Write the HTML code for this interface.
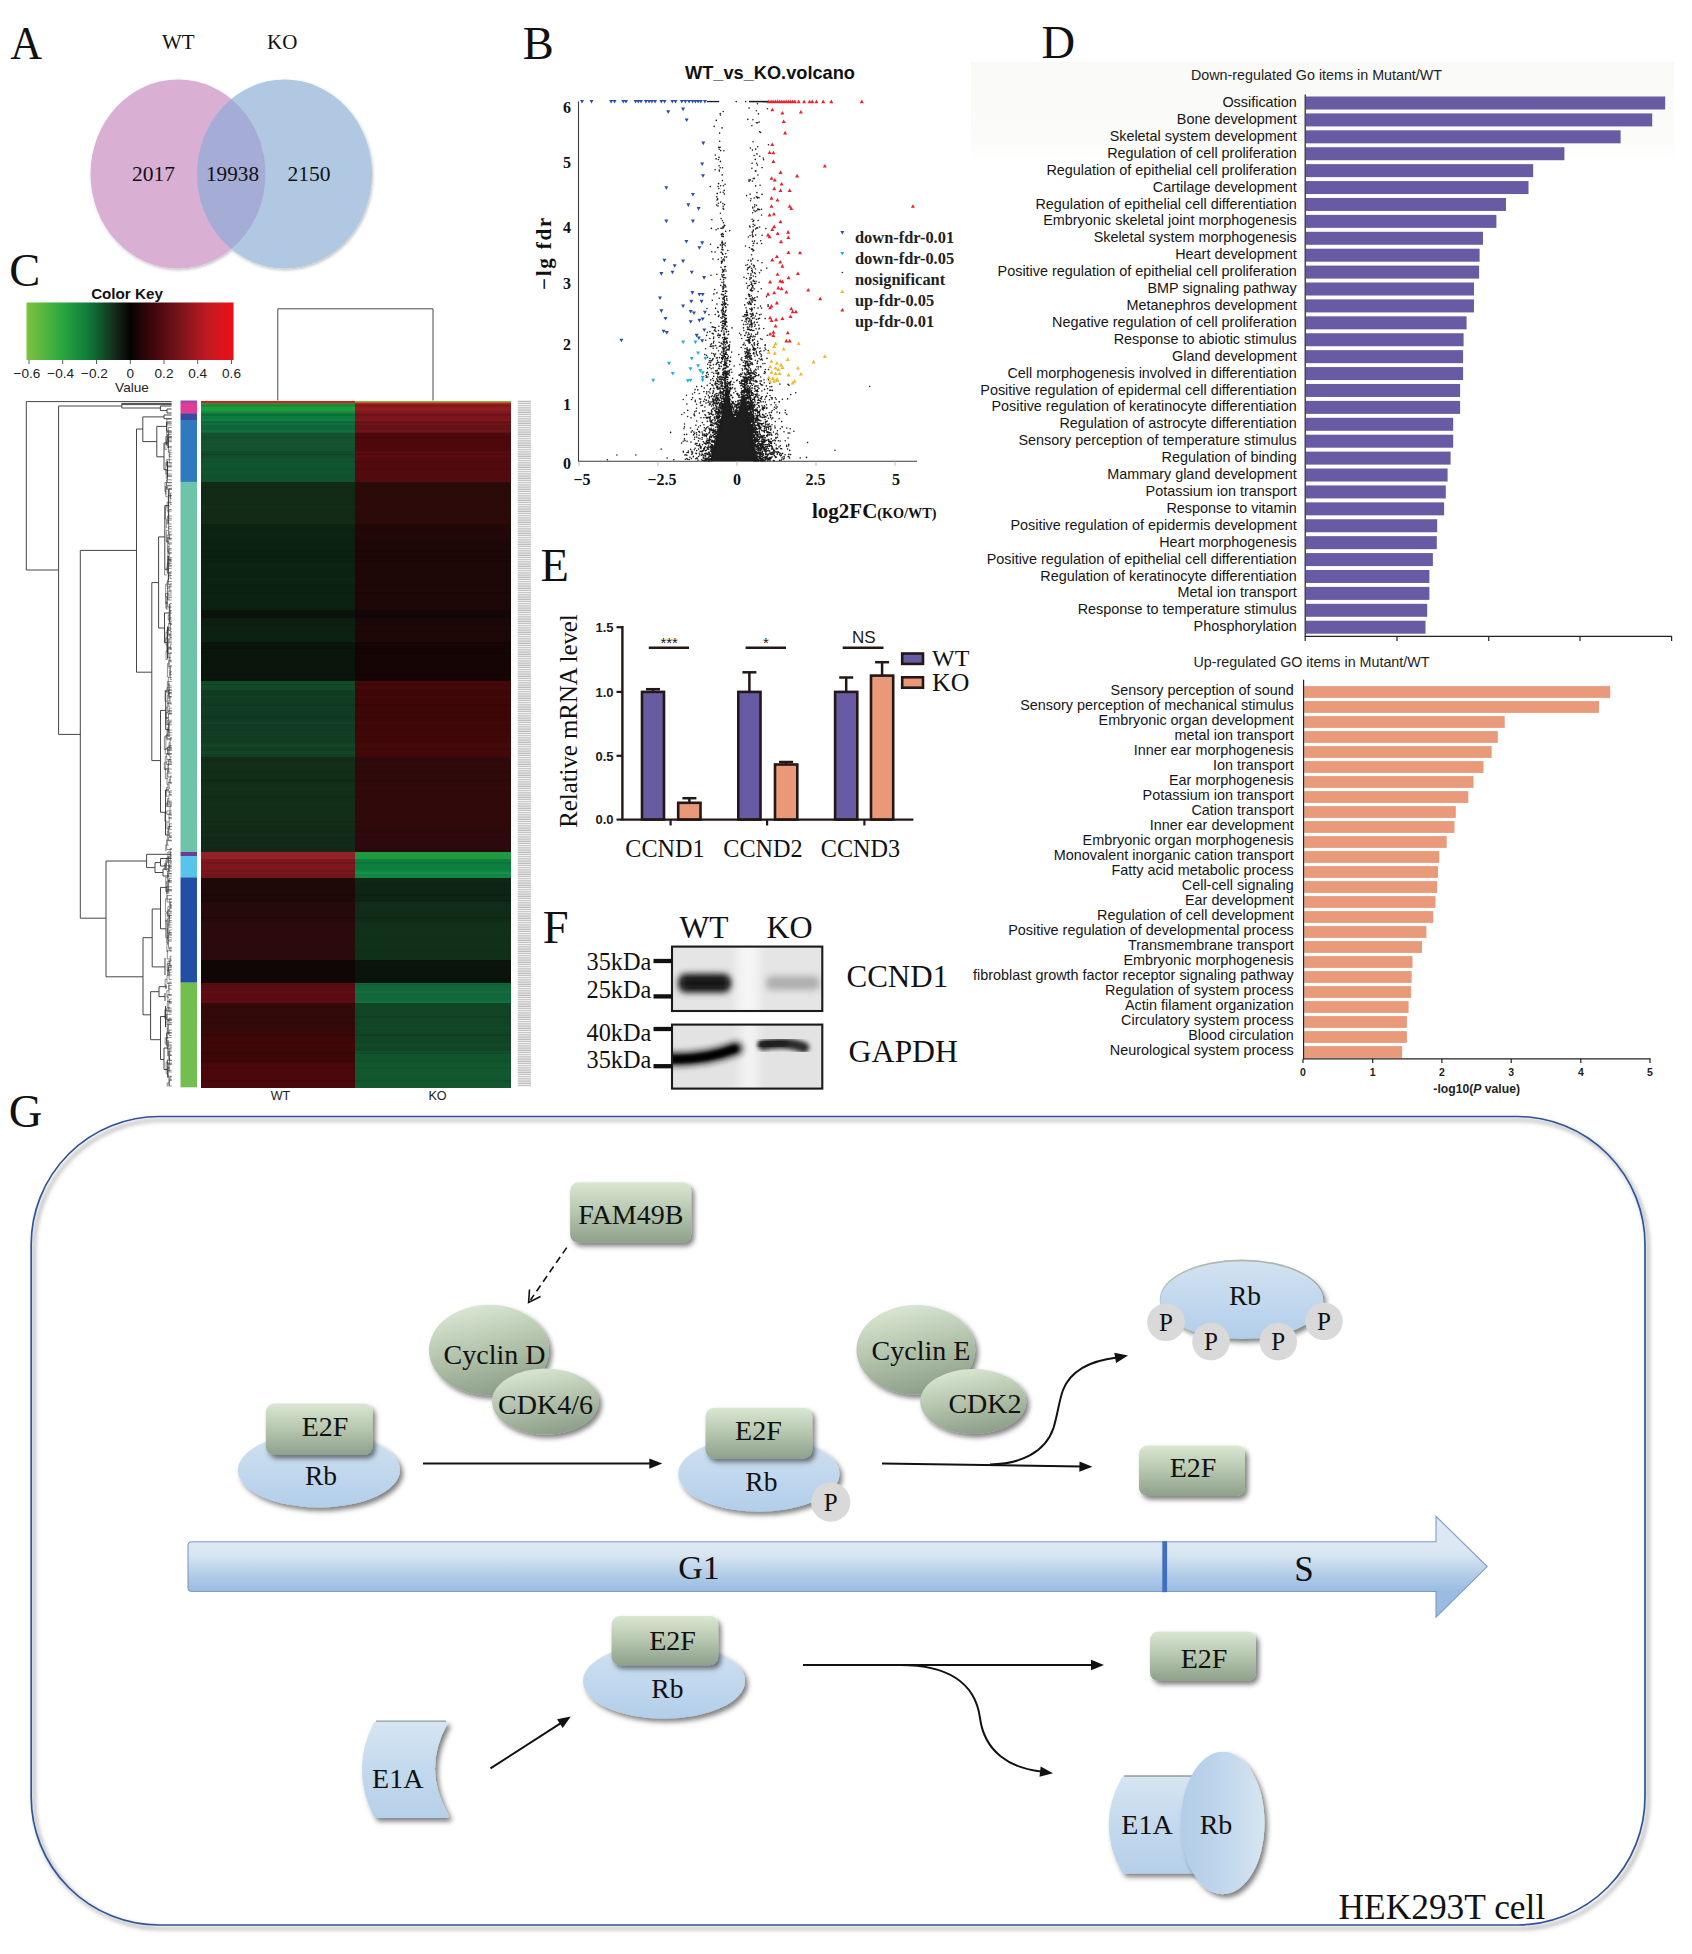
<!DOCTYPE html>
<html lang="en"><head><meta charset="utf-8"><title>Figure</title>
<style>html,body{margin:0;padding:0;background:#fff}svg{display:block}text{white-space:pre}</style></head>
<body><svg width="1692" height="1954" viewBox="0 0 1692 1954">
<defs>
<linearGradient id="ckey" x1="0" x2="1" y1="0" y2="0">
<stop offset="0" stop-color="#7ec13f"/><stop offset="0.17" stop-color="#2aa83f"/><stop offset="0.3" stop-color="#0f7a3a"/><stop offset="0.42" stop-color="#14301c"/><stop offset="0.5" stop-color="#060304"/><stop offset="0.6" stop-color="#3a070b"/><stop offset="0.75" stop-color="#7d141c"/><stop offset="0.88" stop-color="#c41a22"/><stop offset="1" stop-color="#ee0e18"/>
</linearGradient>
<pattern id="hatch" width="14" height="2.2" patternUnits="userSpaceOnUse"><rect width="14" height="2.2" fill="#f6f6f6"/><rect y="0.3" width="14" height="1.1" fill="#b8b8b8"/></pattern>
<linearGradient id="dbg" x1="0" x2="0" y1="0" y2="1"><stop offset="0" stop-color="#f9f9f6"/><stop offset="0.8" stop-color="#fbfbf9"/><stop offset="1" stop-color="#ffffff"/></linearGradient>
<linearGradient id="ggrad" x1="0" x2="0" y1="0" y2="1"><stop offset="0" stop-color="#dae7d2"/><stop offset="0.45" stop-color="#b9c9b2"/><stop offset="1" stop-color="#8fa18b"/></linearGradient>
<linearGradient id="gell" x1="0.3" x2="0.6" y1="0" y2="1"><stop offset="0" stop-color="#dbe8d3"/><stop offset="0.45" stop-color="#b7c7b0"/><stop offset="1" stop-color="#8c9e88"/></linearGradient>
<linearGradient id="bgrad" x1="0" x2="0" y1="0" y2="1"><stop offset="0" stop-color="#d2e2f1"/><stop offset="1" stop-color="#b2ceea"/></linearGradient>
<linearGradient id="bgrad2" x1="0" x2="0" y1="0" y2="1"><stop offset="0" stop-color="#d6e5f2"/><stop offset="0.5" stop-color="#c3d9ed"/><stop offset="1" stop-color="#b6d0e9"/></linearGradient>
<linearGradient id="bgradh" x1="0" x2="1" y1="0" y2="0"><stop offset="0" stop-color="#b2cde8"/><stop offset="0.4" stop-color="#bcd4eb"/><stop offset="1" stop-color="#d6e5f2"/></linearGradient>
<linearGradient id="barg" gradientUnits="userSpaceOnUse" x1="0" x2="0" y1="1541.7" y2="1591.5"><stop offset="0" stop-color="#dde8f3"/><stop offset="0.25" stop-color="#d9e6f2"/><stop offset="0.5" stop-color="#c2d7ec"/><stop offset="0.75" stop-color="#abc8e6"/><stop offset="1" stop-color="#9abce2"/></linearGradient>
<linearGradient id="headg" gradientUnits="userSpaceOnUse" x1="0" x2="0" y1="1516" y2="1617"><stop offset="0" stop-color="#dfe9f4"/><stop offset="0.35" stop-color="#d3e2f0"/><stop offset="0.6" stop-color="#b9d1ea"/><stop offset="1" stop-color="#9abce2"/></linearGradient>
<filter id="sh" x="-20%" y="-20%" width="140%" height="150%"><feDropShadow dx="3" dy="3.5" stdDeviation="2.4" flood-color="#000" flood-opacity="0.5"/></filter>
<filter id="sh2" x="-20%" y="-20%" width="140%" height="140%"><feDropShadow dx="1" dy="1.5" stdDeviation="1.5" flood-color="#000" flood-opacity="0.25"/></filter>
<filter id="shbig" x="-5%" y="-5%" width="110%" height="110%"><feDropShadow dx="3" dy="3.5" stdDeviation="2" flood-color="#000" flood-opacity="0.55"/></filter>
<filter id="bl2" x="-30%" y="-100%" width="160%" height="300%"><feGaussianBlur stdDeviation="1.6"/></filter>
<filter id="bl3" x="-30%" y="-100%" width="160%" height="300%"><feGaussianBlur stdDeviation="2.2"/></filter>
<filter id="bl4" x="-30%" y="-150%" width="160%" height="400%"><feGaussianBlur stdDeviation="3.2"/></filter>
<filter id="bl6" x="-80%" y="-30%" width="260%" height="160%"><feGaussianBlur stdDeviation="5"/></filter>
</defs>
<rect width="1692" height="1954" fill="#ffffff"/>
<g id="panelA">
<text x="10.3" y="58.8" font-family="Liberation Serif, serif" font-size="46.5" fill="#111" transform="translate(10.3,0) scale(0.95,1) translate(-10.3,0)">A</text>
<text x="162.0" y="49.3" font-family="Liberation Serif, serif" font-size="21" fill="#111">WT</text>
<text x="267.0" y="49.3" font-family="Liberation Serif, serif" font-size="21" fill="#111">KO</text>
<g filter="url(#sh2)">
<ellipse cx="178" cy="174" rx="87.5" ry="94.5" fill="#d9afd3"/>
<ellipse cx="284.5" cy="174" rx="87.5" ry="94.5" fill="#b0c8e2"/>
</g>
<clipPath id="cpA"><ellipse cx="178" cy="174" rx="87.5" ry="94.5"/></clipPath>
<ellipse cx="284.5" cy="174" rx="87.5" ry="94.5" fill="#a5acd6" clip-path="url(#cpA)"/>
<text x="153.5" y="181.2" font-family="Liberation Serif, serif" font-size="21.5" text-anchor="middle" fill="#111">2017</text>
<text x="232.5" y="181.2" font-family="Liberation Serif, serif" font-size="21.2" text-anchor="middle" fill="#111">19938</text>
<text x="309.0" y="181.2" font-family="Liberation Serif, serif" font-size="21.5" text-anchor="middle" fill="#111">2150</text>
</g>
<g id="panelC">
<text x="9.3" y="286.4" font-family="Liberation Serif, serif" font-size="46.5" fill="#111">C</text>
<text x="127.0" y="298.8" font-family="Liberation Sans, sans-serif" font-size="15.2" font-weight="bold" text-anchor="middle" fill="#111">Color Key</text>
<rect x="26.50" y="302.50" width="207.00" height="57.50" fill="url(#ckey)"/>
<line x1="29.0" y1="360.0" x2="29.0" y2="364.0" stroke="#333" stroke-width="0.8"/>
<text x="27.0" y="378.3" font-family="Liberation Sans, sans-serif" font-size="13.6" text-anchor="middle" fill="#222">−0.6</text>
<line x1="62.7" y1="360.0" x2="62.7" y2="364.0" stroke="#333" stroke-width="0.8"/>
<text x="60.7" y="378.3" font-family="Liberation Sans, sans-serif" font-size="13.6" text-anchor="middle" fill="#222">−0.4</text>
<line x1="96.5" y1="360.0" x2="96.5" y2="364.0" stroke="#333" stroke-width="0.8"/>
<text x="94.5" y="378.3" font-family="Liberation Sans, sans-serif" font-size="13.6" text-anchor="middle" fill="#222">−0.2</text>
<line x1="130.3" y1="360.0" x2="130.3" y2="364.0" stroke="#333" stroke-width="0.8"/>
<text x="130.3" y="378.3" font-family="Liberation Sans, sans-serif" font-size="13.6" text-anchor="middle" fill="#222">0</text>
<line x1="164.0" y1="360.0" x2="164.0" y2="364.0" stroke="#333" stroke-width="0.8"/>
<text x="164.0" y="378.3" font-family="Liberation Sans, sans-serif" font-size="13.6" text-anchor="middle" fill="#222">0.2</text>
<line x1="197.7" y1="360.0" x2="197.7" y2="364.0" stroke="#333" stroke-width="0.8"/>
<text x="197.7" y="378.3" font-family="Liberation Sans, sans-serif" font-size="13.6" text-anchor="middle" fill="#222">0.4</text>
<line x1="231.5" y1="360.0" x2="231.5" y2="364.0" stroke="#333" stroke-width="0.8"/>
<text x="231.5" y="378.3" font-family="Liberation Sans, sans-serif" font-size="13.6" text-anchor="middle" fill="#222">0.6</text>
<text x="132.0" y="392.0" font-family="Liberation Sans, sans-serif" font-size="13.6" text-anchor="middle" fill="#222">Value</text>
<path d="M277.8 400.5V308.8H433V400.5" fill="none" stroke="#4a4a4a" stroke-width="1"/>
<rect x="180.50" y="400.50" width="16.50" height="2.80" fill="#a04aa8"/>
<rect x="180.50" y="403.00" width="16.50" height="10.60" fill="#e43b97"/>
<rect x="180.50" y="413.30" width="16.50" height="7.00" fill="#3b4ba0"/>
<rect x="180.50" y="420.00" width="16.50" height="62.10" fill="#2f79bf"/>
<rect x="180.50" y="481.80" width="16.50" height="370.50" fill="#6ec3a9"/>
<rect x="180.50" y="852.00" width="16.50" height="4.30" fill="#6a3d9a"/>
<rect x="180.50" y="856.00" width="16.50" height="21.80" fill="#58c4ea"/>
<rect x="180.50" y="877.50" width="16.50" height="105.30" fill="#224fa3"/>
<rect x="180.50" y="982.50" width="16.50" height="104.80" fill="#72bf50"/>
<g shape-rendering="crispEdges">
<rect x="201.00" y="400.50" width="154.50" height="3.10" fill="#e3161c"/>
<rect x="355.30" y="400.50" width="155.30" height="3.10" fill="#6fbe3f"/>
<rect x="201.00" y="403.00" width="154.50" height="10.90" fill="#1f9a3f"/>
<rect x="355.30" y="403.00" width="155.30" height="10.90" fill="#8e1d22"/>
<rect x="201.00" y="404.45" width="154.50" height="2.30" fill="#1c8b39"/>
<rect x="355.30" y="404.45" width="155.30" height="2.30" fill="#801a1e"/>
<rect x="201.00" y="411.43" width="154.50" height="1.73" fill="#1b8b38"/>
<rect x="355.30" y="411.43" width="155.30" height="1.73" fill="#801a1e"/>
<rect x="201.00" y="413.30" width="154.50" height="8.30" fill="#0e7a3e"/>
<rect x="355.30" y="413.30" width="155.30" height="8.30" fill="#7a161b"/>
<rect x="201.00" y="414.41" width="154.50" height="1.87" fill="#0c6e38"/>
<rect x="355.30" y="414.41" width="155.30" height="1.87" fill="#6e1318"/>
<rect x="201.00" y="418.73" width="154.50" height="1.85" fill="#0f8242"/>
<rect x="355.30" y="418.73" width="155.30" height="1.85" fill="#82171c"/>
<rect x="201.00" y="421.00" width="154.50" height="12.60" fill="#10663a"/>
<rect x="355.30" y="421.00" width="155.30" height="12.60" fill="#651217"/>
<rect x="201.00" y="422.67" width="154.50" height="2.25" fill="#11703f"/>
<rect x="355.30" y="422.67" width="155.30" height="2.25" fill="#6e1319"/>
<rect x="201.00" y="429.81" width="154.50" height="1.79" fill="#117040"/>
<rect x="355.30" y="429.81" width="155.30" height="1.79" fill="#6f1319"/>
<rect x="201.00" y="433.00" width="154.50" height="18.60" fill="#14522f"/>
<rect x="355.30" y="433.00" width="155.30" height="18.60" fill="#4c080c"/>
<rect x="201.00" y="436.58" width="154.50" height="1.58" fill="#124b2b"/>
<rect x="355.30" y="436.58" width="155.30" height="1.58" fill="#46070b"/>
<rect x="201.00" y="440.74" width="154.50" height="1.62" fill="#155732"/>
<rect x="355.30" y="440.74" width="155.30" height="1.62" fill="#51080c"/>
<rect x="201.00" y="445.26" width="154.50" height="2.16" fill="#145430"/>
<rect x="355.30" y="445.26" width="155.30" height="2.16" fill="#4e080c"/>
<rect x="201.00" y="451.00" width="154.50" height="7.60" fill="#124a2b"/>
<rect x="355.30" y="451.00" width="155.30" height="7.60" fill="#560c10"/>
<rect x="201.00" y="453.64" width="154.50" height="1.13" fill="#104226"/>
<rect x="355.30" y="453.64" width="155.30" height="1.13" fill="#4d0a0e"/>
<rect x="201.00" y="458.00" width="154.50" height="16.60" fill="#10552f"/>
<rect x="355.30" y="458.00" width="155.30" height="16.60" fill="#520a0e"/>
<rect x="201.00" y="461.04" width="154.50" height="1.86" fill="#0f512d"/>
<rect x="355.30" y="461.04" width="155.30" height="1.86" fill="#4e090d"/>
<rect x="201.00" y="467.82" width="154.50" height="1.91" fill="#0f512c"/>
<rect x="355.30" y="467.82" width="155.30" height="1.91" fill="#4e090d"/>
<rect x="201.00" y="474.00" width="154.50" height="8.60" fill="#115030"/>
<rect x="355.30" y="474.00" width="155.30" height="8.60" fill="#510a0e"/>
<rect x="201.00" y="477.10" width="154.50" height="1.49" fill="#115130"/>
<rect x="355.30" y="477.10" width="155.30" height="1.49" fill="#520a0e"/>
<rect x="201.00" y="482.00" width="154.50" height="42.60" fill="#122b17"/>
<rect x="355.30" y="482.00" width="155.30" height="42.60" fill="#2b0b0a"/>
<rect x="201.00" y="485.63" width="154.50" height="2.46" fill="#112815"/>
<rect x="355.30" y="485.63" width="155.30" height="2.46" fill="#280a09"/>
<rect x="201.00" y="494.99" width="154.50" height="1.24" fill="#112a16"/>
<rect x="355.30" y="494.99" width="155.30" height="1.24" fill="#2a0a09"/>
<rect x="201.00" y="502.01" width="154.50" height="1.30" fill="#112a16"/>
<rect x="355.30" y="502.01" width="155.30" height="1.30" fill="#2a0a09"/>
<rect x="201.00" y="505.51" width="154.50" height="2.34" fill="#132d18"/>
<rect x="355.30" y="505.51" width="155.30" height="2.34" fill="#2d0b0a"/>
<rect x="201.00" y="512.71" width="154.50" height="2.75" fill="#112916"/>
<rect x="355.30" y="512.71" width="155.30" height="2.75" fill="#290a09"/>
<rect x="201.00" y="520.94" width="154.50" height="2.19" fill="#122b17"/>
<rect x="355.30" y="520.94" width="155.30" height="2.19" fill="#2b0b0a"/>
<rect x="201.00" y="524.00" width="154.50" height="15.60" fill="#0d2311"/>
<rect x="355.30" y="524.00" width="155.30" height="15.60" fill="#230808"/>
<rect x="201.00" y="527.52" width="154.50" height="2.89" fill="#0c2210"/>
<rect x="355.30" y="527.52" width="155.30" height="2.89" fill="#220707"/>
<rect x="201.00" y="535.73" width="154.50" height="1.12" fill="#0d2411"/>
<rect x="355.30" y="535.73" width="155.30" height="1.12" fill="#240808"/>
<rect x="201.00" y="539.00" width="154.50" height="71.60" fill="#0c2210"/>
<rect x="355.30" y="539.00" width="155.30" height="71.60" fill="#1e0707"/>
<rect x="201.00" y="542.98" width="154.50" height="2.64" fill="#0b200f"/>
<rect x="355.30" y="542.98" width="155.30" height="2.64" fill="#1c0606"/>
<rect x="201.00" y="549.55" width="154.50" height="2.34" fill="#0a1e0e"/>
<rect x="355.30" y="549.55" width="155.30" height="2.34" fill="#1a0606"/>
<rect x="201.00" y="556.20" width="154.50" height="1.34" fill="#0a1f0e"/>
<rect x="355.30" y="556.20" width="155.30" height="1.34" fill="#1b0606"/>
<rect x="201.00" y="559.83" width="154.50" height="2.54" fill="#0b1f0e"/>
<rect x="355.30" y="559.83" width="155.30" height="2.54" fill="#1b0606"/>
<rect x="201.00" y="565.60" width="154.50" height="1.78" fill="#0c2411"/>
<rect x="355.30" y="565.60" width="155.30" height="1.78" fill="#200707"/>
<rect x="201.00" y="569.79" width="154.50" height="1.90" fill="#0c2210"/>
<rect x="355.30" y="569.79" width="155.30" height="1.90" fill="#1e0707"/>
<rect x="201.00" y="578.10" width="154.50" height="2.64" fill="#0c2411"/>
<rect x="355.30" y="578.10" width="155.30" height="2.64" fill="#200707"/>
<rect x="201.00" y="584.13" width="154.50" height="1.83" fill="#0b200f"/>
<rect x="355.30" y="584.13" width="155.30" height="1.83" fill="#1d0606"/>
<rect x="201.00" y="592.39" width="154.50" height="2.92" fill="#0b1f0e"/>
<rect x="355.30" y="592.39" width="155.30" height="2.92" fill="#1b0606"/>
<rect x="201.00" y="598.18" width="154.50" height="1.46" fill="#0b200f"/>
<rect x="355.30" y="598.18" width="155.30" height="1.46" fill="#1c0606"/>
<rect x="201.00" y="604.07" width="154.50" height="2.18" fill="#0b200f"/>
<rect x="355.30" y="604.07" width="155.30" height="2.18" fill="#1c0606"/>
<rect x="201.00" y="608.27" width="154.50" height="1.73" fill="#0b210f"/>
<rect x="355.30" y="608.27" width="155.30" height="1.73" fill="#1d0606"/>
<rect x="201.00" y="610.00" width="154.50" height="8.60" fill="#0a120b"/>
<rect x="355.30" y="610.00" width="155.30" height="8.60" fill="#120606"/>
<rect x="201.00" y="613.86" width="154.50" height="2.38" fill="#0a120b"/>
<rect x="355.30" y="613.86" width="155.30" height="2.38" fill="#120606"/>
<rect x="201.00" y="618.00" width="154.50" height="9.10" fill="#0c1e0f"/>
<rect x="355.30" y="618.00" width="155.30" height="9.10" fill="#1a0707"/>
<rect x="201.00" y="621.03" width="154.50" height="1.11" fill="#0d2010"/>
<rect x="355.30" y="621.03" width="155.30" height="1.11" fill="#1c0707"/>
<rect x="201.00" y="626.50" width="154.50" height="15.60" fill="#0c2210"/>
<rect x="355.30" y="626.50" width="155.30" height="15.60" fill="#1e0707"/>
<rect x="201.00" y="630.12" width="154.50" height="2.60" fill="#0b210f"/>
<rect x="355.30" y="630.12" width="155.30" height="2.60" fill="#1d0606"/>
<rect x="201.00" y="636.71" width="154.50" height="1.21" fill="#0c2310"/>
<rect x="355.30" y="636.71" width="155.30" height="1.21" fill="#1e0707"/>
<rect x="201.00" y="641.50" width="154.50" height="39.60" fill="#0a150c"/>
<rect x="355.30" y="641.50" width="155.30" height="39.60" fill="#150505"/>
<rect x="201.00" y="642.70" width="154.50" height="1.42" fill="#09130b"/>
<rect x="355.30" y="642.70" width="155.30" height="1.42" fill="#130404"/>
<rect x="201.00" y="647.82" width="154.50" height="1.11" fill="#08120a"/>
<rect x="355.30" y="647.82" width="155.30" height="1.11" fill="#120404"/>
<rect x="201.00" y="651.68" width="154.50" height="1.20" fill="#09140b"/>
<rect x="355.30" y="651.68" width="155.30" height="1.20" fill="#140404"/>
<rect x="201.00" y="655.01" width="154.50" height="2.75" fill="#0a150c"/>
<rect x="355.30" y="655.01" width="155.30" height="2.75" fill="#150505"/>
<rect x="201.00" y="660.50" width="154.50" height="1.50" fill="#09140b"/>
<rect x="355.30" y="660.50" width="155.30" height="1.50" fill="#140404"/>
<rect x="201.00" y="665.83" width="154.50" height="1.25" fill="#0a160c"/>
<rect x="355.30" y="665.83" width="155.30" height="1.25" fill="#160505"/>
<rect x="201.00" y="674.04" width="154.50" height="1.93" fill="#09140b"/>
<rect x="355.30" y="674.04" width="155.30" height="1.93" fill="#140404"/>
<rect x="201.00" y="678.40" width="154.50" height="1.20" fill="#09140b"/>
<rect x="355.30" y="678.40" width="155.30" height="1.20" fill="#140404"/>
<rect x="201.00" y="680.50" width="154.50" height="9.60" fill="#134a2a"/>
<rect x="355.30" y="680.50" width="155.30" height="9.60" fill="#440809"/>
<rect x="201.00" y="683.99" width="154.50" height="1.32" fill="#114225"/>
<rect x="355.30" y="683.99" width="155.30" height="1.32" fill="#3c0708"/>
<rect x="201.00" y="689.50" width="154.50" height="45.10" fill="#113b22"/>
<rect x="355.30" y="689.50" width="155.30" height="45.10" fill="#3d0708"/>
<rect x="201.00" y="692.08" width="154.50" height="1.29" fill="#113b22"/>
<rect x="355.30" y="692.08" width="155.30" height="1.29" fill="#3d0708"/>
<rect x="201.00" y="695.51" width="154.50" height="2.06" fill="#124125"/>
<rect x="355.30" y="695.51" width="155.30" height="2.06" fill="#430708"/>
<rect x="201.00" y="703.89" width="154.50" height="2.39" fill="#103720"/>
<rect x="355.30" y="703.89" width="155.30" height="2.39" fill="#390607"/>
<rect x="201.00" y="710.11" width="154.50" height="1.33" fill="#123e24"/>
<rect x="355.30" y="710.11" width="155.30" height="1.33" fill="#400708"/>
<rect x="201.00" y="716.11" width="154.50" height="2.56" fill="#103820"/>
<rect x="355.30" y="716.11" width="155.30" height="2.56" fill="#3a0607"/>
<rect x="201.00" y="721.78" width="154.50" height="2.62" fill="#124125"/>
<rect x="355.30" y="721.78" width="155.30" height="2.62" fill="#430708"/>
<rect x="201.00" y="730.67" width="154.50" height="2.61" fill="#123f24"/>
<rect x="355.30" y="730.67" width="155.30" height="2.61" fill="#410708"/>
<rect x="201.00" y="734.00" width="154.50" height="23.60" fill="#123f24"/>
<rect x="355.30" y="734.00" width="155.30" height="23.60" fill="#400808"/>
<rect x="201.00" y="735.68" width="154.50" height="2.04" fill="#113c22"/>
<rect x="355.30" y="735.68" width="155.30" height="2.04" fill="#3d0707"/>
<rect x="201.00" y="739.86" width="154.50" height="1.06" fill="#113b22"/>
<rect x="355.30" y="739.86" width="155.30" height="1.06" fill="#3c0707"/>
<rect x="201.00" y="744.21" width="154.50" height="2.39" fill="#134527"/>
<rect x="355.30" y="744.21" width="155.30" height="2.39" fill="#460808"/>
<rect x="201.00" y="750.83" width="154.50" height="2.87" fill="#134527"/>
<rect x="355.30" y="750.83" width="155.30" height="2.87" fill="#460808"/>
<rect x="201.00" y="757.00" width="154.50" height="69.60" fill="#122e19"/>
<rect x="355.30" y="757.00" width="155.30" height="69.60" fill="#300a0b"/>
<rect x="201.00" y="759.09" width="154.50" height="1.44" fill="#102b17"/>
<rect x="355.30" y="759.09" width="155.30" height="1.44" fill="#2d090a"/>
<rect x="201.00" y="763.52" width="154.50" height="1.41" fill="#122f19"/>
<rect x="355.30" y="763.52" width="155.30" height="1.41" fill="#310a0b"/>
<rect x="201.00" y="771.43" width="154.50" height="2.68" fill="#112d18"/>
<rect x="355.30" y="771.43" width="155.30" height="2.68" fill="#2f090a"/>
<rect x="201.00" y="779.37" width="154.50" height="2.60" fill="#102916"/>
<rect x="355.30" y="779.37" width="155.30" height="2.60" fill="#2b0909"/>
<rect x="201.00" y="787.28" width="154.50" height="2.82" fill="#13301a"/>
<rect x="355.30" y="787.28" width="155.30" height="2.82" fill="#320a0b"/>
<rect x="201.00" y="795.85" width="154.50" height="1.96" fill="#102a17"/>
<rect x="355.30" y="795.85" width="155.30" height="1.96" fill="#2c090a"/>
<rect x="201.00" y="803.75" width="154.50" height="1.67" fill="#13311a"/>
<rect x="355.30" y="803.75" width="155.30" height="1.67" fill="#330a0b"/>
<rect x="201.00" y="812.27" width="154.50" height="1.79" fill="#112d18"/>
<rect x="355.30" y="812.27" width="155.30" height="1.79" fill="#2e090a"/>
<rect x="201.00" y="820.80" width="154.50" height="2.45" fill="#102a17"/>
<rect x="355.30" y="820.80" width="155.30" height="2.45" fill="#2c090a"/>
<rect x="201.00" y="826.00" width="154.50" height="26.60" fill="#112a17"/>
<rect x="355.30" y="826.00" width="155.30" height="26.60" fill="#2c090a"/>
<rect x="201.00" y="827.45" width="154.50" height="2.81" fill="#122c18"/>
<rect x="355.30" y="827.45" width="155.30" height="2.81" fill="#2e090a"/>
<rect x="201.00" y="832.99" width="154.50" height="2.65" fill="#122e19"/>
<rect x="355.30" y="832.99" width="155.30" height="2.65" fill="#30090b"/>
<rect x="201.00" y="840.93" width="154.50" height="1.70" fill="#112a17"/>
<rect x="355.30" y="840.93" width="155.30" height="1.70" fill="#2c090a"/>
<rect x="201.00" y="845.29" width="154.50" height="1.03" fill="#122e19"/>
<rect x="355.30" y="845.29" width="155.30" height="1.03" fill="#30090b"/>
<rect x="201.00" y="852.00" width="154.50" height="7.60" fill="#95212a"/>
<rect x="355.30" y="852.00" width="155.30" height="7.60" fill="#1f9a40"/>
<rect x="201.00" y="854.58" width="154.50" height="2.87" fill="#922029"/>
<rect x="355.30" y="854.58" width="155.30" height="2.87" fill="#1e973f"/>
<rect x="201.00" y="859.00" width="154.50" height="11.60" fill="#7c171d"/>
<rect x="355.30" y="859.00" width="155.30" height="11.60" fill="#0c7e3e"/>
<rect x="201.00" y="862.48" width="154.50" height="1.42" fill="#75151b"/>
<rect x="355.30" y="862.48" width="155.30" height="1.42" fill="#0b773a"/>
<rect x="201.00" y="867.37" width="154.50" height="1.48" fill="#7e171d"/>
<rect x="355.30" y="867.37" width="155.30" height="1.48" fill="#0c803f"/>
<rect x="201.00" y="870.00" width="154.50" height="8.10" fill="#70161b"/>
<rect x="355.30" y="870.00" width="155.30" height="8.10" fill="#138544"/>
<rect x="201.00" y="872.26" width="154.50" height="1.26" fill="#7a171d"/>
<rect x="355.30" y="872.26" width="155.30" height="1.26" fill="#14904a"/>
<rect x="201.00" y="877.50" width="154.50" height="25.10" fill="#1e0808"/>
<rect x="355.30" y="877.50" width="155.30" height="25.10" fill="#0e2513"/>
<rect x="201.00" y="879.87" width="154.50" height="2.17" fill="#200808"/>
<rect x="355.30" y="879.87" width="155.30" height="2.17" fill="#0f2814"/>
<rect x="201.00" y="886.14" width="154.50" height="2.84" fill="#1e0808"/>
<rect x="355.30" y="886.14" width="155.30" height="2.84" fill="#0e2513"/>
<rect x="201.00" y="893.64" width="154.50" height="2.05" fill="#1a0707"/>
<rect x="355.30" y="893.64" width="155.30" height="2.05" fill="#0c2110"/>
<rect x="201.00" y="899.89" width="154.50" height="1.37" fill="#1a0707"/>
<rect x="355.30" y="899.89" width="155.30" height="1.37" fill="#0c2010"/>
<rect x="201.00" y="902.00" width="154.50" height="20.60" fill="#260909"/>
<rect x="355.30" y="902.00" width="155.30" height="20.60" fill="#102c18"/>
<rect x="201.00" y="903.52" width="154.50" height="1.95" fill="#270909"/>
<rect x="355.30" y="903.52" width="155.30" height="1.95" fill="#102e19"/>
<rect x="201.00" y="910.25" width="154.50" height="1.65" fill="#260909"/>
<rect x="355.30" y="910.25" width="155.30" height="1.65" fill="#102c18"/>
<rect x="201.00" y="916.68" width="154.50" height="2.57" fill="#220808"/>
<rect x="355.30" y="916.68" width="155.30" height="2.57" fill="#0e2815"/>
<rect x="201.00" y="922.00" width="154.50" height="38.60" fill="#2a0a0a"/>
<rect x="355.30" y="922.00" width="155.30" height="38.60" fill="#10301a"/>
<rect x="201.00" y="923.75" width="154.50" height="1.55" fill="#2c0a0a"/>
<rect x="355.30" y="923.75" width="155.30" height="1.55" fill="#10321b"/>
<rect x="201.00" y="929.84" width="154.50" height="2.12" fill="#2c0a0a"/>
<rect x="355.30" y="929.84" width="155.30" height="2.12" fill="#10321b"/>
<rect x="201.00" y="938.52" width="154.50" height="1.89" fill="#2b0a0a"/>
<rect x="355.30" y="938.52" width="155.30" height="1.89" fill="#10311a"/>
<rect x="201.00" y="944.94" width="154.50" height="2.02" fill="#2b0a0a"/>
<rect x="355.30" y="944.94" width="155.30" height="2.02" fill="#10321b"/>
<rect x="201.00" y="951.22" width="154.50" height="2.07" fill="#290909"/>
<rect x="355.30" y="951.22" width="155.30" height="2.07" fill="#0f2f19"/>
<rect x="201.00" y="960.00" width="154.50" height="23.10" fill="#100606"/>
<rect x="355.30" y="960.00" width="155.30" height="23.10" fill="#0a140c"/>
<rect x="201.00" y="963.10" width="154.50" height="2.75" fill="#110606"/>
<rect x="355.30" y="963.10" width="155.30" height="2.75" fill="#0a150d"/>
<rect x="201.00" y="969.15" width="154.50" height="2.12" fill="#110606"/>
<rect x="355.30" y="969.15" width="155.30" height="2.12" fill="#0a150d"/>
<rect x="201.00" y="977.47" width="154.50" height="1.27" fill="#0e0505"/>
<rect x="355.30" y="977.47" width="155.30" height="1.27" fill="#09120b"/>
<rect x="201.00" y="982.50" width="154.50" height="21.10" fill="#5a0c12"/>
<rect x="355.30" y="982.50" width="155.30" height="21.10" fill="#12663a"/>
<rect x="201.00" y="983.72" width="154.50" height="1.48" fill="#510a10"/>
<rect x="355.30" y="983.72" width="155.30" height="1.48" fill="#105c34"/>
<rect x="201.00" y="990.55" width="154.50" height="2.57" fill="#610d13"/>
<rect x="355.30" y="990.55" width="155.30" height="2.57" fill="#136e3f"/>
<rect x="201.00" y="995.89" width="154.50" height="2.43" fill="#5d0c12"/>
<rect x="355.30" y="995.89" width="155.30" height="2.43" fill="#12693c"/>
<rect x="201.00" y="1001.03" width="154.50" height="1.97" fill="#630d13"/>
<rect x="355.30" y="1001.03" width="155.30" height="1.97" fill="#13703f"/>
<rect x="201.00" y="1003.00" width="154.50" height="28.60" fill="#330909"/>
<rect x="355.30" y="1003.00" width="155.30" height="28.60" fill="#114526"/>
<rect x="201.00" y="1006.86" width="154.50" height="1.80" fill="#320808"/>
<rect x="355.30" y="1006.86" width="155.30" height="1.80" fill="#104425"/>
<rect x="201.00" y="1015.60" width="154.50" height="2.66" fill="#2f0808"/>
<rect x="355.30" y="1015.60" width="155.30" height="2.66" fill="#0f3f23"/>
<rect x="201.00" y="1022.43" width="154.50" height="2.03" fill="#310808"/>
<rect x="355.30" y="1022.43" width="155.30" height="2.03" fill="#104224"/>
<rect x="201.00" y="1027.44" width="154.50" height="1.64" fill="#350909"/>
<rect x="355.30" y="1027.44" width="155.30" height="1.64" fill="#114827"/>
<rect x="201.00" y="1031.00" width="154.50" height="20.60" fill="#3d0708"/>
<rect x="355.30" y="1031.00" width="155.30" height="20.60" fill="#114526"/>
<rect x="201.00" y="1033.66" width="154.50" height="1.88" fill="#360607"/>
<rect x="355.30" y="1033.66" width="155.30" height="1.88" fill="#0f3d21"/>
<rect x="201.00" y="1039.20" width="154.50" height="2.25" fill="#3d0708"/>
<rect x="355.30" y="1039.20" width="155.30" height="2.25" fill="#114526"/>
<rect x="201.00" y="1043.77" width="154.50" height="2.97" fill="#400708"/>
<rect x="355.30" y="1043.77" width="155.30" height="2.97" fill="#124928"/>
<rect x="201.00" y="1051.00" width="154.50" height="12.60" fill="#3d0708"/>
<rect x="355.30" y="1051.00" width="155.30" height="12.60" fill="#11552f"/>
<rect x="201.00" y="1052.31" width="154.50" height="1.53" fill="#360607"/>
<rect x="355.30" y="1052.31" width="155.30" height="1.53" fill="#0f4c2a"/>
<rect x="201.00" y="1059.74" width="154.50" height="1.54" fill="#380607"/>
<rect x="355.30" y="1059.74" width="155.30" height="1.54" fill="#0f4e2b"/>
<rect x="201.00" y="1063.00" width="154.50" height="24.60" fill="#4a080c"/>
<rect x="355.30" y="1063.00" width="155.30" height="24.60" fill="#11582f"/>
<rect x="201.00" y="1066.73" width="154.50" height="2.64" fill="#46070b"/>
<rect x="355.30" y="1066.73" width="155.30" height="2.64" fill="#10532c"/>
<rect x="201.00" y="1072.12" width="154.50" height="2.84" fill="#4b080c"/>
<rect x="355.30" y="1072.12" width="155.30" height="2.84" fill="#11592f"/>
<rect x="201.00" y="1080.46" width="154.50" height="1.18" fill="#42070a"/>
<rect x="355.30" y="1080.46" width="155.30" height="1.18" fill="#0f4f2a"/>
</g>
<rect x="355.30" y="402.60" width="155.30" height="1.60" fill="#d5161d"/>
<rect x="517.70" y="400.50" width="13.30" height="686.50" fill="url(#hatch)"/>
<text x="280.5" y="1100.0" font-family="Liberation Sans, sans-serif" font-size="12.6" text-anchor="middle" fill="#222">WT</text>
<text x="437.5" y="1100.0" font-family="Liberation Sans, sans-serif" font-size="12.6" text-anchor="middle" fill="#222">KO</text>
<path d="M26.3 401.6H171.6M26.3 401.6V570.0M26.3 570.0H58.6M58.6 406.0V734.4M58.6 406.0H121.8M121.8 403.4V408.0M121.8 403.4H171.6M121.8 404.6H171.6M121.8 408.0H160.4M160.4 406.0V410.6M160.4 406.0H171.6M160.4 410.6H167.0M167.0 409.0V413.0M167.0 409.0H171.6M167.0 413.0H171.6M58.6 734.4H80.3M80.3 550.4V918.2M80.3 550.4H136.5M136.5 429.0V672.2M136.5 429.0H142.8M142.8 416.9V441.6M142.8 416.9H164.0M164.0 415.0V418.7M164.0 415.0H171.6M164.0 418.7H171.6M142.8 441.6H156.8M156.8 426.4V456.8M156.8 426.4H166.6M166.6 422.0V431.0M166.6 422.0H171.6M166.6 431.0H171.6M156.8 456.8H164.0M164.0 442.9V469.7M164.0 442.9H168.4M164.0 469.7H167.5M167.5 460.8V477.8M168.4 437.0V448.0M136.5 672.2H151.8M151.8 582.6V760.6M151.8 582.6H158.6M158.6 536.9V628.0M158.6 536.9H164.8M164.8 505.6V569.2M164.8 505.6H168.4M164.8 569.2H168.4M168.4 489.5V523.5M168.4 556.0V580.0M158.6 628.0H164.5M164.5 613.0V642.6M164.5 613.0H169.3M164.5 642.6H167.5M167.5 626.5V658.8M169.3 604.0V622.0M151.8 760.6H160.5M160.5 710.4V812.3M160.5 710.4H165.7M165.7 691.0V729.5M165.7 691.0H169.0M165.7 729.5H169.0M169.0 683.0V699.0M169.0 722.0V737.0M160.5 812.3H165.5M165.5 790.0V835.0M165.5 790.0H169.0M165.5 835.0H169.0M80.3 918.2H106.0M106.0 861.0V976.8M106.0 861.0H146.6M146.6 854.3V867.6M146.6 854.3H171.6M146.6 867.6H155.0M155.0 862.6V872.5M155.0 862.6H160.5M155.0 872.5H163.0M160.5 858.5V866.0M160.5 858.5H171.6M160.5 866.0H166.0M163.0 869.0V876.0M163.0 869.0H169.0M163.0 876.0H169.0M166.0 864.0V868.0M106.0 976.8H143.0M143.0 937.7V1014.8M143.0 937.7H152.2M152.2 909.0V966.9M152.2 909.0H160.5M160.5 887.4V928.8M160.5 887.4H167.0M160.5 928.8H166.0M167.0 881.0V894.0M166.0 920.0V938.0M152.2 966.9H165.0M165.0 958.0V975.0M143.0 1014.8H150.6M150.6 991.7V1039.7M150.6 991.7H159.0M159.0 986.7V996.6M159.0 986.7H166.0M159.0 996.6H165.0M166.0 984.5V989.0M165.0 993.0V1001.0M150.6 1039.7H160.5M160.5 1016.5V1059.5M160.5 1016.5H165.5M165.5 1006.0V1027.0M160.5 1059.5H164.0M164.0 1048.0V1069.5M164.0 1048.0H168.0M164.0 1069.5H168.0M168.0 1040.0V1056.0M168.0 1062.0V1078.0" fill="none" stroke="#3c3c3c" stroke-width="0.95"/>
<path d="M171.8 419.0H166.8V425.0H171.8M171.8 423.4H166.8V432.0H171.8M171.8 427.5H168.3V436.6H171.8M168.3 432.0H166.6V445.3H168.3M171.8 432.7H168.6V436.6H171.8M168.6 434.6H167.6V440.3H168.6M171.8 434.5H167.7V438.9H171.8M167.7 436.7H165.7V443.6H167.7M171.8 437.5H167.9V441.8H171.8M167.9 439.6H166.7V443.8H167.9M171.8 440.8H167.3V447.7H171.8M167.3 444.3H164.9V449.3H167.3M171.8 446.4H168.5V452.5H171.8M171.8 450.2H169.3V456.8H171.8M171.8 454.2H169.3V463.0H171.8M171.8 459.7H166.7V465.2H171.8M166.7 462.5H165.8V473.9H166.7M171.8 462.8H166.8V467.0H171.8M171.8 466.3H167.6V474.0H171.8M167.6 470.2H166.3V478.7H167.6M171.8 470.3H167.6V476.4H171.8M171.8 475.7H167.5V482.6H171.8M171.8 479.8H166.5V485.3H171.8M166.5 482.5H164.9V491.5H166.5M171.8 482.7H166.5V489.3H171.8M166.5 486.0H165.6V494.0H166.5M171.8 485.8H167.7V489.0H171.8M167.7 487.4H165.9V496.7H167.7M171.8 488.3H169.4V495.9H171.8M171.8 493.0H170.4V498.3H171.8M170.4 495.7H168.4V506.1H170.4M171.8 495.5H170.1V504.4H171.8M171.8 502.4H167.1V511.1H171.8M167.1 506.8H165.4V519.1H167.1M171.8 509.5H168.8V518.3H171.8M171.8 516.1H167.4V524.0H171.8M167.4 520.1H166.4V527.7H167.4M171.8 520.0H168.7V528.9H171.8M171.8 526.5H168.5V534.3H171.8M168.5 530.4H166.3V541.9H168.5M171.8 531.8H169.1V538.5H171.8M169.1 535.1H167.1V541.7H169.1M171.8 535.0H169.4V539.9H171.8M169.4 537.5H167.4V551.2H169.4M171.8 538.3H168.4V544.0H171.8M171.8 542.8H169.1V550.1H171.8M169.1 546.5H168.0V553.0H169.1M171.8 548.6H168.8V553.7H171.8M168.8 551.1H167.9V557.8H168.8M171.8 552.4H169.2V560.3H171.8M169.2 556.3H167.5V565.0H169.2M171.8 557.6H170.1V561.4H171.8M170.1 559.5H167.6V572.9H170.1M171.8 559.3H169.8V565.6H171.8M171.8 563.4H167.3V568.3H171.8M171.8 566.1H167.1V573.1H171.8M167.1 569.6H164.6V574.9H167.1M171.8 571.8H170.0V578.4H171.8M171.8 575.5H168.4V584.8H171.8M168.4 580.1H167.6V589.0H168.4M171.8 581.5H167.1V586.7H171.8M167.1 584.1H165.7V596.5H167.1M171.8 583.8H169.9V592.1H171.8M169.9 588.0H167.5V599.1H169.9M171.8 590.9H168.0V595.9H171.8M168.0 593.4H165.5V603.3H168.0M171.8 594.0H167.6V600.0H171.8M167.6 597.0H166.6V609.3H167.6M171.8 597.5H167.5V607.0H171.8M167.5 602.2H165.8V608.1H167.5M171.8 603.4H170.0V613.1H171.8M171.8 610.5H170.3V619.9H171.8M170.3 615.2H168.2V619.7H170.3M171.8 617.8H169.5V624.0H171.8M171.8 621.4H170.2V624.7H171.8M170.2 623.0H168.6V630.5H170.2M171.8 623.3H170.4V631.5H171.8M170.4 627.4H168.5V634.4H170.4M171.8 629.0H167.2V634.8H171.8M167.2 631.9H166.0V645.0H167.2M171.8 632.9H170.1V637.5H171.8M171.8 635.9H167.3V639.9H171.8M167.3 637.9H165.9V642.8H167.3M171.8 638.1H168.8V642.9H171.8M171.8 641.9H168.2V647.8H171.8M168.2 644.8H166.7V652.2H168.2M171.8 644.7H170.4V649.6H171.8M170.4 647.2H168.7V657.5H170.4M171.8 648.8H167.6V653.4H171.8M167.6 651.1H166.1V659.6H167.6M171.8 652.8H170.0V661.8H171.8M170.0 657.3H169.1V668.4H170.0M171.8 660.4H168.8V666.8H171.8M168.8 663.6H167.4V676.9H168.8M171.8 665.6H170.4V674.6H171.8M170.4 670.1H169.4V675.7H170.4M171.8 671.8H170.3V679.6H171.8M171.8 677.5H168.3V685.9H171.8M171.8 681.5H167.4V689.9H171.8M171.8 687.7H167.0V692.9H171.8M167.0 690.3H165.1V701.3H167.0M171.8 690.3H168.6V693.8H171.8M171.8 692.5H168.9V697.0H171.8M168.9 694.8H167.6V703.4H168.9M171.8 696.5H170.0V704.0H171.8M170.0 700.3H168.8V706.7H170.0M171.8 703.1H167.7V711.1H171.8M167.7 707.1H166.1V717.8H167.7M171.8 708.2H169.2V713.0H171.8M171.8 710.8H167.9V714.1H171.8M167.9 712.5H165.9V718.4H167.9M171.8 713.5H168.5V721.6H171.8M168.5 717.6H166.1V724.7H168.5M171.8 720.2H167.4V724.8H171.8M171.8 722.9H168.5V732.5H171.8M168.5 727.7H167.3V735.9H168.5M171.8 730.1H167.1V739.7H171.8M167.1 734.9H165.9V748.7H167.1M171.8 735.0H166.7V738.4H171.8M166.7 736.7H164.4V749.6H166.7M171.8 737.7H170.2V747.7H171.8M170.2 742.7H169.1V756.0H170.2M171.8 745.5H169.2V748.7H171.8M169.2 747.1H167.7V754.4H169.2M171.8 747.2H167.6V750.2H171.8M167.6 748.7H165.2V754.0H167.6M171.8 749.9H167.9V754.3H171.8M171.8 753.5H166.7V759.6H171.8M166.7 756.5H165.3V769.7H166.7M171.8 756.8H170.1V762.3H171.8M170.1 759.5H168.6V771.7H170.1M171.8 761.2H166.6V764.5H171.8M166.6 762.8H164.3V769.4H166.6M171.8 763.8H167.9V773.1H171.8M167.9 768.4H165.4V778.6H167.9M171.8 769.0H167.8V777.1H171.8M167.8 773.0H167.0V784.6H167.8M171.8 776.0H170.3V783.4H171.8M170.3 779.7H169.1V788.4H170.3M171.8 782.5H168.0V792.2H171.8M168.0 787.3H166.5V796.3H168.0M171.8 790.9H169.7V795.2H171.8M171.8 794.4H168.9V802.8H171.8M168.9 798.6H167.6V806.2H168.9M171.8 801.2H167.3V804.7H171.8M171.8 803.1H166.6V806.6H171.8M171.8 805.2H170.0V815.1H171.8M171.8 810.8H166.9V814.4H171.8M166.9 812.6H164.9V821.1H166.9M171.8 812.8H169.0V818.7H171.8M171.8 817.5H169.2V826.4H171.8M169.2 821.9H166.9V828.9H169.2M171.8 823.8H169.5V829.4H171.8M169.5 826.6H168.2V833.0H169.5M171.8 826.7H168.8V835.9H171.8M168.8 831.3H167.3V845.2H168.8M171.8 832.9H169.7V837.5H171.8M171.8 837.0H168.4V840.8H171.8M171.8 840.1H166.7V849.5H171.8M166.7 844.8H165.7V850.7H166.7M171.8 848.5H170.2V855.6H171.8M170.2 852.0H167.9V860.5H170.2M171.8 852.5H170.3V860.9H171.8M170.3 856.7H168.5V866.9H170.3M171.8 857.1H167.1V862.7H171.8M167.1 859.9H165.8V869.9H167.1M171.8 861.3H166.5V865.7H171.8M166.5 863.5H164.6V869.3H166.5M171.8 863.9H169.7V868.3H171.8M169.7 866.1H168.8V871.1H169.7M171.8 866.7H169.1V873.5H171.8M169.1 870.1H168.0V881.0H169.1M171.8 871.0H167.7V876.0H171.8M171.8 873.9H167.9V880.9H171.8M167.9 877.4H165.7V891.4H167.9M171.8 878.2H169.4V882.6H171.8M169.4 880.4H168.6V893.4H169.4M171.8 881.0H168.1V889.8H171.8M171.8 886.8H166.6V890.9H171.8M171.8 889.8H166.9V899.2H171.8M171.8 895.6H167.1V902.1H171.8M167.1 898.9H165.4V912.1H167.1M171.8 898.9H169.7V905.3H171.8M171.8 902.3H170.3V906.2H171.8M171.8 904.9H170.2V908.3H171.8M170.2 906.6H167.9V916.8H170.2M171.8 907.7H169.6V911.8H171.8M169.6 909.8H168.2V922.2H169.6M171.8 911.1H167.4V915.4H171.8M167.4 913.2H165.7V921.1H167.4M171.8 913.2H169.4V918.0H171.8M171.8 915.5H169.5V922.4H171.8M169.5 918.9H167.3V924.1H169.5M171.8 920.5H169.0V927.3H171.8M169.0 923.9H167.5V933.7H169.0M171.8 924.9H168.3V932.5H171.8M168.3 928.7H167.4V938.8H168.3M171.8 930.0H169.6V934.6H171.8M171.8 933.0H168.4V937.3H171.8M168.4 935.1H167.4V943.4H168.4M171.8 935.1H168.5V941.2H171.8M168.5 938.1H166.7V943.0H168.5M171.8 939.8H168.5V948.3H171.8M168.5 944.1H166.9V951.8H168.5M171.8 947.3H169.9V951.2H171.8M171.8 950.3H167.3V959.0H171.8M171.8 956.2H170.2V965.9H171.8M170.2 961.0H168.0V974.3H170.2M171.8 960.8H169.5V966.3H171.8M169.5 963.6H167.2V970.3H169.5M171.8 965.3H168.5V969.3H171.8M171.8 967.5H168.5V972.3H171.8M168.5 969.9H167.7V975.7H168.5M171.8 970.0H169.2V979.6H171.8M171.8 975.0H167.0V983.5H171.8M167.0 979.3H165.1V986.9H167.0M171.8 982.2H168.8V989.1H171.8M171.8 985.6H169.0V995.6H171.8M169.0 990.6H166.9V997.2H169.0M171.8 994.5H167.9V1001.6H171.8M171.8 999.1H169.5V1003.3H171.8M169.5 1001.2H167.3V1007.7H169.5M171.8 1002.2H168.8V1012.1H171.8M171.8 1008.1H166.6V1011.1H171.8M166.6 1009.6H164.8V1017.9H166.6M171.8 1010.1H167.0V1019.4H171.8M167.0 1014.7H165.1V1019.0H167.0M171.8 1014.3H166.9V1019.8H171.8M166.9 1017.0H165.7V1026.9H166.9M171.8 1018.2H169.0V1022.6H171.8M169.0 1020.4H168.0V1033.8H169.0M171.8 1020.7H166.9V1024.7H171.8M171.8 1024.1H168.1V1032.6H171.8M168.1 1028.3H167.3V1038.8H168.1M171.8 1030.1H169.1V1035.5H171.8M169.1 1032.8H166.7V1044.1H169.1M171.8 1033.1H166.7V1042.4H171.8M166.7 1037.8H165.2V1044.2H166.7M171.8 1037.6H166.5V1046.0H171.8M171.8 1044.9H167.3V1048.9H171.8M171.8 1047.7H169.8V1055.1H171.8M169.8 1051.4H168.4V1058.4H169.8M171.8 1051.2H169.6V1060.4H171.8M171.8 1055.4H169.5V1064.3H171.8M169.5 1059.8H167.4V1068.3H169.5M171.8 1060.3H167.4V1064.0H171.8M167.4 1062.1H166.1V1073.6H167.4M171.8 1063.1H169.3V1072.0H171.8M169.3 1067.6H167.6V1075.9H169.3M171.8 1070.3H167.6V1077.0H171.8M171.8 1076.2H170.0V1080.7H171.8M170.0 1078.5H168.8V1084.8H170.0M171.8 1079.7H169.5V1086.0H171.8M169.5 1082.9H167.2V1086.0H169.5" fill="none" stroke="#333" stroke-width="0.55"/>
</g>
<g id="panelB">
<text x="522.8" y="58.6" font-family="Liberation Serif, serif" font-size="46.5" fill="#111">B</text>
<text x="770.0" y="79.0" font-family="Liberation Sans, sans-serif" font-size="18.2" font-weight="bold" text-anchor="middle" fill="#111">WT_vs_KO.volcano</text>
<path d="M578.5 101.5V461.2H917" fill="none" stroke="#3c3c3c" stroke-width="1.1"/>
<line x1="579.0" y1="461.8" x2="579.0" y2="466.0" stroke="#b8cbdc" stroke-width="1.2"/>
<line x1="658.0" y1="461.8" x2="658.0" y2="466.0" stroke="#b8cbdc" stroke-width="1.2"/>
<line x1="737.0" y1="461.8" x2="737.0" y2="466.0" stroke="#b8cbdc" stroke-width="1.2"/>
<line x1="816.0" y1="461.8" x2="816.0" y2="466.0" stroke="#b8cbdc" stroke-width="1.2"/>
<line x1="895.0" y1="461.8" x2="895.0" y2="466.0" stroke="#b8cbdc" stroke-width="1.2"/>
<text x="582.0" y="485.0" font-family="Liberation Serif, serif" font-size="16" font-weight="bold" text-anchor="middle" fill="#111">−5</text>
<text x="662.0" y="485.0" font-family="Liberation Serif, serif" font-size="16" font-weight="bold" text-anchor="middle" fill="#111">−2.5</text>
<text x="737.0" y="485.0" font-family="Liberation Serif, serif" font-size="16" font-weight="bold" text-anchor="middle" fill="#111">0</text>
<text x="815.5" y="485.0" font-family="Liberation Serif, serif" font-size="16" font-weight="bold" text-anchor="middle" fill="#111">2.5</text>
<text x="896.0" y="485.0" font-family="Liberation Serif, serif" font-size="16" font-weight="bold" text-anchor="middle" fill="#111">5</text>
<text x="571.0" y="112.5" font-family="Liberation Serif, serif" font-size="16" font-weight="bold" text-anchor="end" fill="#111">6</text>
<text x="571.0" y="168.2" font-family="Liberation Serif, serif" font-size="16" font-weight="bold" text-anchor="end" fill="#111">5</text>
<text x="571.0" y="232.5" font-family="Liberation Serif, serif" font-size="16" font-weight="bold" text-anchor="end" fill="#111">4</text>
<text x="571.0" y="289.2" font-family="Liberation Serif, serif" font-size="16" font-weight="bold" text-anchor="end" fill="#111">3</text>
<text x="571.0" y="349.5" font-family="Liberation Serif, serif" font-size="16" font-weight="bold" text-anchor="end" fill="#111">2</text>
<text x="571.0" y="409.5" font-family="Liberation Serif, serif" font-size="16" font-weight="bold" text-anchor="end" fill="#111">1</text>
<text x="571.0" y="469.2" font-family="Liberation Serif, serif" font-size="16" font-weight="bold" text-anchor="end" fill="#111">0</text>
<text transform="translate(551,253) rotate(-90)" font-family="Liberation Serif, serif" font-size="21" font-weight="bold" text-anchor="middle" letter-spacing="1.8" fill="#111">−lg fdr</text>
<text x="812" y="517.5" font-family="Liberation Serif, serif" font-weight="bold" fill="#111"><tspan font-size="21">log2FC</tspan><tspan font-size="14.2">(KO/WT)</tspan></text>
<polygon points="710.5,461.0 711.7,452.1 716.8,436.0 720.6,420.5 723.4,404.4 725.3,392.5 727.2,385.3 729.1,395.4 731.9,410.3 735.1,418.1 737.6,414.5 740.2,404.4 742.4,396.6 744.3,394.2 746.5,404.4 749.0,419.3 751.5,437.2 753.7,452.1 754.7,461.0" fill="#1e1e1e"/>
<path d="M750.1 428.0h0M723.2 192.2h0M710.7 388.5h0M710.8 379.9h0M725.3 365.0h0M726.0 379.8h0M750.4 407.4h0M691.7 454.3h0M750.3 405.0h0M774.2 460.7h0M764.9 449.8h0M749.6 403.0h0M764.0 350.8h0M755.1 442.8h0M768.2 439.6h0M719.0 157.4h0M753.9 448.7h0M733.2 414.6h0M774.6 443.2h0M729.2 348.1h0M707.6 454.4h0M771.3 446.0h0M713.6 442.2h0M737.9 400.7h0M727.8 386.4h0M753.2 448.0h0M747.8 364.0h0M761.3 437.7h0M707.4 443.2h0M751.8 427.0h0M730.6 357.2h0M749.9 350.9h0M725.0 337.3h0M742.6 370.1h0M705.6 415.2h0M708.1 460.1h0M723.4 406.9h0M712.0 372.3h0M743.5 383.9h0M754.4 265.9h0M762.4 360.0h0M740.1 409.2h0M754.6 437.5h0M716.9 274.3h0M740.9 399.9h0M718.2 409.1h0M743.8 380.7h0M744.7 391.3h0M750.7 395.6h0M771.2 438.9h0M750.6 378.6h0M734.6 412.2h0M744.6 385.0h0M776.4 448.0h0M710.1 383.2h0M753.8 399.3h0M749.5 402.3h0M741.0 382.8h0M759.4 314.8h0M683.3 451.2h0M708.3 459.8h0M713.0 435.7h0M751.6 311.0h0M737.1 408.3h0M746.7 378.2h0M761.2 449.7h0M751.9 449.9h0M713.5 431.8h0M729.2 402.3h0M748.9 377.8h0M755.0 349.8h0M755.0 438.7h0M753.3 230.0h0M725.3 376.3h0M714.8 329.9h0M706.1 435.9h0M751.4 437.9h0M724.3 317.2h0M748.8 420.7h0M756.8 440.2h0M709.7 437.9h0M751.1 358.1h0M723.9 303.7h0M747.1 378.0h0M716.5 435.8h0M762.8 444.8h0M756.3 457.9h0M785.1 454.8h0M753.7 460.4h0M743.1 365.7h0M748.5 415.0h0M721.6 422.7h0M757.2 460.6h0M747.0 410.4h0M747.4 408.6h0M745.3 403.4h0M700.1 451.2h0M751.5 445.7h0M717.3 418.0h0M716.8 422.1h0M749.6 302.6h0M712.1 442.1h0M718.9 421.0h0M714.8 384.0h0M703.5 457.4h0M757.9 175.0h0M709.8 403.8h0M748.7 391.4h0M752.0 380.6h0M701.7 451.7h0M721.6 405.2h0M716.9 437.4h0M756.1 328.7h0M715.3 442.5h0M755.7 456.1h0M753.4 348.4h0M745.8 361.3h0M721.4 404.4h0M754.1 457.1h0M754.8 400.2h0M717.6 424.2h0M718.5 412.5h0M715.7 405.7h0M696.5 408.3h0M777.2 454.2h0M745.7 398.4h0M763.5 460.7h0M704.8 354.5h0M760.1 454.6h0M771.5 449.0h0M752.0 427.9h0M723.2 206.2h0M751.0 261.1h0M747.5 264.7h0M767.1 454.4h0M762.9 363.7h0M749.7 421.9h0M745.8 407.1h0M769.1 435.1h0M772.1 397.9h0M751.5 323.9h0M716.4 407.5h0M761.4 445.9h0M721.1 343.1h0M748.2 327.7h0M749.1 181.2h0M725.7 310.8h0M720.8 422.8h0M751.1 417.7h0M772.8 440.7h0M706.4 459.6h0M714.6 289.5h0M765.6 423.0h0M727.9 357.7h0M777.6 448.7h0M730.7 384.7h0M751.0 321.9h0M768.7 428.9h0M745.5 384.9h0M765.8 453.5h0M724.0 313.2h0M720.2 167.7h0M747.4 393.3h0M756.2 458.1h0M750.5 420.9h0M750.1 389.8h0M769.9 457.3h0M751.4 322.8h0M749.9 319.2h0M752.4 440.3h0M722.1 127.9h0M746.1 405.7h0M714.7 396.0h0M749.3 406.1h0M691.2 432.1h0M752.6 318.4h0M781.7 448.8h0M759.6 452.2h0M755.6 445.0h0M720.9 317.8h0M750.1 235.5h0M710.6 439.7h0M722.4 253.9h0M749.2 343.3h0M709.6 439.1h0M739.1 404.8h0M764.3 447.5h0M736.5 414.8h0M736.1 404.9h0M767.1 446.6h0M788.9 454.4h0M724.3 371.5h0M731.3 413.4h0M722.2 344.0h0M750.3 399.6h0M729.1 404.3h0M700.7 399.3h0M754.4 427.7h0M723.6 394.6h0M743.0 392.8h0M712.1 327.0h0M753.0 454.8h0M715.1 431.6h0M742.5 391.3h0M726.1 307.1h0M722.9 254.5h0M759.4 457.8h0M754.0 407.5h0M725.7 368.5h0M745.5 366.2h0M757.8 444.3h0M721.3 366.4h0M752.1 422.2h0M724.9 386.4h0M761.0 458.3h0M715.5 327.9h0M742.0 390.9h0M714.4 440.3h0M723.0 372.5h0M710.0 458.8h0M714.0 437.6h0M755.5 171.3h0M740.1 374.8h0M754.3 435.6h0M745.0 386.9h0M725.3 383.4h0M710.1 419.4h0M747.9 379.8h0M726.3 373.9h0M747.7 340.6h0M745.8 365.4h0M760.9 436.1h0M753.7 399.3h0M711.4 460.7h0M738.6 412.2h0M768.7 450.8h0M719.7 376.8h0M709.2 456.2h0M753.2 459.1h0M698.5 427.0h0M759.1 197.8h0M750.2 408.8h0M757.1 457.7h0M748.4 416.2h0M765.1 345.6h0M752.9 221.5h0M748.9 412.5h0M752.1 429.2h0M769.8 390.4h0M752.0 430.8h0M718.1 247.5h0M723.4 391.5h0M745.0 348.6h0M719.8 407.9h0M712.6 432.8h0M747.4 337.3h0M724.5 333.8h0M719.6 407.0h0M754.6 448.4h0M766.9 458.0h0M772.0 446.6h0M762.3 458.7h0M696.7 386.6h0M759.6 444.9h0M745.0 382.2h0M751.1 376.8h0M765.4 425.0h0M737.0 415.7h0M721.6 422.6h0M712.1 460.7h0M757.7 345.2h0M785.2 412.8h0M752.6 330.5h0M711.0 445.9h0M752.6 427.5h0M747.5 406.9h0M752.0 437.4h0M720.6 391.3h0M752.3 363.1h0M752.8 433.7h0M740.1 408.6h0M742.2 398.4h0M718.3 431.6h0M757.5 447.1h0M718.9 364.7h0M729.8 383.2h0M724.6 266.7h0M761.1 448.9h0M752.7 346.0h0M747.9 418.9h0M746.1 374.1h0M748.0 403.2h0M753.9 418.5h0M764.3 435.8h0M758.4 209.4h0M719.5 357.6h0M758.7 443.1h0M725.4 290.9h0M758.1 439.9h0M752.8 378.2h0M753.0 418.9h0M717.4 362.4h0M747.3 312.7h0M715.7 370.9h0M755.0 434.4h0M757.3 344.3h0M715.1 399.7h0M733.0 407.5h0M726.8 393.4h0M747.1 417.2h0M774.6 402.6h0M722.5 406.4h0M754.7 449.4h0M726.7 296.4h0M755.8 334.4h0M731.8 406.8h0M717.8 311.2h0M751.7 426.6h0M756.9 436.9h0M716.0 393.8h0M754.0 418.8h0M773.4 460.5h0M742.5 399.6h0M719.9 387.4h0M771.2 397.5h0M721.6 236.1h0M749.7 226.1h0M720.2 390.9h0M747.5 401.9h0M749.7 325.1h0M751.6 427.3h0M719.2 415.2h0M721.7 379.6h0M726.7 322.2h0M718.4 402.7h0M761.9 439.8h0M723.9 321.1h0M766.0 448.7h0M771.1 404.8h0M774.1 409.5h0M723.5 412.8h0M692.3 430.8h0M764.0 379.8h0M744.6 383.0h0M766.7 421.6h0M779.6 454.5h0M754.9 443.4h0M727.3 381.6h0M749.9 421.4h0M746.1 314.6h0M768.5 427.4h0M754.2 448.9h0M725.3 400.9h0M724.5 402.6h0M739.9 397.4h0M723.0 316.6h0M754.1 155.5h0M724.1 409.3h0M769.3 424.0h0M725.9 358.6h0M754.5 398.1h0M770.8 454.3h0M754.5 445.9h0M728.7 401.5h0M746.8 318.2h0M762.1 435.9h0M752.4 271.8h0M711.0 459.1h0M756.3 395.8h0M752.8 455.2h0M753.4 243.5h0M746.2 407.4h0M752.1 302.1h0M748.0 329.4h0M751.1 434.8h0M713.0 259.1h0M720.1 346.2h0M738.7 397.1h0M757.7 396.9h0M725.3 376.0h0M720.8 322.2h0M706.6 377.1h0M722.0 318.3h0M712.1 452.5h0M749.5 301.5h0M757.6 361.4h0M740.9 401.2h0M747.7 392.5h0M696.9 445.4h0M750.4 411.2h0M758.8 447.2h0M759.5 429.0h0M710.1 418.4h0M765.9 427.5h0M712.1 455.8h0M736.1 411.4h0M764.5 389.4h0M722.2 409.8h0M719.8 425.7h0M713.5 327.3h0M719.0 393.0h0M728.0 377.5h0M753.6 443.4h0M750.3 439.2h0M754.5 344.9h0M749.8 391.1h0M722.8 315.0h0M754.4 342.7h0M736.9 411.1h0M761.5 398.9h0M753.8 460.8h0M724.0 259.5h0M712.6 385.0h0M720.0 377.8h0M722.9 396.9h0M718.4 424.6h0M726.7 350.3h0M709.8 436.3h0M757.4 436.9h0M753.9 451.2h0M752.3 405.6h0M772.3 452.8h0M724.4 379.0h0M766.8 268.1h0M723.5 407.0h0M760.8 446.3h0M752.2 439.1h0M755.6 276.7h0M746.4 332.2h0M720.1 405.0h0M745.8 401.8h0M779.1 401.8h0M748.7 406.3h0M755.1 438.1h0M726.2 392.1h0M731.1 410.6h0M749.4 383.3h0M722.4 220.8h0M749.5 432.3h0M706.2 400.5h0M760.4 457.4h0M775.1 451.8h0M724.6 319.7h0M749.7 373.6h0M749.8 279.6h0M718.8 399.6h0M695.3 444.1h0M684.5 426.9h0M757.4 411.6h0M756.4 110.8h0M744.6 391.7h0M714.7 356.3h0M726.8 363.2h0M717.7 247.6h0M725.3 378.5h0M712.7 446.4h0M729.8 403.3h0M764.4 447.5h0M767.2 459.9h0M748.9 428.6h0M724.1 407.9h0M726.2 354.3h0M768.3 350.6h0M779.6 460.4h0M710.3 439.8h0M753.6 431.7h0M748.1 339.9h0M750.9 431.1h0M718.8 429.6h0M750.2 422.2h0M754.9 388.2h0M724.9 384.7h0M754.8 432.0h0M759.9 423.7h0M777.4 437.3h0M754.7 438.9h0M746.1 389.4h0M723.7 311.5h0M752.2 405.6h0M724.5 390.5h0M752.3 418.5h0M721.3 422.2h0M749.6 420.6h0M707.3 417.5h0M758.4 452.4h0M753.5 220.8h0M713.7 376.4h0M725.6 319.5h0M754.4 289.0h0M763.8 442.3h0M784.1 456.5h0M718.3 388.3h0M728.4 346.3h0M738.0 404.9h0M747.3 356.9h0M722.0 404.9h0M754.9 374.6h0M764.5 450.4h0M722.4 269.2h0M731.7 411.8h0M751.3 371.1h0M729.1 394.1h0M744.8 314.9h0M722.5 392.8h0M753.2 447.0h0M681.8 414.5h0M769.5 444.2h0M749.2 367.8h0M727.8 360.4h0M750.2 353.6h0M753.1 453.8h0M750.9 298.9h0M719.9 419.8h0M747.3 352.7h0M736.9 393.6h0M753.8 352.5h0M746.8 398.8h0M724.8 363.5h0M711.7 444.6h0M718.9 389.1h0M748.8 356.2h0M707.6 372.2h0M758.5 441.4h0M755.7 442.1h0M709.2 405.0h0M712.6 445.4h0M738.7 403.4h0M751.9 395.3h0M729.3 375.3h0M725.3 312.1h0M750.1 388.7h0M750.1 398.1h0M757.2 432.7h0M724.7 321.8h0M706.9 418.4h0M719.6 133.1h0M732.0 403.4h0M722.7 416.0h0M701.0 417.8h0M744.9 392.1h0M755.4 442.3h0M710.0 393.0h0M715.5 444.5h0M755.5 269.0h0M758.4 460.4h0M712.2 333.2h0M694.3 449.7h0M759.0 456.8h0M753.1 405.8h0M752.9 119.8h0M757.4 389.8h0M770.7 432.8h0M744.2 399.4h0M745.6 408.5h0M749.6 406.5h0M761.7 443.6h0M745.2 387.2h0M759.0 402.8h0M725.1 381.0h0M735.8 401.6h0M760.7 377.0h0M775.6 344.2h0M725.2 391.0h0M716.6 424.7h0M770.6 417.3h0M717.0 363.2h0M724.8 371.4h0M753.4 417.5h0M731.4 395.4h0M751.2 375.4h0M754.6 405.9h0M721.8 330.7h0M715.5 383.9h0M755.2 324.7h0M768.7 441.4h0M752.1 387.7h0M709.3 440.0h0M733.6 419.4h0M762.5 456.5h0M751.5 431.5h0M758.2 426.1h0M770.8 426.9h0M750.0 408.9h0M733.6 408.9h0M752.5 340.8h0M782.0 459.1h0M765.3 416.7h0M723.6 374.1h0M760.1 383.4h0M717.0 431.7h0M729.4 393.4h0M781.7 454.0h0M767.6 388.7h0M788.7 444.4h0M749.1 415.1h0M748.9 392.3h0M732.9 416.6h0M729.7 390.0h0M756.8 391.4h0M754.2 318.0h0M751.3 420.3h0M746.0 382.4h0M714.5 448.2h0M748.1 415.5h0M754.6 241.1h0M751.2 411.6h0M711.2 428.2h0M734.0 403.7h0M743.6 324.4h0M751.3 438.8h0M737.8 393.5h0M751.1 284.4h0M707.4 332.4h0M707.6 368.4h0M724.8 277.8h0M768.9 443.8h0M723.4 311.6h0M695.4 400.3h0M758.9 456.2h0M741.0 359.2h0M766.2 458.6h0M747.8 364.6h0M711.4 228.4h0M753.5 454.2h0M754.0 452.5h0M725.8 372.3h0M715.5 354.0h0M715.1 252.0h0M724.1 406.9h0M751.5 324.6h0M703.9 460.3h0M770.0 386.7h0M768.4 379.8h0M747.8 361.5h0M750.0 372.5h0M694.8 437.3h0M721.4 403.8h0M746.5 283.3h0M754.6 449.8h0M729.5 399.1h0M711.8 425.5h0M747.3 382.1h0M726.4 321.6h0M757.7 347.8h0M713.9 396.9h0M763.7 328.5h0M753.2 436.9h0M721.6 304.5h0M727.5 338.2h0M759.8 426.8h0M719.6 404.1h0M721.7 385.2h0M754.6 430.7h0M751.7 440.4h0M739.2 412.1h0M752.3 403.9h0M716.4 401.3h0M702.5 405.3h0M770.6 430.3h0M751.1 442.9h0M722.3 409.5h0M706.0 417.3h0M722.1 405.3h0M734.5 414.8h0M725.1 348.0h0M744.1 377.9h0M750.7 404.3h0M718.0 408.9h0M755.6 228.9h0M743.3 377.4h0M783.7 459.1h0M775.7 434.1h0M758.0 436.9h0M709.3 454.2h0M723.5 334.8h0M747.1 414.8h0M749.5 407.9h0M736.6 408.3h0M745.8 401.4h0M748.7 422.3h0M684.5 424.0h0M752.6 339.9h0M752.5 428.6h0M721.3 261.2h0M757.7 432.2h0M760.3 453.8h0M744.4 360.8h0M714.3 447.2h0M725.0 384.7h0M728.0 383.5h0M698.5 440.9h0M707.2 385.4h0M757.3 459.3h0M755.7 396.9h0M704.4 427.7h0M725.0 373.4h0M721.1 421.2h0M708.3 460.4h0M747.2 385.8h0M715.1 169.8h0M754.3 452.8h0M703.9 417.7h0M730.5 409.4h0M725.9 382.5h0M722.7 309.7h0M759.0 405.9h0M713.1 368.0h0M747.5 288.1h0M753.1 434.5h0M741.2 347.5h0M749.7 387.4h0M690.7 449.4h0M752.1 219.3h0M756.9 436.7h0M750.6 441.5h0M683.2 399.5h0M752.6 442.4h0M725.4 315.2h0M724.5 305.2h0M757.5 122.7h0M730.3 399.7h0M725.1 351.1h0M723.1 227.9h0M752.5 233.0h0M747.6 407.1h0M769.0 432.9h0M752.3 270.1h0M755.6 452.8h0M749.6 341.0h0M759.8 414.1h0M740.7 400.5h0M727.1 371.5h0M759.3 448.2h0M779.6 412.9h0M749.5 373.4h0M749.2 334.3h0M750.0 412.4h0M724.2 406.2h0M754.7 404.4h0M725.8 383.5h0M720.3 422.9h0M760.8 459.0h0M719.2 149.2h0M710.7 451.0h0M748.9 180.1h0M713.1 451.9h0M750.2 359.2h0M723.1 328.3h0M751.1 421.6h0M751.1 435.2h0M704.6 448.3h0M720.2 426.2h0M755.8 348.7h0M757.7 209.1h0M706.4 441.4h0M757.8 450.3h0M718.7 183.7h0M771.5 443.5h0M728.1 389.6h0M752.7 409.9h0M759.5 426.0h0M753.9 450.7h0M760.8 423.5h0M737.0 412.4h0M756.4 431.9h0M753.7 405.2h0M749.2 404.9h0M756.1 369.9h0M775.1 427.9h0M759.2 439.3h0M718.4 410.6h0M700.9 448.5h0M765.0 457.5h0M748.9 427.7h0M762.1 167.6h0M750.0 415.4h0M716.8 418.4h0M721.1 218.6h0M759.2 431.6h0M722.7 302.1h0M763.9 415.8h0M751.6 314.3h0M747.9 371.9h0M755.4 413.8h0M769.1 446.3h0M753.7 435.4h0M749.2 409.0h0M720.0 423.3h0M767.9 424.4h0M765.9 450.5h0M746.4 411.1h0M754.8 418.4h0M726.4 331.7h0M704.9 410.8h0M750.2 298.7h0M768.4 448.8h0M742.0 396.5h0M723.6 348.3h0M744.9 366.4h0M721.7 401.8h0M725.8 321.4h0M751.0 330.3h0M759.4 328.2h0M757.3 417.3h0M756.1 444.8h0M762.3 423.9h0M779.9 384.1h0M755.6 375.3h0M751.5 417.2h0M713.6 432.3h0M747.5 381.8h0M723.3 404.5h0M760.1 353.7h0M705.4 446.8h0M761.3 397.2h0M725.5 362.9h0M749.9 408.4h0M740.8 376.5h0M716.3 417.2h0M718.9 384.6h0M717.2 439.7h0M747.8 410.5h0M729.3 396.5h0M717.5 373.1h0M759.7 458.0h0M750.6 415.6h0M727.9 394.1h0M753.8 220.2h0M753.5 458.6h0M754.8 439.5h0M726.5 332.1h0M697.4 429.4h0M758.6 424.0h0M747.9 286.0h0M710.4 458.8h0M722.7 308.3h0M749.8 435.2h0M748.5 341.7h0M726.7 298.8h0M692.5 394.0h0M725.7 362.4h0M751.9 284.9h0M746.4 410.9h0M776.2 399.2h0M704.2 443.2h0M732.0 327.9h0M771.0 428.9h0M718.8 147.4h0M692.5 452.7h0M714.8 443.2h0M710.0 459.9h0M761.6 444.9h0M757.2 363.4h0M746.8 395.2h0M752.2 435.6h0M727.1 392.6h0M751.2 378.2h0M738.0 407.6h0M763.3 436.0h0M764.2 373.5h0M752.0 444.1h0M724.7 362.0h0M752.4 297.6h0M749.7 397.3h0M744.5 389.3h0M756.7 445.7h0M745.2 356.4h0M757.2 296.9h0M739.3 409.2h0M755.4 420.5h0M750.3 324.3h0M753.9 455.0h0M752.7 443.1h0M755.8 420.2h0M753.5 458.1h0M758.2 460.1h0M738.6 413.2h0M747.0 387.1h0M757.3 438.8h0M745.9 324.5h0M723.8 286.6h0M763.3 446.9h0M745.3 363.8h0M754.9 448.5h0M708.4 395.2h0M761.6 436.5h0M736.9 407.3h0M750.5 200.7h0M753.4 439.9h0M755.7 433.3h0M751.5 383.6h0M727.6 384.1h0M746.6 414.5h0M752.2 309.6h0M726.0 310.2h0M757.2 458.5h0M728.4 396.2h0M722.9 348.1h0M714.2 440.6h0M751.3 436.8h0M754.0 456.6h0M757.9 417.9h0M755.6 185.9h0M752.0 442.8h0M727.0 300.2h0M713.8 396.8h0M749.1 418.0h0M747.7 315.3h0M709.3 397.9h0M762.2 460.0h0M756.3 351.2h0M723.4 308.2h0M723.9 226.8h0M723.9 150.7h0M715.3 438.5h0M762.1 235.3h0M751.6 383.9h0M767.9 460.2h0M725.5 353.4h0M753.5 421.6h0M709.7 454.4h0M727.7 392.8h0M747.2 350.8h0M716.7 423.9h0M770.8 457.7h0M752.0 446.8h0M758.7 449.2h0M747.1 410.1h0M761.4 354.9h0M706.4 400.0h0M752.3 420.9h0M758.5 367.0h0M717.3 412.9h0M718.1 427.8h0M750.3 370.2h0M788.1 456.5h0M745.7 391.9h0M736.7 409.7h0M752.7 249.3h0M747.6 406.7h0M757.5 425.0h0M758.7 443.4h0M759.1 413.0h0M750.5 428.2h0M770.3 390.2h0M724.8 363.1h0M751.2 440.5h0M718.6 416.5h0M750.8 260.2h0M714.0 400.6h0M755.8 440.6h0M770.4 426.2h0M758.7 375.5h0M725.9 397.6h0M763.8 460.8h0M722.3 321.5h0M713.5 405.8h0M747.5 372.0h0M702.6 435.3h0M726.1 388.1h0M728.4 393.8h0M739.4 395.2h0M747.4 372.0h0M710.7 434.7h0M717.1 426.6h0M773.5 432.1h0M750.9 418.3h0M755.2 432.1h0M757.8 422.2h0M722.8 412.5h0M722.6 260.0h0M750.4 290.5h0M751.1 404.2h0M754.1 423.6h0M754.1 350.3h0M725.0 377.9h0M712.3 457.7h0M746.9 372.3h0M748.6 425.9h0M746.6 349.0h0M759.3 460.3h0M718.4 159.5h0M745.0 381.6h0M700.3 403.0h0M742.3 380.1h0M711.3 436.7h0M723.7 371.8h0M754.5 440.9h0M777.0 433.2h0M752.4 424.2h0M750.3 431.9h0M722.0 394.3h0M738.6 413.7h0M711.4 441.7h0M755.8 451.4h0M750.1 421.3h0M758.8 450.1h0M748.6 419.1h0M753.1 413.5h0M733.1 407.7h0M722.3 276.7h0M744.3 387.9h0M756.9 428.8h0M743.2 316.4h0M777.4 430.7h0M724.8 339.8h0M729.5 344.9h0M748.7 377.0h0M747.2 380.9h0M723.0 275.3h0M750.2 429.1h0M753.0 403.3h0M726.8 365.7h0M712.9 453.1h0M746.8 409.2h0M731.7 401.2h0M720.4 408.9h0M735.5 412.9h0M754.6 424.1h0M747.8 401.5h0M724.7 399.8h0M706.2 377.3h0M690.0 457.2h0M712.9 419.8h0M722.9 271.1h0M750.0 435.6h0M758.7 424.3h0M721.7 403.7h0M751.4 441.6h0M761.7 444.3h0M772.9 454.4h0M789.0 385.3h0M731.1 381.2h0M746.2 340.2h0M731.8 388.7h0M748.3 357.0h0M746.5 380.9h0M720.6 161.2h0M721.8 411.2h0M749.6 422.0h0M717.7 376.2h0M769.6 450.8h0M713.6 388.3h0M737.4 412.4h0M726.9 367.2h0M763.4 407.4h0M757.6 341.2h0M751.2 322.7h0M702.5 450.7h0M716.1 398.7h0M715.2 383.2h0M760.3 455.4h0M708.4 452.3h0M750.9 397.8h0M757.6 434.3h0M751.0 411.9h0M718.2 259.2h0M722.1 382.3h0M725.5 386.7h0M705.7 460.1h0M760.2 447.9h0M720.1 147.2h0M725.5 380.2h0M749.9 373.6h0M723.9 286.3h0M722.9 386.0h0M748.0 413.3h0M746.7 319.9h0M750.1 414.3h0M748.2 408.0h0M719.6 405.0h0M753.4 450.9h0M779.0 446.9h0M763.5 446.6h0M756.5 449.4h0M742.5 392.5h0M747.5 329.4h0M784.0 431.7h0M713.9 436.5h0M765.4 437.7h0M703.9 391.6h0M746.7 361.4h0M723.1 208.4h0M720.7 345.7h0M757.5 333.9h0M754.1 353.9h0M761.5 424.4h0M747.9 371.9h0M750.6 437.6h0M719.2 298.2h0M752.6 435.6h0M696.2 411.1h0M745.0 381.4h0M754.5 459.9h0M774.2 455.0h0M725.9 390.7h0M727.8 250.5h0M717.4 437.9h0M708.9 412.7h0M698.7 445.7h0M747.5 392.2h0M711.5 430.4h0M751.4 431.5h0M723.9 321.3h0M716.7 205.1h0M716.1 158.9h0M718.4 431.3h0M762.4 458.8h0M768.3 458.8h0M747.2 392.3h0M766.1 457.5h0M721.0 381.1h0M757.8 450.3h0M749.6 417.8h0M713.5 430.8h0M747.9 335.0h0M777.6 453.1h0M749.8 337.1h0M725.8 393.6h0M736.7 405.8h0M766.6 435.6h0M721.1 252.2h0M745.5 398.6h0M702.5 444.7h0M722.5 392.9h0M721.1 398.2h0M706.8 427.7h0M711.5 343.7h0M755.7 396.3h0M732.6 378.4h0M747.3 379.8h0M729.3 348.7h0M724.2 299.4h0M750.0 361.6h0M722.5 233.5h0M713.5 432.6h0M709.9 443.2h0M767.1 456.6h0M721.9 361.4h0M707.9 453.5h0M725.9 359.1h0M731.9 403.6h0M723.4 368.4h0M710.9 360.8h0M706.9 442.7h0M727.8 393.1h0M746.3 369.8h0M745.5 402.0h0M722.2 407.5h0M741.9 400.5h0M717.6 399.6h0M764.4 451.0h0M723.1 389.3h0M724.0 313.6h0M722.7 413.4h0M724.8 372.3h0M751.0 413.5h0M736.0 419.0h0M751.2 402.6h0M756.2 434.9h0M723.2 368.7h0M713.8 449.1h0M756.8 418.8h0M749.3 394.6h0M754.3 322.7h0M704.3 449.2h0M747.6 389.5h0M726.1 376.4h0M749.6 397.4h0M758.3 318.9h0M768.7 439.5h0M711.8 450.6h0M741.9 397.8h0M744.9 395.5h0M722.7 236.2h0M718.5 316.6h0M756.4 456.5h0M704.7 453.7h0M746.5 379.9h0M757.0 410.6h0M786.7 414.4h0M752.0 448.4h0M724.3 297.2h0M762.2 437.8h0M750.9 433.1h0M720.1 392.9h0M755.1 410.5h0M757.5 415.8h0M746.4 380.8h0M696.8 437.1h0M747.9 420.1h0M747.7 390.6h0M755.3 360.3h0M753.6 425.4h0M775.3 421.5h0M725.5 401.3h0M770.0 460.3h0M718.9 414.2h0M763.2 409.9h0M725.3 306.7h0M724.1 326.1h0M716.1 438.3h0M722.1 309.7h0M720.0 422.4h0M712.6 440.6h0M755.5 170.7h0M759.7 454.4h0M703.5 455.2h0M748.1 403.5h0M724.2 190.4h0M748.4 370.5h0M751.0 431.2h0M752.5 392.7h0M753.4 448.3h0M725.1 318.6h0M753.8 455.4h0M749.7 361.3h0M713.7 373.3h0M717.2 403.1h0M705.7 456.1h0M759.1 425.5h0M745.1 376.7h0M753.6 384.0h0M714.6 418.0h0M754.2 449.6h0M756.4 122.8h0M746.8 379.5h0M713.0 385.8h0M767.6 432.1h0M705.0 458.4h0M756.0 415.8h0M712.7 447.9h0M715.4 431.9h0M746.9 415.4h0M750.0 375.2h0M757.1 455.1h0M714.1 396.6h0M740.9 334.9h0M754.3 447.8h0M769.2 412.8h0M716.0 411.2h0M697.0 457.8h0M774.6 407.2h0M730.5 383.0h0M717.2 433.7h0M751.3 400.5h0M753.1 416.4h0M746.9 403.5h0M756.9 366.8h0M752.9 251.0h0M732.3 414.8h0M750.0 330.2h0M747.4 327.0h0M715.7 381.7h0M753.6 450.8h0M711.6 436.3h0M756.0 446.2h0M726.7 375.1h0M751.6 417.9h0M746.2 397.7h0M752.9 373.7h0M784.1 456.9h0M711.5 406.1h0M706.6 335.4h0M765.3 372.6h0M715.3 420.0h0M750.3 417.1h0M763.1 459.9h0M749.2 421.5h0M723.0 414.3h0M756.9 227.8h0M729.8 385.2h0M681.6 443.1h0M713.4 429.1h0M717.6 381.4h0M748.4 418.8h0M722.6 408.7h0M738.5 415.8h0M704.5 447.8h0M760.9 436.9h0M742.8 397.5h0M751.6 379.5h0M724.7 324.4h0M732.7 406.2h0M686.9 455.2h0M712.0 446.0h0M731.1 410.2h0M749.8 308.8h0M741.9 360.4h0M718.2 434.6h0M724.4 378.6h0M720.6 419.4h0M741.2 393.3h0M729.1 401.0h0M725.8 396.2h0M713.5 452.7h0M731.1 407.0h0M724.2 403.9h0M718.0 228.7h0M716.8 386.9h0M756.3 382.0h0M754.4 450.3h0M748.3 350.7h0M754.8 356.2h0M745.6 402.6h0M739.8 375.3h0M750.8 422.1h0M757.4 391.1h0M738.0 407.2h0M780.3 445.8h0M692.5 453.8h0M741.4 396.9h0M724.3 400.9h0M752.7 207.3h0M752.1 326.8h0M725.1 390.3h0M722.1 388.8h0M747.8 362.0h0M756.0 422.0h0M753.8 371.7h0M753.2 451.2h0M724.5 401.8h0M782.4 427.0h0M705.3 455.2h0M747.1 406.8h0M713.3 441.5h0M704.5 434.8h0M724.2 333.8h0M720.7 426.9h0M741.4 404.0h0M709.8 431.0h0M741.9 357.7h0M788.7 445.8h0M739.0 405.0h0M732.7 384.6h0M752.1 445.4h0M749.5 340.5h0M712.6 448.9h0M739.8 364.5h0M750.9 316.8h0M755.6 409.2h0M751.6 442.8h0M766.2 428.3h0M753.7 453.4h0M720.3 192.3h0M752.3 415.4h0M756.1 409.7h0M752.7 212.7h0M747.2 388.0h0M747.2 372.2h0M748.5 397.7h0M752.7 290.7h0M732.4 387.6h0M754.6 405.4h0M761.6 441.4h0M722.0 282.2h0M745.4 404.5h0M711.1 422.6h0M765.0 440.5h0M760.7 444.0h0M760.5 306.1h0M752.7 447.8h0M723.4 405.3h0M765.9 413.7h0M722.8 358.2h0M748.0 422.8h0M715.1 422.9h0M710.9 446.7h0M754.5 459.9h0M734.0 418.5h0M782.0 426.7h0M754.4 450.7h0M774.9 426.0h0M760.9 427.4h0M698.1 460.3h0M795.7 392.7h0M751.4 378.4h0M753.9 243.1h0M739.9 402.8h0M751.7 443.5h0M730.0 407.1h0M743.7 395.1h0M704.8 460.6h0M753.2 315.1h0M709.5 440.7h0M763.0 426.0h0M750.4 409.3h0M758.5 456.7h0M756.4 319.2h0M722.9 203.6h0M759.7 131.7h0M762.1 417.5h0M740.8 408.5h0M723.6 326.1h0M776.2 457.3h0M687.0 452.5h0M752.7 426.3h0M739.6 409.5h0M720.4 244.9h0M754.6 410.0h0M754.7 397.2h0M722.0 378.1h0M767.7 427.3h0M728.7 334.2h0M789.7 433.0h0M712.6 393.4h0M756.3 455.3h0M745.6 388.0h0M717.5 386.2h0M782.4 399.3h0M755.2 418.6h0M766.1 444.5h0M714.7 403.5h0M724.2 225.2h0M737.3 415.2h0M725.6 363.1h0M711.0 275.2h0M722.3 245.1h0M709.2 442.5h0M766.2 449.2h0M768.1 425.7h0M752.6 364.5h0M768.5 369.5h0M718.2 420.3h0M723.0 396.3h0M753.0 405.9h0M767.2 447.8h0M753.8 429.2h0M723.0 299.0h0M724.0 339.6h0M760.1 444.2h0M704.9 407.0h0M719.9 388.4h0M712.3 395.7h0M696.5 453.6h0M747.0 393.2h0M771.4 454.2h0M764.3 430.0h0M751.1 393.0h0M746.2 356.1h0M716.0 423.7h0M715.5 398.4h0M753.6 378.9h0M765.6 397.1h0M765.6 446.9h0M757.0 153.9h0M699.2 393.5h0M760.1 427.9h0M751.4 320.4h0M763.6 455.2h0M746.0 397.3h0M755.4 381.7h0M711.8 353.3h0M721.1 402.3h0M757.7 361.0h0M746.9 351.3h0M729.0 350.0h0M667.1 458.0h0M750.8 373.5h0M753.7 298.9h0M719.9 410.7h0M710.9 448.4h0M755.4 460.9h0M750.6 363.6h0M709.8 367.3h0M764.9 407.1h0M723.9 331.0h0M716.6 422.3h0M701.3 447.0h0M726.4 318.5h0M750.2 290.0h0M694.7 415.8h0M745.8 374.0h0M721.7 242.9h0M749.6 431.4h0M709.7 456.8h0M702.6 433.8h0M763.7 431.0h0M711.2 451.6h0M758.8 329.0h0M705.6 348.7h0M742.9 390.6h0M721.9 406.8h0M752.5 444.1h0M753.4 406.1h0M751.9 414.6h0M752.1 430.3h0M755.2 454.5h0M732.2 408.0h0M722.3 329.0h0M758.9 423.7h0M723.7 377.6h0M720.6 185.8h0M722.6 392.0h0M723.3 388.7h0M732.7 397.4h0M723.2 288.9h0M739.2 407.9h0M749.2 320.9h0M725.9 385.8h0M752.1 432.2h0M750.3 423.8h0M728.8 392.1h0M710.8 322.7h0M715.9 429.8h0M750.5 400.7h0M700.6 446.5h0M711.4 437.1h0M758.1 452.8h0M762.1 396.5h0M707.0 454.3h0M768.3 432.1h0M753.4 432.3h0M764.4 457.2h0M729.6 383.7h0M708.2 412.5h0M748.3 376.9h0M751.5 402.4h0M758.1 397.8h0M713.6 353.8h0M762.0 460.8h0M723.7 408.1h0M724.8 296.5h0M716.1 373.2h0M718.9 326.2h0M720.6 393.3h0M753.8 446.8h0M717.5 373.5h0M727.0 385.5h0M713.3 448.1h0M761.3 436.0h0M745.3 390.1h0M732.4 402.7h0M745.4 367.7h0M729.4 403.5h0M756.8 458.7h0M743.6 398.2h0M753.7 380.8h0M729.5 382.6h0M755.0 451.0h0M719.4 428.6h0M731.7 414.4h0M753.0 444.9h0M713.4 403.7h0M761.6 215.0h0M721.2 406.8h0M735.4 412.1h0M750.7 439.3h0M715.6 414.1h0M752.6 454.4h0M713.9 341.3h0M761.8 445.4h0M724.3 193.9h0M759.8 433.2h0M752.9 454.2h0M730.8 408.6h0M755.3 159.4h0M731.9 372.2h0M753.0 434.7h0M747.2 412.8h0M764.7 439.8h0M735.9 413.4h0M736.2 411.0h0M762.1 455.3h0M758.8 411.8h0M697.2 458.5h0M752.4 234.9h0M763.2 454.4h0M683.2 441.3h0M750.6 369.1h0M747.8 390.4h0M752.8 429.6h0M752.5 429.6h0M725.4 357.1h0M750.8 406.8h0M750.0 420.0h0M725.0 184.3h0M763.7 449.3h0M722.8 398.4h0M764.1 417.4h0M774.1 453.3h0M754.0 381.1h0M742.2 397.4h0M759.9 434.8h0M750.7 432.4h0M724.4 394.5h0M759.5 209.6h0M714.5 441.7h0M761.8 448.0h0M733.2 410.1h0M768.1 304.9h0M713.5 342.9h0M750.9 335.9h0M749.2 391.2h0M749.2 423.7h0M710.0 365.3h0M746.0 395.3h0M711.4 447.7h0M745.5 407.4h0M750.0 356.0h0M759.3 457.4h0M763.1 454.9h0M721.5 408.4h0M726.0 271.0h0M768.5 144.8h0M724.1 373.5h0M764.7 449.1h0M745.2 395.7h0M704.2 430.3h0M753.9 457.1h0M748.8 318.5h0M755.8 460.1h0M740.4 410.6h0M719.8 421.1h0M719.7 141.2h0M712.3 346.0h0M725.0 269.2h0M758.0 391.5h0M744.4 373.1h0M720.3 424.8h0M752.2 416.9h0M751.9 364.3h0M702.7 451.5h0M725.0 342.8h0M698.6 456.6h0M748.4 352.9h0M749.7 302.3h0M721.0 407.2h0M725.8 364.4h0M747.7 392.5h0M766.4 456.4h0M721.4 310.7h0M716.5 395.9h0M748.9 363.8h0M703.2 441.8h0M720.3 395.0h0M772.0 399.1h0M692.6 397.8h0M762.5 459.9h0M789.7 450.4h0M747.1 408.9h0M752.8 372.8h0M781.3 460.2h0M723.4 185.7h0M755.9 427.6h0M759.1 358.6h0M748.8 417.6h0M703.8 401.4h0M718.9 416.5h0M747.7 415.3h0M745.9 380.6h0M718.0 398.3h0M751.8 430.5h0M708.3 447.8h0M710.8 421.3h0M750.7 442.0h0M752.3 415.9h0M747.1 410.6h0M714.6 434.1h0M722.7 357.2h0M744.3 385.7h0M746.2 340.2h0M761.6 437.3h0M750.8 321.0h0M770.0 452.2h0M745.5 398.5h0M714.2 126.4h0M754.4 441.0h0M761.1 449.9h0M752.2 404.5h0M756.5 458.2h0M753.9 432.6h0M733.8 392.7h0M713.9 451.3h0M706.7 372.9h0M778.9 452.2h0M772.1 456.9h0M752.6 432.5h0M725.0 401.1h0M753.8 427.5h0M753.6 442.4h0M754.4 451.9h0M725.6 324.9h0M748.4 365.4h0M717.5 413.7h0M764.1 449.9h0M753.0 407.8h0M744.9 388.8h0M721.6 421.6h0M750.1 409.7h0M754.7 326.3h0M711.5 421.4h0M745.7 399.4h0M757.1 457.3h0M755.2 372.2h0M724.0 346.3h0M770.5 443.1h0M748.3 425.4h0M748.3 394.1h0M777.3 454.3h0M701.1 405.6h0M764.5 417.4h0M745.6 389.5h0M724.9 360.7h0M712.7 378.5h0M716.3 413.0h0M751.7 372.7h0M722.4 359.4h0M755.4 445.4h0M762.6 443.3h0M712.9 450.3h0M751.8 436.4h0M724.7 388.1h0M725.6 400.8h0M765.0 348.1h0M719.3 412.4h0M754.4 339.3h0M750.1 338.5h0M762.0 441.8h0M715.3 431.4h0M750.6 440.0h0M719.1 410.0h0M748.1 398.0h0M763.7 440.0h0M758.7 428.3h0M709.9 338.5h0M776.2 448.9h0M724.4 348.7h0M691.5 451.8h0M714.8 420.7h0M760.7 460.7h0M762.2 452.0h0M752.9 378.5h0M721.8 352.4h0M713.0 435.3h0M751.8 283.2h0M728.0 334.7h0M743.0 386.6h0M709.3 454.3h0M761.5 454.1h0M747.8 364.8h0M748.9 318.2h0M723.6 356.3h0M708.3 441.0h0M717.9 414.2h0M767.8 444.5h0M758.6 453.4h0M743.4 395.8h0M754.0 343.2h0M753.9 267.2h0M724.4 354.2h0M722.2 241.3h0M755.9 411.0h0M765.1 444.8h0M747.1 409.5h0M762.1 194.4h0M721.5 412.5h0M717.1 427.2h0M707.2 454.1h0M762.6 407.4h0M720.3 407.1h0M757.5 459.1h0M754.6 404.7h0M716.1 416.5h0M748.4 424.8h0M740.5 383.0h0M712.7 451.9h0M745.8 409.9h0M714.2 446.3h0M727.7 358.5h0M712.8 404.4h0M752.6 431.2h0M759.6 420.4h0M723.2 351.3h0M759.0 395.2h0M743.9 330.5h0M725.5 266.5h0M716.3 443.2h0M720.7 403.0h0M723.7 209.2h0M700.0 438.7h0M751.3 428.5h0M751.6 446.4h0M752.3 431.9h0M725.6 328.6h0M716.0 404.1h0M702.4 422.6h0M720.7 391.2h0M752.9 456.0h0M750.5 406.4h0M760.5 450.3h0M747.7 420.0h0M717.0 436.9h0M718.6 416.0h0M705.1 443.1h0M758.7 456.5h0M711.7 420.6h0M748.9 419.7h0M756.5 386.0h0M703.9 424.8h0M709.7 453.6h0M708.5 401.0h0M711.8 384.7h0M754.8 441.6h0M750.8 401.5h0M718.3 377.7h0M723.2 327.3h0M747.5 420.0h0M730.9 395.8h0M748.6 403.4h0M752.8 419.7h0M765.9 452.3h0M753.1 373.9h0M751.2 445.4h0M711.8 251.7h0M724.1 395.1h0M724.0 270.3h0M755.0 405.4h0M752.1 308.7h0M710.6 451.1h0M723.6 375.4h0M729.6 391.6h0M755.4 444.5h0M750.0 430.0h0M714.5 431.8h0M749.9 397.4h0M750.0 433.6h0M754.2 457.8h0M753.6 413.2h0M758.4 113.9h0M757.1 446.3h0M753.1 408.9h0M713.8 450.1h0M760.8 366.9h0M724.2 337.5h0M771.8 452.5h0M709.9 420.8h0M728.6 345.9h0M753.6 430.6h0M699.5 398.8h0M743.0 381.0h0M723.9 349.9h0M726.7 377.5h0M749.7 432.9h0M694.7 411.8h0M696.6 404.3h0M757.5 440.6h0M753.3 455.0h0M727.1 349.2h0M749.7 296.6h0M714.1 407.9h0M751.5 288.1h0M751.9 434.7h0M757.5 458.9h0M724.6 204.6h0M760.7 240.8h0M757.5 355.4h0M730.0 342.0h0M748.0 402.5h0M756.6 432.8h0M738.8 354.5h0M752.1 424.7h0M751.7 445.4h0M780.8 448.6h0M712.1 411.8h0M722.6 314.1h0M753.6 453.3h0M759.5 351.9h0M755.7 149.1h0M728.0 374.1h0M762.2 455.1h0M726.5 394.7h0M706.8 435.8h0M722.3 401.8h0M724.5 343.0h0M696.7 434.8h0M712.8 445.2h0M753.4 415.1h0M721.4 257.8h0M761.7 459.5h0M759.3 407.1h0M722.9 320.7h0M738.1 415.3h0M723.2 349.5h0M747.3 414.4h0M765.2 441.2h0M705.7 340.2h0M756.8 431.7h0M768.8 440.9h0M709.3 452.3h0M723.8 398.1h0M748.1 403.5h0M766.2 426.9h0M722.5 167.7h0M749.1 391.9h0M721.7 357.8h0M765.5 459.6h0M753.0 454.9h0M754.6 438.3h0M752.4 373.1h0M719.9 430.0h0M761.3 288.7h0M743.1 376.5h0M747.4 312.7h0M712.4 430.2h0M750.1 278.3h0M760.5 428.9h0M719.8 431.1h0M750.2 403.5h0M749.9 396.4h0M757.2 415.0h0M721.4 331.3h0M707.6 434.2h0M725.1 367.2h0M762.1 408.8h0M743.9 386.9h0M736.2 406.8h0M758.2 343.2h0M753.8 406.4h0M754.4 457.9h0M725.4 387.4h0M744.8 369.0h0M743.9 379.2h0M717.2 434.1h0M730.4 389.7h0M764.9 399.3h0M756.7 440.1h0M735.0 404.2h0M761.9 456.5h0M706.3 453.5h0M710.2 443.8h0M724.4 408.3h0M711.6 402.0h0M722.6 291.5h0M725.6 278.0h0M748.1 374.0h0M756.7 459.5h0M753.5 457.5h0M747.8 414.0h0M733.8 409.1h0M699.6 444.1h0M752.6 313.8h0M725.9 354.4h0M744.1 343.1h0M687.6 416.5h0M761.6 449.5h0M713.1 446.4h0M712.5 326.8h0M727.3 342.9h0M749.7 358.1h0M750.5 395.6h0M735.1 410.6h0M763.0 439.0h0M759.3 439.3h0M724.3 406.0h0M756.0 455.0h0M746.0 356.0h0M756.0 439.1h0M760.8 351.1h0M750.0 227.1h0M725.9 307.8h0M755.7 235.1h0M729.5 375.3h0M753.8 437.0h0M760.6 359.8h0M760.8 445.7h0M751.2 443.9h0M736.9 411.8h0M748.6 303.9h0M719.3 417.6h0M763.3 460.5h0M754.7 225.4h0M753.0 287.9h0M708.7 457.1h0M751.6 406.1h0M709.8 460.3h0M708.5 445.1h0M770.9 390.3h0M751.4 355.7h0M756.6 456.9h0M759.0 423.3h0M790.2 428.8h0M723.9 404.6h0M741.4 401.6h0M760.5 452.9h0M713.4 380.6h0M719.1 425.4h0M713.5 338.5h0M720.0 334.9h0M717.8 377.1h0M757.5 443.8h0M757.6 412.2h0M709.0 428.2h0M756.2 457.3h0M766.1 457.3h0M718.2 407.2h0M751.0 425.4h0M751.8 344.7h0M754.7 438.4h0M717.7 397.3h0M760.1 381.0h0M764.8 426.8h0M714.3 447.2h0M757.0 393.7h0M718.6 414.0h0M756.6 460.3h0M748.0 401.3h0M762.5 456.6h0M693.9 432.1h0M721.6 400.0h0M710.5 244.3h0M757.7 452.8h0M754.9 391.3h0M703.8 450.3h0M753.6 422.3h0M758.7 443.1h0M726.8 391.6h0M718.3 427.0h0M704.3 436.0h0M767.2 421.1h0M733.5 403.8h0M710.0 402.1h0M725.3 243.1h0M759.1 458.7h0M752.4 425.4h0M751.9 450.1h0M758.5 448.2h0M720.4 213.2h0M761.6 447.5h0M748.5 426.3h0M758.3 446.5h0M746.6 406.5h0M761.6 425.0h0M788.2 433.1h0M753.2 428.7h0M710.4 455.3h0M772.5 448.1h0M751.5 249.1h0M754.7 388.3h0M754.1 397.2h0M710.0 453.9h0M721.1 412.3h0M738.1 403.3h0M730.7 408.3h0M754.5 436.7h0M705.1 435.2h0M765.8 430.3h0M757.0 456.1h0M722.8 412.2h0M723.2 307.4h0M709.9 331.6h0M722.9 244.8h0M710.7 456.3h0M725.7 385.1h0M765.8 349.5h0M755.5 431.4h0M774.4 450.5h0M729.4 370.3h0M755.2 453.4h0M742.0 399.9h0M719.1 342.2h0M729.2 371.4h0M739.7 406.9h0M712.5 398.7h0M723.9 379.6h0M723.2 286.5h0M753.0 349.6h0M713.7 448.2h0M781.7 421.6h0M722.5 287.0h0M721.9 410.9h0M785.3 440.7h0M754.8 458.4h0M754.3 458.3h0M724.8 371.0h0M720.9 228.2h0M755.1 454.5h0M750.3 412.5h0M764.6 442.5h0M752.4 424.0h0M753.5 456.6h0M756.2 395.1h0M749.7 428.6h0M741.6 374.5h0M748.7 401.5h0M743.1 344.7h0M754.2 198.0h0M717.4 426.8h0M750.8 442.6h0M700.4 447.4h0M774.3 440.0h0M753.5 449.5h0M751.9 125.7h0M752.7 399.4h0M753.9 210.3h0M742.1 320.5h0M722.8 289.1h0M754.8 297.7h0M751.9 419.1h0M703.5 450.2h0M764.9 363.5h0M753.1 441.1h0M727.3 390.5h0M733.6 402.9h0M755.2 394.5h0M747.7 354.0h0M751.8 308.4h0M756.3 373.1h0M736.0 417.7h0M753.3 448.3h0M743.3 362.2h0M771.3 454.0h0M719.0 315.4h0M706.1 375.6h0M726.4 373.8h0M749.3 406.4h0M728.4 331.5h0M757.2 436.4h0M721.6 377.6h0M760.4 446.2h0M765.1 457.1h0M764.1 442.3h0M753.3 230.7h0M691.6 399.5h0M725.0 328.2h0M685.4 459.2h0M719.1 165.8h0M779.1 418.8h0M726.6 329.7h0M717.8 438.9h0M748.1 398.0h0M760.1 448.9h0M775.3 397.8h0M725.9 354.2h0M686.9 404.1h0M761.3 453.9h0M761.0 445.2h0M745.8 265.3h0M747.9 416.5h0M752.7 258.9h0M761.6 449.8h0M726.4 338.3h0M717.1 411.6h0M755.7 446.9h0M725.2 371.3h0M746.8 414.5h0M757.7 146.7h0M720.8 406.9h0M750.3 410.5h0M755.2 456.5h0M707.1 447.5h0M786.8 446.5h0M748.2 273.6h0M748.8 396.3h0M704.2 434.3h0M715.0 402.3h0M709.1 459.2h0M725.2 377.3h0M752.1 232.1h0M722.0 394.3h0M754.5 454.6h0M750.7 441.3h0M756.8 453.0h0M750.6 432.1h0M724.0 333.0h0M762.6 441.9h0M757.4 441.6h0M744.7 379.7h0M721.2 405.3h0M705.7 429.1h0M750.9 430.8h0M751.5 418.3h0M686.5 395.3h0M770.8 441.6h0M714.2 434.4h0M736.1 414.5h0M724.8 402.2h0M722.4 180.6h0M751.1 433.7h0M715.6 308.4h0M721.9 249.4h0M708.6 454.8h0M711.9 219.7h0M750.4 400.5h0M708.2 402.5h0M720.5 388.7h0M753.0 445.8h0M716.0 443.5h0M766.4 446.3h0M743.0 395.3h0M752.4 435.6h0M744.8 368.7h0M705.2 453.4h0M764.8 430.8h0M758.8 424.5h0M722.2 379.1h0M749.0 422.8h0M710.2 413.6h0M724.6 359.1h0M746.1 362.7h0M756.5 354.1h0M724.6 381.9h0M755.5 455.5h0M750.0 381.8h0M760.6 460.1h0M752.3 443.4h0M711.7 447.0h0M684.3 434.5h0M721.9 410.1h0M743.1 391.3h0M727.0 391.6h0M724.6 300.5h0M714.6 440.6h0M747.5 302.8h0M716.3 412.2h0M753.8 250.2h0M723.5 409.5h0M756.9 192.6h0M748.5 365.8h0M718.7 426.8h0M748.4 237.0h0M719.0 381.9h0M754.8 434.7h0M767.9 458.6h0M753.1 442.4h0M721.6 262.7h0M768.2 445.7h0M767.1 436.4h0M749.4 414.4h0M699.8 454.9h0M807.6 442.5h0M737.3 410.6h0M718.6 422.8h0M750.1 304.1h0M718.0 206.0h0M748.8 372.5h0M753.0 446.5h0M705.8 458.3h0M753.8 419.9h0M747.6 416.7h0M747.3 358.1h0M760.9 420.7h0M771.5 445.5h0M727.6 379.5h0M717.8 404.0h0M753.2 402.4h0M717.7 416.2h0M708.9 432.9h0M732.5 413.9h0M755.0 401.9h0M759.6 452.9h0M753.4 411.7h0M723.2 111.5h0M730.5 387.5h0M713.1 425.3h0M717.7 380.9h0M713.5 391.9h0M757.6 412.9h0M714.4 330.6h0M753.4 447.7h0M757.9 260.8h0M716.9 424.5h0M724.3 338.1h0M748.6 366.6h0M753.8 448.0h0M759.6 429.1h0M734.8 389.0h0M755.3 456.9h0M714.3 449.3h0M718.4 409.4h0M751.8 446.1h0M743.0 397.5h0M744.7 304.9h0M741.4 394.5h0M752.6 443.0h0M751.9 426.6h0M751.2 442.0h0M706.2 443.8h0M746.7 311.3h0M753.0 410.6h0M736.5 410.3h0M763.9 447.3h0M721.4 405.6h0M710.2 454.9h0M757.6 420.7h0M715.7 435.0h0M719.6 425.5h0M721.2 381.6h0M760.9 452.9h0M720.4 423.8h0M752.1 417.8h0M752.6 435.4h0M760.9 416.3h0M758.3 415.7h0M752.3 444.2h0M716.0 385.2h0M723.1 355.9h0M716.8 196.9h0M752.7 402.4h0M726.8 374.0h0M748.6 294.4h0M747.9 416.8h0M702.7 410.8h0M750.3 402.4h0M725.9 386.6h0M752.0 438.0h0M715.5 439.0h0M755.0 336.6h0M751.3 443.1h0M723.4 307.2h0M748.7 352.4h0M716.3 403.2h0M757.4 456.6h0M747.5 383.5h0M737.6 417.8h0M753.2 440.4h0M750.3 435.8h0M749.9 431.6h0M758.7 437.3h0M747.7 416.9h0M723.6 277.6h0M721.8 234.1h0M723.5 222.7h0M726.0 338.7h0M725.1 390.5h0M705.6 450.7h0M716.6 408.9h0M721.2 402.5h0M709.4 360.8h0M713.2 390.7h0M683.9 428.8h0M722.7 298.3h0M751.5 322.2h0M738.8 415.2h0M688.3 452.5h0M754.6 450.8h0M749.3 426.2h0M742.7 386.7h0M746.3 352.2h0M754.7 438.7h0M723.6 344.7h0M713.8 337.0h0M721.8 382.0h0M773.7 449.3h0M737.5 414.2h0M766.0 424.6h0M725.9 338.5h0M754.5 440.2h0M741.6 396.6h0M746.5 315.7h0M760.7 450.9h0M714.1 388.8h0M763.1 431.0h0M725.2 381.7h0M762.2 443.9h0M753.1 429.7h0M746.5 322.0h0M744.2 381.3h0M745.8 408.0h0M705.3 396.8h0M748.7 379.8h0M745.7 319.0h0M756.4 420.5h0M753.1 434.7h0M724.0 297.2h0M757.5 103.8h0M774.3 452.2h0M739.0 413.7h0M753.4 280.4h0M757.1 322.4h0M758.1 434.1h0M745.3 405.2h0M717.8 431.8h0M726.9 342.3h0M722.4 261.9h0M723.8 282.1h0M753.1 226.8h0M753.1 340.3h0M758.5 459.1h0M759.8 423.4h0M734.6 415.4h0M757.7 197.4h0M759.4 414.3h0M754.7 204.7h0M718.5 183.5h0M768.0 458.0h0M745.6 353.4h0M722.2 312.8h0M750.8 418.1h0M769.7 426.2h0M765.7 454.6h0M754.5 388.7h0M709.7 447.1h0M746.2 375.3h0M722.6 370.0h0M714.2 417.7h0M747.7 406.8h0M716.1 364.4h0M747.3 406.0h0M763.9 459.7h0M766.9 407.9h0M693.3 456.2h0M735.0 406.4h0M747.9 402.5h0M749.3 408.7h0M721.0 376.2h0M769.6 459.5h0M721.7 352.1h0M752.5 241.2h0M691.6 451.9h0M730.5 404.8h0M777.0 412.1h0M725.8 318.3h0M744.4 365.8h0M747.4 415.6h0M752.7 313.2h0M745.0 316.7h0M744.8 351.7h0M788.9 456.7h0M750.2 313.9h0M756.7 456.4h0M763.2 439.3h0M751.7 270.5h0M741.7 399.4h0M761.7 423.7h0M711.6 459.1h0M768.8 440.7h0M741.7 338.5h0M762.4 441.1h0M752.1 424.2h0M769.5 457.9h0M775.4 440.7h0M720.2 335.8h0M739.4 411.4h0M736.4 412.8h0M749.5 353.2h0M755.6 438.2h0M714.5 423.9h0M746.4 406.5h0M790.6 454.6h0M699.3 453.2h0M775.9 456.7h0M762.7 447.7h0M748.1 359.7h0M722.2 294.8h0M729.5 398.4h0M750.0 427.2h0M745.0 374.6h0M760.3 398.5h0M701.5 459.8h0M723.5 408.6h0M752.1 405.2h0M755.2 452.2h0M757.4 459.8h0M721.0 419.2h0M749.7 434.2h0M716.8 378.8h0M780.1 453.4h0M748.5 333.0h0M724.9 372.7h0M767.0 358.4h0M724.3 354.0h0M741.2 405.3h0M747.7 389.4h0M722.3 379.5h0M722.4 418.0h0M736.9 405.2h0M718.6 362.2h0M750.5 383.3h0M757.2 381.8h0M782.7 453.2h0M713.3 333.9h0M742.4 398.3h0M720.5 279.3h0M786.5 445.2h0M740.7 385.8h0M753.5 455.1h0M743.3 399.0h0M725.2 245.7h0M707.9 377.0h0M712.9 400.1h0M752.4 449.0h0M748.8 409.9h0M717.8 426.1h0M696.4 432.9h0M722.2 174.9h0M722.1 325.4h0M732.4 397.9h0M766.4 450.8h0M760.0 348.3h0M746.1 392.2h0M706.5 355.4h0M714.4 447.2h0M746.4 368.5h0M755.2 426.0h0M728.2 366.8h0M761.9 391.0h0M720.7 202.1h0M752.1 438.9h0M748.6 337.6h0M748.7 341.5h0M750.9 424.6h0M753.9 437.6h0M704.9 460.0h0M721.6 418.0h0M730.4 410.2h0M763.1 408.3h0M771.4 454.5h0M751.2 406.2h0M706.3 460.4h0M715.2 444.6h0M725.4 285.2h0M748.3 406.1h0M748.0 369.2h0M723.6 364.8h0M723.0 249.9h0M761.0 384.6h0M751.9 441.4h0M758.1 291.6h0M716.5 432.9h0M755.4 432.1h0M753.1 446.2h0M754.2 370.8h0M723.2 401.5h0M758.9 325.2h0M752.2 301.0h0M768.5 454.1h0M701.6 455.3h0M754.1 300.5h0M764.3 382.7h0M751.2 436.1h0M755.3 376.5h0M753.6 435.2h0M761.7 430.4h0M720.2 397.4h0M721.8 420.3h0M754.1 459.2h0M759.6 318.3h0M712.0 424.8h0M717.0 199.9h0M752.6 441.3h0M758.0 402.8h0M755.9 429.1h0M752.8 440.2h0M741.3 388.6h0M716.6 400.7h0M752.9 245.8h0M733.5 411.7h0M719.2 430.4h0M704.6 399.2h0M755.5 418.9h0M766.1 417.0h0M747.4 410.5h0M705.8 435.1h0M750.1 380.1h0M720.8 396.5h0M762.5 414.8h0M687.6 459.3h0M714.8 418.6h0M751.1 289.6h0M726.0 392.8h0M717.4 389.1h0M687.1 441.2h0M757.3 407.8h0M713.8 346.0h0M755.7 458.1h0M754.8 460.9h0M696.7 450.6h0M716.9 415.6h0M731.5 409.2h0M712.3 300.2h0M745.4 377.0h0M743.9 387.4h0M761.0 314.3h0M741.1 399.6h0M719.8 400.4h0M756.4 458.4h0M746.6 390.3h0M741.5 380.6h0M749.6 326.8h0M755.9 439.9h0M719.7 431.6h0M749.2 407.6h0M735.8 414.7h0M758.0 385.8h0M718.0 419.0h0M756.9 390.9h0M706.3 436.6h0M747.0 386.0h0M693.4 456.7h0M707.0 440.4h0M717.5 399.9h0M767.5 108.8h0M690.9 442.1h0M759.7 411.2h0M729.4 372.8h0M699.2 435.2h0M755.6 437.6h0M726.8 393.5h0M719.2 433.4h0M769.5 434.2h0M726.8 386.4h0M715.6 345.6h0M749.1 388.8h0M719.0 410.7h0M734.1 366.0h0M726.1 346.9h0M746.2 312.5h0M725.1 347.9h0M746.9 355.3h0M746.8 397.2h0M743.6 344.7h0M768.5 418.3h0M768.1 306.4h0M723.9 244.2h0M749.6 418.1h0M694.6 392.5h0M715.3 155.0h0M722.8 413.2h0M749.7 434.9h0M750.9 434.2h0M753.2 347.2h0M701.2 451.3h0M758.6 405.8h0M747.9 407.4h0M754.9 397.0h0M764.0 435.2h0M763.1 457.9h0M755.4 459.0h0M708.7 460.9h0M716.5 406.9h0M716.3 441.6h0M744.3 393.2h0M720.7 412.9h0M752.0 421.0h0M750.3 386.0h0M704.5 447.5h0M731.2 412.9h0M754.8 304.6h0M751.2 299.9h0M718.5 398.9h0M733.2 401.7h0M705.1 456.1h0M707.1 459.8h0M722.0 246.1h0M710.0 358.5h0M750.7 425.1h0M747.8 401.7h0M746.6 391.3h0M749.2 425.4h0M725.4 296.0h0M752.7 445.9h0M752.7 377.2h0M748.8 421.3h0M763.2 448.8h0M763.9 444.8h0M760.1 448.3h0M695.1 389.6h0M757.0 419.3h0M755.8 380.5h0M726.2 352.6h0M711.7 460.3h0M723.2 347.7h0M728.4 383.1h0M750.4 148.1h0M718.5 330.5h0M756.3 429.7h0M766.6 408.5h0M737.4 404.0h0M752.1 433.6h0M754.4 348.4h0M726.9 374.3h0M753.4 265.3h0M717.3 193.6h0M698.6 438.0h0M741.6 381.8h0M763.6 453.8h0M747.2 389.8h0M725.4 356.7h0M718.2 435.6h0M695.1 448.2h0M756.3 422.3h0M747.3 417.8h0M717.1 432.2h0M751.9 168.2h0M720.1 422.4h0M750.1 427.1h0M694.1 415.1h0M713.7 414.7h0M727.8 304.7h0M717.0 398.4h0M720.2 113.6h0M756.9 375.6h0M770.8 415.6h0M769.7 383.2h0M749.2 329.3h0M747.8 119.4h0M755.0 422.1h0M725.8 286.9h0M729.8 391.6h0M720.2 406.7h0M761.1 270.4h0M722.7 383.2h0M707.0 308.5h0M755.4 430.9h0M750.2 425.9h0M715.2 442.6h0M688.4 451.0h0M700.4 425.8h0M693.6 434.9h0M718.0 420.0h0M751.4 316.5h0M741.2 383.8h0M716.4 397.2h0M748.2 373.6h0M753.4 460.6h0M714.6 430.2h0M742.2 383.5h0M752.6 451.3h0M703.2 457.0h0M751.2 439.9h0M723.8 352.1h0M716.8 417.3h0M723.3 341.7h0M687.7 410.4h0M715.2 436.9h0M748.1 408.2h0M758.4 445.9h0M713.6 399.4h0M707.7 364.3h0M725.2 322.2h0M751.5 412.7h0M711.8 456.9h0M730.3 388.1h0M718.5 350.8h0M751.6 412.6h0M728.3 400.2h0M769.0 459.7h0M718.2 430.9h0M719.6 411.4h0M739.2 403.7h0M764.4 408.3h0M732.8 407.6h0M723.2 396.4h0M720.4 379.2h0M750.6 419.2h0M723.3 341.6h0M754.7 399.7h0M749.9 407.8h0M755.2 211.4h0M766.5 429.7h0M751.0 282.0h0M747.8 396.6h0M749.3 285.5h0M723.3 412.9h0M717.5 360.3h0M713.1 401.1h0M744.9 384.1h0M725.5 303.4h0M748.3 260.3h0M753.0 408.0h0M754.2 307.7h0M750.1 422.7h0M712.6 430.7h0M751.6 254.7h0M755.9 455.1h0M757.6 418.9h0M750.9 405.6h0M750.0 420.3h0M758.0 400.4h0M787.6 398.9h0M727.2 374.5h0M750.2 382.7h0M755.0 410.6h0M750.8 421.4h0M723.8 271.5h0M753.3 432.3h0M717.4 383.8h0M716.0 400.6h0M710.2 425.2h0M765.7 449.5h0M722.3 388.3h0M758.8 374.5h0M751.4 430.2h0M749.9 381.0h0M722.7 323.4h0M713.4 364.7h0M741.1 392.4h0M739.9 383.3h0M751.1 391.4h0M752.9 285.7h0M702.8 454.5h0M723.8 380.3h0M752.3 428.8h0M711.7 360.6h0M753.0 141.8h0M724.9 383.9h0M724.6 315.1h0M710.9 424.3h0M754.8 439.5h0M749.4 247.6h0M745.3 384.9h0M724.7 256.9h0M746.1 407.6h0M750.7 408.4h0M739.8 412.0h0M758.5 399.6h0M783.9 458.8h0M721.6 294.4h0M761.2 356.6h0M750.0 349.4h0M747.4 349.5h0M723.9 405.3h0M726.9 358.4h0M752.5 441.6h0M723.4 270.4h0M716.8 437.8h0M753.0 459.3h0M755.3 432.8h0M724.5 334.8h0M745.5 246.0h0M755.9 420.8h0M748.4 405.6h0M694.5 433.6h0M725.5 376.5h0M750.0 412.2h0M765.9 228.6h0M748.4 413.7h0M763.4 460.9h0M719.5 405.6h0M759.0 400.3h0M760.5 446.3h0M737.1 410.2h0M751.6 415.8h0M756.3 451.6h0M709.5 417.9h0M726.1 347.8h0M745.9 381.4h0M748.6 424.8h0M746.6 312.4h0M753.7 450.1h0M758.4 460.9h0M725.8 379.0h0M721.7 408.5h0M719.9 412.0h0M759.5 456.2h0M706.4 459.3h0M720.3 391.6h0M753.6 458.6h0M761.9 405.7h0M753.3 412.9h0M724.7 382.8h0M764.7 371.6h0M725.6 396.3h0M709.5 417.3h0M740.6 404.9h0M726.1 353.5h0M719.9 427.1h0M747.9 362.0h0M751.3 295.8h0M746.0 357.9h0M728.0 349.6h0M723.8 259.1h0M753.7 442.9h0M751.7 439.0h0M726.0 365.5h0M758.8 453.1h0M742.9 400.4h0M744.6 378.0h0M685.9 454.7h0M763.6 408.3h0M704.9 414.7h0M717.8 429.4h0M760.1 457.8h0M699.7 432.2h0M753.5 460.7h0M744.4 390.2h0M760.7 449.7h0M745.3 377.4h0M751.5 441.7h0M756.7 419.1h0M766.5 296.8h0M780.1 453.2h0M746.1 298.6h0M751.6 448.0h0M723.3 413.1h0M719.4 416.9h0M748.6 339.6h0M753.9 450.6h0M737.0 410.6h0M772.5 390.4h0M722.3 418.3h0M750.7 410.0h0M763.2 436.8h0M721.5 420.2h0M717.8 387.4h0M710.3 447.0h0M717.8 399.7h0M758.7 402.7h0M760.6 456.9h0M748.8 426.5h0M717.4 357.7h0M717.8 335.6h0M720.4 362.5h0M745.0 321.2h0M751.9 400.8h0M750.6 435.3h0M764.5 428.3h0M747.1 402.2h0M725.7 231.2h0M736.1 415.2h0M711.1 449.4h0M711.5 437.4h0M751.5 327.0h0M776.4 452.1h0M761.7 460.8h0M726.9 366.4h0M716.7 348.1h0M752.9 444.3h0M772.8 417.9h0M755.5 446.5h0M759.4 412.1h0M755.3 451.1h0M752.9 420.9h0M756.1 281.3h0M724.7 337.3h0M789.6 458.0h0M762.4 459.3h0M749.8 372.9h0M695.2 401.6h0M713.9 293.9h0M757.1 243.4h0M754.0 416.6h0M742.1 368.8h0M784.1 458.5h0M747.3 403.7h0M765.1 419.7h0M724.0 342.9h0M772.9 440.8h0M702.5 460.3h0M739.1 410.7h0M724.4 260.7h0M771.8 447.1h0M764.4 437.8h0M757.4 165.1h0M723.0 226.9h0M780.3 428.7h0M777.8 434.8h0M758.0 308.1h0M723.9 297.3h0M752.7 450.1h0M730.7 412.1h0M725.7 374.9h0M739.2 400.2h0M748.9 399.1h0M755.4 427.4h0M723.4 409.1h0M781.2 455.3h0M746.0 394.7h0M726.8 383.7h0M773.1 453.6h0M760.1 185.2h0M718.5 394.7h0M767.2 335.3h0M725.8 372.8h0M753.0 403.3h0M746.5 278.5h0M745.2 403.8h0M723.2 234.5h0M757.7 402.9h0M701.6 386.4h0M753.2 445.9h0M751.2 414.7h0M726.4 352.2h0M729.4 390.7h0M775.6 457.4h0M722.9 416.6h0M759.2 426.9h0M790.7 394.6h0M724.1 406.4h0M751.5 433.4h0M720.9 396.9h0M735.8 419.0h0M763.6 448.5h0M719.3 170.0h0M755.7 283.3h0M742.3 380.6h0M748.0 398.3h0M748.1 267.6h0M726.7 291.4h0M746.6 195.6h0M749.2 379.9h0M722.9 414.8h0M718.4 425.8h0M760.0 450.3h0M690.6 428.0h0M765.4 369.5h0M748.0 268.5h0M723.6 295.1h0M747.0 398.0h0M748.9 393.1h0M752.4 393.2h0M712.0 453.4h0M722.2 386.4h0M753.3 276.0h0M765.2 344.9h0M718.6 414.5h0M725.5 393.3h0M714.9 394.9h0M715.4 433.2h0M761.4 446.1h0M748.5 354.0h0M704.3 388.0h0M756.8 210.7h0M705.3 459.0h0M751.4 277.9h0M710.6 416.8h0M722.5 386.0h0M712.6 415.0h0M763.2 439.0h0M759.4 432.1h0M747.3 269.7h0M776.1 445.1h0M749.1 376.8h0M720.0 411.2h0M757.0 404.3h0M705.0 460.2h0M692.0 451.4h0M752.9 313.7h0M738.7 416.8h0M756.7 313.4h0M734.7 406.9h0M684.4 438.9h0M763.2 446.9h0M744.0 277.3h0M771.9 435.1h0M722.4 382.2h0M715.4 411.8h0M719.4 335.4h0M749.2 418.3h0M718.2 312.2h0M751.6 405.0h0M721.7 310.9h0M752.3 444.2h0M711.8 451.0h0M755.9 446.0h0M758.5 453.7h0M716.6 441.3h0M714.4 417.0h0M722.0 393.1h0M736.5 407.4h0M721.2 252.3h0M751.6 438.6h0M711.7 414.3h0M716.9 292.9h0M752.4 428.9h0M723.2 310.4h0M753.6 435.3h0M757.5 410.2h0M760.1 443.8h0M723.9 407.5h0M719.9 427.1h0M728.0 373.3h0M725.4 364.6h0M761.4 384.9h0M770.4 459.0h0M754.2 458.7h0M785.3 410.2h0M723.1 412.4h0M716.5 387.4h0M747.3 314.5h0M751.9 401.9h0M724.9 303.0h0M778.3 440.8h0M756.3 228.3h0M753.3 428.1h0M709.0 439.1h0M711.2 368.8h0M750.5 415.5h0M759.3 431.1h0M745.3 345.2h0M745.7 403.4h0M769.4 399.8h0M722.1 410.1h0M711.9 440.8h0M691.0 417.7h0M756.0 431.5h0M750.1 194.2h0M723.6 353.9h0M709.0 314.7h0M716.5 435.7h0M753.3 447.5h0M739.5 333.3h0M750.2 381.4h0M736.4 412.7h0M727.3 354.8h0M782.1 457.3h0M753.8 450.4h0M762.6 451.3h0M754.3 373.7h0M754.2 431.0h0M750.5 430.3h0M762.6 385.1h0M752.8 208.0h0M744.6 398.5h0M771.3 412.4h0M766.8 431.6h0M752.5 440.5h0M773.7 450.5h0M725.4 395.7h0M729.8 361.7h0M750.6 397.8h0M761.5 308.1h0M750.3 403.0h0M766.3 457.3h0M723.6 299.0h0M732.4 405.8h0M718.0 417.7h0M738.2 414.7h0M751.9 433.5h0M709.5 429.4h0M745.9 333.0h0M745.0 405.7h0M750.7 425.9h0M752.0 430.9h0M746.2 403.2h0M719.2 418.0h0M779.3 401.9h0M746.1 400.9h0M750.4 435.0h0M749.3 421.0h0M750.8 409.6h0M709.2 460.9h0M710.7 429.4h0M755.5 418.2h0M753.2 457.9h0M722.0 386.6h0M750.9 398.6h0M718.4 203.2h0M725.8 253.6h0M719.9 421.8h0M751.8 400.6h0M748.8 428.8h0M751.2 362.7h0M726.4 377.2h0M755.0 453.6h0M777.1 406.9h0M760.4 366.5h0M727.0 376.5h0M722.0 242.8h0M684.2 412.8h0M747.8 378.4h0M713.7 431.7h0M711.8 429.6h0M723.5 373.3h0M721.8 274.8h0M702.1 432.0h0M723.9 323.4h0M719.5 366.4h0M707.7 442.6h0M747.4 371.8h0M718.8 188.5h0M771.5 419.0h0M748.7 414.9h0M751.5 264.0h0M753.9 330.5h0M724.8 377.2h0M720.5 403.5h0M767.5 435.3h0M757.2 449.0h0M757.6 416.5h0M763.9 441.4h0M727.5 391.8h0M757.2 434.9h0M767.0 432.5h0M723.7 390.4h0M764.7 442.0h0M750.9 439.9h0M702.1 437.5h0M719.4 346.2h0M723.3 392.8h0M780.1 441.1h0M753.5 336.0h0M747.5 317.7h0M755.9 419.4h0M750.8 407.5h0M724.1 284.9h0M744.7 335.5h0M754.1 418.8h0M720.3 354.1h0M752.1 407.5h0M752.6 442.1h0M754.2 424.4h0M757.8 332.3h0M712.9 408.9h0M695.9 425.3h0M762.5 447.3h0M723.2 310.1h0M717.8 425.8h0M708.7 449.2h0M749.7 404.5h0M752.8 337.0h0M747.8 374.5h0M749.2 419.2h0M759.9 450.6h0M757.7 452.4h0M714.4 355.0h0M751.9 428.7h0M721.6 411.4h0M716.2 431.6h0M721.2 234.3h0M763.5 423.3h0M752.1 249.1h0M753.2 428.1h0M769.7 459.3h0M739.0 375.1h0M723.5 369.7h0M731.8 404.9h0M754.2 435.6h0M747.3 418.7h0M720.7 150.6h0M746.2 404.0h0M738.7 416.0h0M745.7 409.4h0M719.9 378.2h0M753.4 450.3h0M727.6 357.8h0M718.3 334.0h0M736.7 380.6h0M752.9 429.8h0M705.8 444.3h0M718.8 409.6h0M746.4 381.9h0M719.6 431.5h0M754.3 344.2h0M740.5 402.1h0M717.7 420.9h0M761.7 358.9h0M752.0 388.4h0M723.3 354.0h0M716.1 229.8h0M710.3 346.4h0M766.8 440.4h0M750.7 439.1h0M723.2 277.3h0M756.5 440.3h0M761.5 209.3h0M724.4 361.8h0M724.6 342.0h0M745.0 335.4h0M726.0 303.5h0M762.9 408.9h0M713.8 408.7h0M718.8 402.4h0M708.9 391.8h0M745.1 399.1h0M769.9 453.6h0M754.9 386.4h0M755.2 430.9h0M746.8 380.7h0M712.3 451.3h0M758.1 220.5h0M751.3 415.4h0M750.1 396.7h0M756.1 380.9h0M722.5 408.1h0M754.2 449.4h0M748.6 401.4h0M728.0 346.1h0M749.8 421.9h0M765.1 460.8h0M724.5 338.1h0M753.4 423.3h0M771.3 435.0h0M757.6 448.6h0M725.3 319.7h0M753.6 394.0h0M767.8 455.4h0M698.8 431.6h0M751.6 390.5h0M723.3 374.4h0M735.4 412.8h0M755.1 441.8h0M749.1 423.6h0M707.6 357.3h0M752.7 323.7h0M749.2 413.4h0M754.5 426.7h0M723.3 375.3h0M735.6 410.1h0M747.9 323.9h0M715.6 446.0h0M708.0 458.0h0M751.4 430.9h0M751.9 420.0h0M757.8 436.4h0M751.6 268.2h0M762.1 339.4h0M766.5 404.8h0M748.7 321.8h0M708.7 440.2h0M756.3 352.7h0M760.6 338.8h0M765.6 451.6h0M735.1 410.7h0M780.4 455.8h0M753.6 435.7h0M751.9 439.7h0M744.9 386.1h0M696.7 421.0h0M723.5 394.6h0M708.3 417.4h0M741.8 391.6h0M723.7 294.7h0M769.9 453.7h0M754.1 443.9h0M694.3 414.1h0M706.2 433.8h0M749.4 415.6h0M707.9 426.7h0M707.0 458.2h0M752.6 437.6h0M718.8 373.9h0M747.8 403.8h0M759.5 415.5h0M736.6 411.5h0M710.6 404.3h0M746.3 412.3h0M755.1 385.9h0M708.3 446.7h0M749.9 365.1h0M719.3 420.7h0M763.2 401.8h0M708.3 374.5h0M722.1 379.3h0M737.5 394.8h0M724.1 314.4h0M726.6 257.1h0M699.7 445.4h0M725.6 368.6h0M755.4 316.0h0M728.2 387.2h0M759.7 443.6h0M737.3 410.7h0M760.7 449.4h0M712.4 456.7h0M751.1 309.5h0M713.2 348.3h0M775.9 438.6h0M749.3 374.1h0M751.0 430.3h0M747.4 369.9h0M723.3 314.4h0M723.7 408.7h0M721.8 228.2h0M749.6 396.1h0M758.7 453.1h0M719.0 400.3h0M753.1 457.1h0M751.7 438.1h0M748.7 372.5h0M717.9 420.7h0M722.9 392.8h0M745.0 398.5h0M740.6 374.1h0M753.6 418.3h0M744.3 392.3h0M725.4 323.2h0M720.3 416.3h0M722.4 417.2h0M756.4 417.1h0M750.2 433.2h0M753.1 413.7h0M760.2 400.8h0M717.1 379.9h0M749.3 349.5h0M724.0 333.0h0M719.2 411.9h0M744.0 390.1h0M749.3 408.8h0M724.0 287.8h0M767.7 434.3h0M731.7 352.1h0M726.9 326.4h0M746.0 409.8h0M748.4 386.1h0M748.5 392.4h0M753.2 236.3h0M716.6 435.8h0M714.8 410.6h0M752.4 438.2h0M737.8 415.0h0M725.4 293.2h0M719.6 431.2h0M750.8 303.3h0M752.3 440.6h0M751.6 324.9h0M721.8 383.0h0M749.7 418.1h0M755.9 434.3h0M754.6 445.0h0M751.2 304.4h0M762.4 452.8h0M751.3 329.6h0M750.4 408.6h0M724.7 368.6h0M729.6 364.7h0M734.7 418.6h0M756.5 428.1h0M753.7 455.5h0M720.9 419.5h0M747.6 411.9h0M748.0 409.0h0M754.7 450.6h0M715.9 331.4h0M724.7 356.6h0M758.1 369.0h0M707.1 438.8h0M745.5 378.6h0M722.0 416.4h0M747.2 416.3h0M719.8 412.8h0M735.4 412.7h0M725.2 329.2h0M747.1 415.8h0M703.6 460.5h0M747.4 365.6h0M712.1 440.2h0M721.2 363.1h0M743.8 391.5h0M754.9 429.5h0M731.0 369.4h0M754.3 457.6h0M750.0 355.3h0M756.7 449.4h0M717.8 438.2h0M724.0 374.8h0M762.5 446.7h0M748.3 388.4h0M723.5 374.1h0M759.8 458.4h0M752.7 299.3h0M703.4 441.8h0M710.4 421.8h0M730.5 388.2h0M707.4 421.4h0M746.9 406.9h0M728.0 371.0h0M749.3 430.2h0M749.5 342.0h0M714.7 446.8h0M766.4 385.9h0M755.1 425.2h0M770.6 453.4h0M721.1 413.9h0M753.6 428.0h0M752.6 236.8h0M753.3 446.2h0M767.4 393.2h0M752.9 313.9h0M769.6 446.2h0M746.8 384.1h0M730.2 382.0h0M755.8 454.7h0M715.2 314.5h0M769.2 442.1h0M770.0 445.5h0M749.5 294.8h0M689.2 459.5h0M752.6 437.8h0M759.4 453.2h0M706.4 453.2h0M753.3 353.6h0M735.4 417.6h0M713.1 358.5h0M724.8 395.0h0M756.5 205.2h0M723.7 399.8h0M757.1 453.6h0M711.3 396.6h0M717.7 198.9h0M719.3 379.8h0M757.9 419.7h0M751.0 198.7h0M769.7 441.4h0M786.8 428.0h0M765.0 458.4h0M716.0 409.5h0M750.9 275.4h0M760.0 441.3h0M736.7 414.5h0M755.0 458.2h0M724.8 339.1h0M754.0 376.9h0M752.4 181.1h0M710.7 365.3h0M759.5 428.4h0M720.8 285.4h0M716.8 401.7h0M718.1 186.5h0M686.6 434.4h0M735.7 391.3h0M762.5 417.4h0M720.4 161.6h0M734.0 382.2h0M726.2 339.0h0M711.6 413.1h0M748.8 422.5h0M752.2 409.1h0M725.8 315.7h0M718.6 372.5h0M725.2 372.0h0M720.7 414.0h0M750.0 266.2h0M749.9 396.1h0M723.0 393.3h0M709.1 433.3h0M756.8 409.4h0M747.1 383.5h0M724.3 408.6h0M755.5 300.6h0M711.6 410.1h0M748.8 374.0h0M726.7 341.0h0M748.3 416.8h0M724.3 301.9h0M716.2 408.4h0M718.9 337.5h0M725.3 391.9h0M743.9 380.2h0M749.1 404.8h0M750.1 435.5h0M723.6 339.5h0M742.1 394.6h0M708.4 442.9h0M753.2 410.0h0M746.6 389.7h0M756.7 456.5h0M746.8 395.1h0M721.5 263.2h0M772.4 448.9h0M745.9 408.2h0M758.0 387.5h0M766.7 396.1h0M753.3 178.5h0M712.7 359.6h0M691.5 458.6h0M723.4 357.7h0M744.7 397.6h0M710.0 389.7h0M771.1 458.3h0M716.9 304.1h0M767.4 415.5h0M765.0 458.3h0M706.4 450.2h0M754.9 439.0h0M758.0 419.4h0M734.4 414.1h0M751.5 359.3h0M728.0 384.6h0M763.3 460.4h0M760.9 427.7h0M711.3 425.6h0M770.0 441.7h0M730.7 395.0h0M758.7 419.9h0M771.6 442.0h0M722.9 377.0h0M720.9 395.6h0M770.0 395.5h0M745.3 406.9h0M752.3 385.5h0M716.6 422.9h0M746.1 377.5h0M719.8 428.3h0M723.6 279.8h0M748.3 420.5h0M771.2 434.3h0M735.9 410.2h0M754.3 178.4h0M735.0 405.2h0M721.7 358.4h0M724.4 386.8h0M722.6 415.7h0M697.0 443.5h0M709.2 396.8h0M756.9 440.0h0M748.7 407.4h0M716.9 435.8h0M722.5 337.7h0M727.6 388.7h0M764.4 432.3h0M763.0 445.2h0M736.7 415.0h0M757.3 394.9h0M713.3 432.4h0M729.8 360.9h0M745.8 403.2h0M751.7 394.5h0M716.5 439.1h0M756.9 454.8h0M749.2 301.6h0M710.8 344.7h0M722.6 243.1h0M765.4 421.9h0M717.1 193.6h0M719.8 430.7h0M724.3 398.8h0M721.0 385.9h0M709.2 440.9h0M709.0 362.5h0M754.4 428.1h0M724.1 364.8h0M738.1 413.8h0M756.4 425.2h0M764.4 405.8h0M743.5 327.9h0M722.4 305.3h0M706.8 391.9h0M754.5 322.1h0M759.6 227.0h0M759.8 438.2h0M719.1 364.8h0M749.8 392.6h0M750.5 407.3h0M756.5 456.7h0M753.5 410.9h0M716.3 358.0h0M751.8 291.0h0M716.5 436.0h0M723.5 413.1h0M752.5 272.3h0M752.1 419.2h0M722.0 384.2h0M710.3 186.6h0M755.2 456.4h0M724.0 274.8h0M717.1 403.2h0M724.8 225.5h0M756.4 196.9h0M762.0 262.8h0M749.9 277.8h0M722.6 374.4h0M721.9 355.5h0M726.3 341.5h0M746.4 405.5h0M756.1 457.3h0M716.7 442.3h0M752.8 435.1h0M714.3 448.0h0M763.3 158.0h0M752.1 163.3h0M755.2 441.7h0M723.6 291.3h0M733.4 415.1h0M728.4 382.5h0M725.5 344.8h0M788.1 438.0h0M715.6 423.7h0M749.2 425.7h0M706.2 443.9h0M755.6 369.4h0M749.5 267.2h0M743.3 384.3h0M749.0 295.9h0M757.6 228.0h0M742.3 373.0h0M752.6 406.0h0M725.4 387.8h0M772.0 424.7h0M755.1 434.1h0M746.8 382.8h0M709.2 414.5h0M716.8 406.2h0M712.5 422.8h0M697.2 458.8h0M742.0 385.3h0M732.8 417.2h0M728.4 391.4h0M749.5 427.0h0M721.0 398.2h0M733.8 417.6h0M717.0 393.5h0M724.0 274.9h0M726.6 343.0h0M717.1 438.3h0M723.4 236.6h0M750.1 357.4h0M747.4 395.8h0M745.4 362.6h0M729.2 388.1h0M717.3 370.3h0M746.4 394.5h0M770.9 429.8h0M753.0 444.2h0M749.7 427.8h0M725.9 304.2h0M756.6 163.3h0M759.8 156.3h0M703.7 448.8h0M703.4 458.2h0M755.8 390.2h0M722.4 253.2h0M710.0 437.1h0M744.6 378.4h0M726.3 395.3h0M761.6 243.5h0M754.5 437.3h0M754.1 422.3h0M749.2 393.4h0M721.6 392.2h0M720.4 383.7h0M717.7 430.9h0M722.2 347.8h0M719.2 415.5h0M722.2 327.5h0M753.2 281.0h0M729.2 399.9h0M723.1 304.1h0M737.4 414.0h0M775.9 405.0h0M716.4 417.0h0M754.3 281.5h0M746.7 310.2h0M718.2 412.0h0M753.9 448.4h0M707.5 448.9h0M722.4 403.6h0M728.4 356.2h0M751.8 407.8h0M705.5 450.7h0M751.6 308.2h0M752.0 425.6h0M755.4 458.5h0M749.1 108.1h0M746.7 399.5h0M753.1 425.1h0M738.8 406.8h0M749.2 406.0h0M751.2 336.5h0M721.4 423.8h0M749.0 427.0h0M772.1 410.8h0M751.9 325.6h0M712.5 401.7h0M751.7 406.9h0M738.1 401.7h0M751.9 359.1h0M710.4 436.8h0M710.6 456.2h0M754.0 415.9h0M710.6 362.6h0M736.8 416.1h0M763.3 444.1h0M726.3 361.0h0M747.6 392.3h0M717.0 370.9h0M722.4 247.6h0M765.4 402.1h0M750.9 417.6h0M754.6 206.7h0M724.6 304.7h0M728.0 391.5h0M686.8 458.5h0M754.5 272.8h0M777.9 451.8h0M722.6 398.6h0M762.7 414.4h0M705.4 431.1h0M726.1 388.7h0M738.3 395.3h0M723.6 341.3h0M746.3 404.8h0M718.1 421.0h0M726.1 363.7h0M727.8 390.4h0M695.7 458.7h0M749.4 339.8h0M723.9 399.6h0M766.4 449.1h0M726.1 315.5h0M759.0 388.5h0M728.4 374.0h0M750.2 342.8h0M721.0 267.3h0M754.0 349.4h0M759.8 436.7h0M753.7 416.3h0M685.0 440.6h0M751.1 260.7h0M762.4 436.6h0M718.0 429.3h0M749.2 390.1h0M695.9 453.3h0M756.6 381.3h0M737.2 404.9h0M750.8 430.2h0M725.7 371.0h0M755.7 433.0h0M750.3 435.8h0M757.5 198.1h0M747.2 364.1h0M757.2 431.7h0M774.7 456.0h0M752.4 150.1h0M771.8 386.6h0M710.6 447.4h0M717.8 374.3h0M747.1 347.7h0M751.5 429.2h0M750.2 378.1h0M764.0 415.4h0M725.4 394.1h0M719.3 171.1h0M720.4 382.0h0M753.3 231.0h0M746.9 414.5h0M765.2 318.6h0M756.7 447.2h0M716.3 120.4h0M753.8 405.2h0M748.4 423.8h0M759.1 122.1h0M724.7 405.2h0M706.0 403.0h0M760.2 416.9h0M724.2 355.7h0M754.1 447.7h0M750.5 432.3h0M751.7 290.4h0M753.4 423.2h0M755.9 459.8h0M735.8 414.1h0M748.2 421.8h0M775.9 437.6h0M760.3 434.5h0M750.4 377.1h0M700.7 401.7h0M724.0 298.9h0M722.8 358.7h0M707.9 458.5h0M751.5 392.2h0M724.1 401.6h0M765.8 453.3h0M751.9 315.9h0M751.0 401.8h0M695.9 443.3h0M752.7 402.5h0M716.9 432.9h0M760.2 410.0h0M730.5 361.5h0M764.3 426.4h0M723.3 409.1h0M760.6 132.5h0M744.2 400.3h0M762.7 409.4h0M757.0 446.8h0M749.6 404.8h0M737.4 380.0h0M717.7 417.1h0M748.2 355.0h0M724.1 365.5h0M745.6 391.0h0M750.5 398.7h0M746.9 412.1h0M709.6 432.3h0M720.4 115.0h0M753.0 395.3h0M773.1 451.7h0M726.9 341.2h0M776.1 408.4h0M717.0 386.6h0M749.4 432.9h0M718.6 368.4h0M756.0 171.0h0M755.1 429.3h0M712.6 359.4h0M719.9 368.8h0M753.5 440.6h0M752.4 410.9h0M744.3 390.0h0M718.4 420.7h0M746.0 307.7h0M722.9 407.6h0M759.5 272.8h0M762.6 459.1h0M724.9 390.1h0M711.8 346.5h0M757.4 429.2h0M763.2 460.8h0M757.7 423.7h0M755.9 460.9h0M718.0 421.5h0M750.1 414.5h0M757.7 445.3h0M723.5 284.1h0M713.7 402.2h0M752.7 286.5h0M750.2 179.9h0M749.4 407.7h0M753.2 455.0h0M697.8 389.9h0M735.0 388.2h0M758.4 435.0h0M755.2 454.9h0M723.0 415.5h0M718.1 395.5h0M720.6 419.9h0M716.1 383.2h0M762.0 443.0h0M729.4 346.9h0M723.5 342.9h0M746.7 377.4h0M723.5 353.6h0M744.7 314.9h0M714.4 423.8h0M749.6 415.9h0M731.6 413.7h0M722.5 272.3h0M755.3 273.6h0M746.4 351.9h0M702.0 454.1h0M758.3 451.8h0M770.1 415.1h0M763.6 159.8h0M714.9 327.5h0M737.4 408.2h0M748.9 357.0h0M715.4 427.2h0M747.1 412.8h0M723.3 407.5h0M724.3 390.5h0M712.6 451.6h0M765.4 440.4h0M767.9 460.1h0M754.9 449.9h0M716.2 436.5h0M754.4 283.6h0M748.0 415.3h0M749.0 377.5h0M698.6 449.1h0M725.8 352.8h0M735.0 412.9h0M720.1 392.5h0M724.6 354.6h0M740.5 407.0h0M759.0 282.2h0M752.2 429.4h0M729.7 230.7h0M756.6 453.5h0M702.1 439.2h0M747.3 412.4h0M713.2 425.8h0M706.6 393.7h0M748.9 366.0h0M739.6 381.7h0M767.4 450.7h0M766.8 451.1h0M748.5 416.3h0M753.1 458.2h0M741.8 381.1h0M705.2 460.8h0M719.2 413.2h0M754.3 454.2h0M713.0 423.1h0M699.1 431.6h0M724.2 314.5h0M751.8 415.3h0M694.4 439.3h0M753.2 224.3h0M715.2 432.2h0M702.9 411.6h0M715.2 403.8h0M751.0 418.5h0M745.9 390.1h0M750.9 273.7h0M746.8 362.2h0M745.1 390.9h0M699.4 413.1h0M761.5 381.0h0M741.9 392.4h0M745.4 353.8h0M724.2 337.8h0M748.4 378.1h0M711.6 411.4h0M769.3 432.5h0M761.0 453.7h0M745.5 358.3h0M722.4 316.7h0M747.5 395.2h0M760.9 401.9h0M752.5 409.4h0M705.9 428.9h0M712.1 453.9h0M756.6 441.3h0M727.5 395.4h0M788.1 384.4h0M759.9 428.3h0M751.4 334.1h0M704.1 435.1h0M727.3 372.8h0M743.5 392.6h0M869.7 386.5h0M835.0 450.3h0M800.2 458.0h0M806.5 457.4h0M616.9 455.0h0M635.9 455.0h0M661.2 449.1h0M670.6 432.4h0M673.8 459.8h0M683.3 452.1h0M684.9 455.0h0M793.9 431.2h0M787.6 449.1h0M607.4 459.8h0M707.6 101.6h0M709.0 101.6h0M710.3 101.6h0M711.7 101.6h0M713.0 101.6h0M714.4 101.6h0M715.8 101.6h0M717.1 101.6h0M718.5 101.6h0M736.2 101.6h0M745.7 101.6h0M749.7 101.6h0M750.6 101.6h0M751.4 101.6h0M752.2 101.6h0M753.0 101.6h0M753.8 101.6h0M754.6 101.6h0M755.5 101.6h0M756.3 101.6h0M757.1 101.6h0M757.9 101.6h0M758.7 101.6h0M759.5 101.6h0M760.3 101.6h0M761.2 101.6h0M762.0 101.6h0M762.8 101.6h0M763.6 101.6h0M764.4 101.6h0M765.2 101.6h0M766.1 101.6h0M766.9 101.6h0M767.7 101.6h0" fill="none" stroke="#1c1c1c" stroke-width="1.6" stroke-linecap="round"/>
<path d="M666.2 110.3h4l-2 3.6zM681.1 107.6h4l-2 3.6zM684.7 118.5h4l-2 3.6zM701.3 141.6h4l-2 3.6zM700.2 162.5h4l-2 3.6zM701.0 174.2h4l-2 3.6zM664.3 186.2h4l-2 3.6zM690.9 193.0h4l-2 3.6zM686.3 203.3h4l-2 3.6zM696.6 207.1h4l-2 3.6zM664.3 219.6h4l-2 3.6zM690.9 219.6h4l-2 3.6zM684.4 240.0h4l-2 3.6zM700.2 241.3h4l-2 3.6zM697.4 246.2h4l-2 3.6zM662.4 258.7h4l-2 3.6zM681.1 259.6h4l-2 3.6zM672.7 264.2h4l-2 3.6zM670.5 270.7h4l-2 3.6zM659.4 272.1h4l-2 3.6zM689.8 270.7h4l-2 3.6zM702.1 276.1h4l-2 3.6zM690.4 291.1h4l-2 3.6zM697.4 293.0h4l-2 3.6zM700.7 293.0h4l-2 3.6zM658.0 296.5h4l-2 3.6zM689.3 299.8h4l-2 3.6zM699.6 299.8h4l-2 3.6zM681.1 304.4h4l-2 3.6zM659.4 309.3h4l-2 3.6zM688.7 309.9h4l-2 3.6zM692.0 311.5h4l-2 3.6zM702.9 310.7h4l-2 3.6zM663.5 316.9h4l-2 3.6zM688.7 320.2h4l-2 3.6zM697.4 318.8h4l-2 3.6zM700.7 317.5h4l-2 3.6zM702.3 328.4h4l-2 3.6zM661.6 329.7h4l-2 3.6zM664.8 331.1h4l-2 3.6zM694.7 333.8h4l-2 3.6zM696.9 336.5h4l-2 3.6zM619.4 338.7h4l-2 3.6zM700.2 339.2h4l-2 3.6zM580.0 100.0h4l-2 3.6zM589.5 100.0h4l-2 3.6zM609.1 100.0h4l-2 3.6zM612.6 100.0h4l-2 3.6zM621.3 100.0h4l-2 3.6zM624.0 100.0h4l-2 3.6zM633.6 100.0h4l-2 3.6zM636.3 100.0h4l-2 3.6zM639.0 100.0h4l-2 3.6zM643.9 100.0h4l-2 3.6zM647.1 100.0h4l-2 3.6zM649.9 100.0h4l-2 3.6zM653.1 100.0h4l-2 3.6zM659.4 100.0h4l-2 3.6zM662.6 100.0h4l-2 3.6zM670.3 100.0h4l-2 3.6zM673.5 100.0h4l-2 3.6zM679.8 100.0h4l-2 3.6zM683.3 100.0h4l-2 3.6zM687.1 100.0h4l-2 3.6zM690.6 100.0h4l-2 3.6zM693.4 100.0h4l-2 3.6zM696.1 100.0h4l-2 3.6zM698.8 100.0h4l-2 3.6zM702.9 100.0h4l-2 3.6z" fill="#2a4fa8"/>
<path d="M681.1 340.6h4l-2 3.6zM693.4 340.6h4l-2 3.6zM696.1 351.5h4l-2 3.6zM689.8 356.9h4l-2 3.6zM703.4 356.9h4l-2 3.6zM667.0 361.8h4l-2 3.6zM696.1 364.2h4l-2 3.6zM688.5 367.2h4l-2 3.6zM698.3 369.1h4l-2 3.6zM700.7 371.3h4l-2 3.6zM670.8 371.9h4l-2 3.6zM700.7 375.9h4l-2 3.6zM651.2 378.7h4l-2 3.6zM685.8 379.2h4l-2 3.6zM688.5 378.7h4l-2 3.6zM700.7 378.7h4l-2 3.6z" fill="#2aace2"/>
<path d="M770.3 111.3h4l-2 -3.6zM780.4 114.6h4l-2 -3.6zM798.9 113.5h4l-2 -3.6zM781.7 123.0h4l-2 -3.6zM783.1 134.4h4l-2 -3.6zM770.3 146.1h4l-2 -3.6zM767.6 154.0h4l-2 -3.6zM771.4 154.3h4l-2 -3.6zM771.4 163.0h4l-2 -3.6zM822.8 167.6h4l-2 -3.6zM778.5 173.9h4l-2 -3.6zM795.1 177.4h4l-2 -3.6zM769.5 179.8h4l-2 -3.6zM772.8 181.5h4l-2 -3.6zM779.6 185.5h4l-2 -3.6zM772.2 190.2h4l-2 -3.6zM778.5 192.1h4l-2 -3.6zM787.7 192.1h4l-2 -3.6zM769.5 199.7h4l-2 -3.6zM775.5 201.6h4l-2 -3.6zM769.5 207.8h4l-2 -3.6zM787.7 207.8h4l-2 -3.6zM789.3 210.0h4l-2 -3.6zM767.6 216.5h4l-2 -3.6zM771.9 215.5h4l-2 -3.6zM778.5 223.3h4l-2 -3.6zM772.2 228.2h4l-2 -3.6zM770.3 231.0h4l-2 -3.6zM786.1 233.7h4l-2 -3.6zM766.0 236.4h4l-2 -3.6zM767.6 238.3h4l-2 -3.6zM775.7 235.0h4l-2 -3.6zM786.4 239.1h4l-2 -3.6zM779.0 243.2h4l-2 -3.6zM786.4 254.1h4l-2 -3.6zM798.0 254.3h4l-2 -3.6zM770.3 261.4h4l-2 -3.6zM774.9 258.1h4l-2 -3.6zM778.2 263.6h4l-2 -3.6zM780.4 267.7h4l-2 -3.6zM795.9 275.0h4l-2 -3.6zM775.5 275.8h4l-2 -3.6zM786.6 279.3h4l-2 -3.6zM768.1 283.4h4l-2 -3.6zM778.2 282.6h4l-2 -3.6zM780.4 283.2h4l-2 -3.6zM776.3 289.4h4l-2 -3.6zM779.6 290.2h4l-2 -3.6zM784.4 293.5h4l-2 -3.6zM806.2 291.6h4l-2 -3.6zM772.2 294.3h4l-2 -3.6zM766.0 295.7h4l-2 -3.6zM818.2 300.3h4l-2 -3.6zM774.9 304.4h4l-2 -3.6zM769.5 307.6h4l-2 -3.6zM768.1 309.3h4l-2 -3.6zM789.3 310.3h4l-2 -3.6zM790.7 313.3h4l-2 -3.6zM794.0 313.3h4l-2 -3.6zM768.1 319.3h4l-2 -3.6zM769.5 322.0h4l-2 -3.6zM774.1 321.2h4l-2 -3.6zM780.4 320.1h4l-2 -3.6zM788.5 318.0h4l-2 -3.6zM773.6 327.5h4l-2 -3.6zM785.8 334.3h4l-2 -3.6zM768.1 335.6h4l-2 -3.6zM771.4 337.0h4l-2 -3.6zM771.4 333.7h4l-2 -3.6zM784.4 342.4h4l-2 -3.6zM787.7 342.4h4l-2 -3.6zM910.9 207.8h4l-2 -3.6zM766.8 103.2h4l-2 -3.6zM769.0 103.2h4l-2 -3.6zM771.1 103.2h4l-2 -3.6zM773.3 103.2h4l-2 -3.6zM775.5 103.2h4l-2 -3.6zM777.7 103.2h4l-2 -3.6zM779.8 103.2h4l-2 -3.6zM782.0 103.2h4l-2 -3.6zM784.2 103.2h4l-2 -3.6zM786.4 103.2h4l-2 -3.6zM788.5 103.2h4l-2 -3.6zM790.7 103.2h4l-2 -3.6zM792.9 103.2h4l-2 -3.6zM796.7 103.2h4l-2 -3.6zM802.1 103.2h4l-2 -3.6zM807.6 103.2h4l-2 -3.6zM810.3 103.2h4l-2 -3.6zM814.4 103.2h4l-2 -3.6zM821.2 103.2h4l-2 -3.6zM829.3 103.2h4l-2 -3.6zM859.8 103.2h4l-2 -3.6z" fill="#e5232b"/>
<path d="M773.6 345.1h4l-2 -3.6zM796.7 345.1h4l-2 -3.6zM772.2 347.9h4l-2 -3.6zM781.7 350.6h4l-2 -3.6zM766.8 353.8h4l-2 -3.6zM772.8 354.7h4l-2 -3.6zM822.8 357.9h4l-2 -3.6zM785.8 360.9h4l-2 -3.6zM769.5 362.8h4l-2 -3.6zM811.6 363.4h4l-2 -3.6zM774.9 364.7h4l-2 -3.6zM779.0 366.4h4l-2 -3.6zM768.1 368.3h4l-2 -3.6zM773.6 369.6h4l-2 -3.6zM776.3 371.0h4l-2 -3.6zM780.4 369.1h4l-2 -3.6zM795.9 369.6h4l-2 -3.6zM769.5 373.7h4l-2 -3.6zM773.6 375.1h4l-2 -3.6zM777.7 375.1h4l-2 -3.6zM798.9 375.6h4l-2 -3.6zM786.6 376.4h4l-2 -3.6zM766.8 379.1h4l-2 -3.6zM770.9 379.9h4l-2 -3.6zM774.9 380.5h4l-2 -3.6zM768.1 382.7h4l-2 -3.6zM772.2 382.7h4l-2 -3.6zM775.7 381.9h4l-2 -3.6zM792.6 382.7h4l-2 -3.6zM790.7 384.6h4l-2 -3.6z" fill="#f2b827"/>
<text x="855.0" y="242.7" font-family="Liberation Serif, serif" font-size="16.4" font-weight="bold" fill="#222">down-fdr-0.01</text>
<text x="855.0" y="263.9" font-family="Liberation Serif, serif" font-size="16.4" font-weight="bold" fill="#222">down-fdr-0.05</text>
<text x="855.0" y="284.9" font-family="Liberation Serif, serif" font-size="16.4" font-weight="bold" fill="#222">nosignificant</text>
<text x="855.0" y="305.8" font-family="Liberation Serif, serif" font-size="16.4" font-weight="bold" fill="#222">up-fdr-0.05</text>
<text x="855.0" y="326.5" font-family="Liberation Serif, serif" font-size="16.4" font-weight="bold" fill="#222">up-fdr-0.01</text>
<path d="M840.3 230.9h4l-2 3.6z" fill="#2a4fa8"/>
<path d="M840.3 251.9h4l-2 3.6z" fill="#2aace2"/>
<circle cx="842.3" cy="272.5" r="0.8" fill="#222"/>
<path d="M840.3 293.1h4l-2 -3.6z" fill="#f2b827"/>
<path d="M840.3 311.6h4l-2 -3.6z" fill="#e5232b"/>
</g>
<g id="panelD">
<rect x="971.00" y="62.00" width="703.00" height="99.00" fill="url(#dbg)"/>
<text x="1041.5" y="58.0" font-family="Liberation Serif, serif" font-size="46.5" fill="#111">D</text>
<text x="1316.5" y="80.3" font-family="Liberation Sans, sans-serif" font-size="14.3" text-anchor="middle" fill="#222">Down-regulated Go items in Mutant/WT</text>
<rect x="1305.80" y="96.50" width="359.40" height="13.00" fill="#685ba3"/>
<text x="1296.8" y="107.0" font-family="Liberation Sans, sans-serif" font-size="14.4" text-anchor="end" fill="#151515">Ossification</text>
<rect x="1305.80" y="113.41" width="346.40" height="13.00" fill="#685ba3"/>
<text x="1296.8" y="123.9" font-family="Liberation Sans, sans-serif" font-size="14.4" text-anchor="end" fill="#151515">Bone development</text>
<rect x="1305.80" y="130.32" width="314.80" height="13.00" fill="#685ba3"/>
<text x="1296.8" y="140.8" font-family="Liberation Sans, sans-serif" font-size="14.4" text-anchor="end" fill="#151515">Skeletal system development</text>
<rect x="1305.80" y="147.23" width="258.60" height="13.00" fill="#685ba3"/>
<text x="1296.8" y="157.7" font-family="Liberation Sans, sans-serif" font-size="14.4" text-anchor="end" fill="#151515">Regulation of cell proliferation</text>
<rect x="1305.80" y="164.14" width="227.40" height="13.00" fill="#685ba3"/>
<text x="1296.8" y="174.6" font-family="Liberation Sans, sans-serif" font-size="14.4" text-anchor="end" fill="#151515">Regulation of epithelial cell proliferation</text>
<rect x="1305.80" y="181.05" width="222.70" height="13.00" fill="#685ba3"/>
<text x="1296.8" y="191.6" font-family="Liberation Sans, sans-serif" font-size="14.4" text-anchor="end" fill="#151515">Cartilage development</text>
<rect x="1305.80" y="197.96" width="200.20" height="13.00" fill="#685ba3"/>
<text x="1296.8" y="208.5" font-family="Liberation Sans, sans-serif" font-size="14.4" text-anchor="end" fill="#151515">Regulation of epithelial cell differentiation</text>
<rect x="1305.80" y="214.87" width="190.60" height="13.00" fill="#685ba3"/>
<text x="1296.8" y="225.4" font-family="Liberation Sans, sans-serif" font-size="14.4" text-anchor="end" fill="#151515">Embryonic skeletal joint morphogenesis</text>
<rect x="1305.80" y="231.78" width="177.20" height="13.00" fill="#685ba3"/>
<text x="1296.8" y="242.3" font-family="Liberation Sans, sans-serif" font-size="14.4" text-anchor="end" fill="#151515">Skeletal system morphogenesis</text>
<rect x="1305.80" y="248.69" width="173.80" height="13.00" fill="#685ba3"/>
<text x="1296.8" y="259.2" font-family="Liberation Sans, sans-serif" font-size="14.4" text-anchor="end" fill="#151515">Heart development</text>
<rect x="1305.80" y="265.60" width="173.30" height="13.00" fill="#685ba3"/>
<text x="1296.8" y="276.1" font-family="Liberation Sans, sans-serif" font-size="14.4" text-anchor="end" fill="#151515">Positive regulation of epithelial cell proliferation</text>
<rect x="1305.80" y="282.51" width="168.20" height="13.00" fill="#685ba3"/>
<text x="1296.8" y="293.0" font-family="Liberation Sans, sans-serif" font-size="14.4" text-anchor="end" fill="#151515">BMP signaling pathway</text>
<rect x="1305.80" y="299.42" width="168.20" height="13.00" fill="#685ba3"/>
<text x="1296.8" y="309.9" font-family="Liberation Sans, sans-serif" font-size="14.4" text-anchor="end" fill="#151515">Metanephros development</text>
<rect x="1305.80" y="316.33" width="160.80" height="13.00" fill="#685ba3"/>
<text x="1296.8" y="326.8" font-family="Liberation Sans, sans-serif" font-size="14.4" text-anchor="end" fill="#151515">Negative regulation of cell proliferation</text>
<rect x="1305.80" y="333.24" width="157.80" height="13.00" fill="#685ba3"/>
<text x="1296.8" y="343.7" font-family="Liberation Sans, sans-serif" font-size="14.4" text-anchor="end" fill="#151515">Response to abiotic stimulus</text>
<rect x="1305.80" y="350.15" width="157.30" height="13.00" fill="#685ba3"/>
<text x="1296.8" y="360.6" font-family="Liberation Sans, sans-serif" font-size="14.4" text-anchor="end" fill="#151515">Gland development</text>
<rect x="1305.80" y="367.06" width="157.30" height="13.00" fill="#685ba3"/>
<text x="1296.8" y="377.6" font-family="Liberation Sans, sans-serif" font-size="14.4" text-anchor="end" fill="#151515">Cell morphogenesis involved in differentiation</text>
<rect x="1305.80" y="383.97" width="154.30" height="13.00" fill="#685ba3"/>
<text x="1296.8" y="394.5" font-family="Liberation Sans, sans-serif" font-size="14.4" text-anchor="end" fill="#151515">Positive regulation of epidermal cell differentiation</text>
<rect x="1305.80" y="400.88" width="154.30" height="13.00" fill="#685ba3"/>
<text x="1296.8" y="411.4" font-family="Liberation Sans, sans-serif" font-size="14.4" text-anchor="end" fill="#151515">Positive regulation of keratinocyte differentiation</text>
<rect x="1305.80" y="417.79" width="147.40" height="13.00" fill="#685ba3"/>
<text x="1296.8" y="428.3" font-family="Liberation Sans, sans-serif" font-size="14.4" text-anchor="end" fill="#151515">Regulation of astrocyte differentiation</text>
<rect x="1305.80" y="434.70" width="147.40" height="13.00" fill="#685ba3"/>
<text x="1296.8" y="445.2" font-family="Liberation Sans, sans-serif" font-size="14.4" text-anchor="end" fill="#151515">Sensory perception of temperature stimulus</text>
<rect x="1305.80" y="451.61" width="144.80" height="13.00" fill="#685ba3"/>
<text x="1296.8" y="462.1" font-family="Liberation Sans, sans-serif" font-size="14.4" text-anchor="end" fill="#151515">Regulation of binding</text>
<rect x="1305.80" y="468.52" width="141.80" height="13.00" fill="#685ba3"/>
<text x="1296.8" y="479.0" font-family="Liberation Sans, sans-serif" font-size="14.4" text-anchor="end" fill="#151515">Mammary gland development</text>
<rect x="1305.80" y="485.43" width="140.00" height="13.00" fill="#685ba3"/>
<text x="1296.8" y="495.9" font-family="Liberation Sans, sans-serif" font-size="14.4" text-anchor="end" fill="#151515">Potassium ion transport</text>
<rect x="1305.80" y="502.34" width="138.30" height="13.00" fill="#685ba3"/>
<text x="1296.8" y="512.8" font-family="Liberation Sans, sans-serif" font-size="14.4" text-anchor="end" fill="#151515">Response to vitamin</text>
<rect x="1305.80" y="519.25" width="131.40" height="13.00" fill="#685ba3"/>
<text x="1296.8" y="529.8" font-family="Liberation Sans, sans-serif" font-size="14.4" text-anchor="end" fill="#151515">Positive regulation of epidermis development</text>
<rect x="1305.80" y="536.16" width="131.00" height="13.00" fill="#685ba3"/>
<text x="1296.8" y="546.7" font-family="Liberation Sans, sans-serif" font-size="14.4" text-anchor="end" fill="#151515">Heart morphogenesis</text>
<rect x="1305.80" y="553.07" width="127.10" height="13.00" fill="#685ba3"/>
<text x="1296.8" y="563.6" font-family="Liberation Sans, sans-serif" font-size="14.4" text-anchor="end" fill="#151515">Positive regulation of epithelial cell differentiation</text>
<rect x="1305.80" y="569.98" width="123.60" height="13.00" fill="#685ba3"/>
<text x="1296.8" y="580.5" font-family="Liberation Sans, sans-serif" font-size="14.4" text-anchor="end" fill="#151515">Regulation of keratinocyte differentiation</text>
<rect x="1305.80" y="586.89" width="123.60" height="13.00" fill="#685ba3"/>
<text x="1296.8" y="597.4" font-family="Liberation Sans, sans-serif" font-size="14.4" text-anchor="end" fill="#151515">Metal ion transport</text>
<rect x="1305.80" y="603.80" width="121.40" height="13.00" fill="#685ba3"/>
<text x="1296.8" y="614.3" font-family="Liberation Sans, sans-serif" font-size="14.4" text-anchor="end" fill="#151515">Response to temperature stimulus</text>
<rect x="1305.80" y="620.71" width="119.70" height="13.00" fill="#685ba3"/>
<text x="1296.8" y="631.2" font-family="Liberation Sans, sans-serif" font-size="14.4" text-anchor="end" fill="#151515">Phosphorylation</text>
<path d="M1305.2 94.4V636.3H1672" fill="none" stroke="#222" stroke-width="1.2"/>
<line x1="1305.2" y1="636.3" x2="1305.2" y2="641.0" stroke="#222" stroke-width="1.2"/>
<line x1="1397.0" y1="636.3" x2="1397.0" y2="641.0" stroke="#222" stroke-width="1.2"/>
<line x1="1488.7" y1="636.3" x2="1488.7" y2="641.0" stroke="#222" stroke-width="1.2"/>
<line x1="1580.0" y1="636.3" x2="1580.0" y2="641.0" stroke="#222" stroke-width="1.2"/>
<line x1="1671.6" y1="636.3" x2="1671.6" y2="641.0" stroke="#222" stroke-width="1.2"/>
<text x="1311.5" y="667.3" font-family="Liberation Sans, sans-serif" font-size="14.3" text-anchor="middle" fill="#222">Up-regulated GO items in Mutant/WT</text>
<rect x="1304.20" y="686.10" width="306.00" height="11.80" fill="#e99a7b"/>
<text x="1293.8" y="694.8" font-family="Liberation Sans, sans-serif" font-size="14.4" text-anchor="end" fill="#151515">Sensory perception of sound</text>
<rect x="1304.20" y="701.10" width="294.80" height="11.80" fill="#e99a7b"/>
<text x="1293.8" y="709.8" font-family="Liberation Sans, sans-serif" font-size="14.4" text-anchor="end" fill="#151515">Sensory perception of mechanical stimulus</text>
<rect x="1304.20" y="716.10" width="200.50" height="11.80" fill="#e99a7b"/>
<text x="1293.8" y="724.8" font-family="Liberation Sans, sans-serif" font-size="14.4" text-anchor="end" fill="#151515">Embryonic organ development</text>
<rect x="1304.20" y="731.10" width="193.60" height="11.80" fill="#e99a7b"/>
<text x="1293.8" y="739.8" font-family="Liberation Sans, sans-serif" font-size="14.4" text-anchor="end" fill="#151515">metal ion transport</text>
<rect x="1304.20" y="746.10" width="187.50" height="11.80" fill="#e99a7b"/>
<text x="1293.8" y="754.9" font-family="Liberation Sans, sans-serif" font-size="14.4" text-anchor="end" fill="#151515">Inner ear morphogenesis</text>
<rect x="1304.20" y="761.10" width="179.30" height="11.80" fill="#e99a7b"/>
<text x="1293.8" y="769.9" font-family="Liberation Sans, sans-serif" font-size="14.4" text-anchor="end" fill="#151515">Ion transport</text>
<rect x="1304.20" y="776.10" width="169.30" height="11.80" fill="#e99a7b"/>
<text x="1293.8" y="784.9" font-family="Liberation Sans, sans-serif" font-size="14.4" text-anchor="end" fill="#151515">Ear morphogenesis</text>
<rect x="1304.20" y="791.10" width="164.10" height="11.80" fill="#e99a7b"/>
<text x="1293.8" y="799.9" font-family="Liberation Sans, sans-serif" font-size="14.4" text-anchor="end" fill="#151515">Potassium ion transport</text>
<rect x="1304.20" y="806.10" width="151.60" height="11.80" fill="#e99a7b"/>
<text x="1293.8" y="814.9" font-family="Liberation Sans, sans-serif" font-size="14.4" text-anchor="end" fill="#151515">Cation transport</text>
<rect x="1304.20" y="821.10" width="150.30" height="11.80" fill="#e99a7b"/>
<text x="1293.8" y="829.9" font-family="Liberation Sans, sans-serif" font-size="14.4" text-anchor="end" fill="#151515">Inner ear development</text>
<rect x="1304.20" y="836.10" width="142.50" height="11.80" fill="#e99a7b"/>
<text x="1293.8" y="844.9" font-family="Liberation Sans, sans-serif" font-size="14.4" text-anchor="end" fill="#151515">Embryonic organ morphogenesis</text>
<rect x="1304.20" y="851.10" width="135.10" height="11.80" fill="#e99a7b"/>
<text x="1293.8" y="860.0" font-family="Liberation Sans, sans-serif" font-size="14.4" text-anchor="end" fill="#151515">Monovalent inorganic cation transport</text>
<rect x="1304.20" y="866.10" width="133.80" height="11.80" fill="#e99a7b"/>
<text x="1293.8" y="875.0" font-family="Liberation Sans, sans-serif" font-size="14.4" text-anchor="end" fill="#151515">Fatty acid metabolic process</text>
<rect x="1304.20" y="881.10" width="133.00" height="11.80" fill="#e99a7b"/>
<text x="1293.8" y="890.0" font-family="Liberation Sans, sans-serif" font-size="14.4" text-anchor="end" fill="#151515">Cell-cell signaling</text>
<rect x="1304.20" y="896.10" width="131.30" height="11.80" fill="#e99a7b"/>
<text x="1293.8" y="905.0" font-family="Liberation Sans, sans-serif" font-size="14.4" text-anchor="end" fill="#151515">Ear development</text>
<rect x="1304.20" y="911.10" width="129.10" height="11.80" fill="#e99a7b"/>
<text x="1293.8" y="920.0" font-family="Liberation Sans, sans-serif" font-size="14.4" text-anchor="end" fill="#151515">Regulation of cell development</text>
<rect x="1304.20" y="926.10" width="122.20" height="11.80" fill="#e99a7b"/>
<text x="1293.8" y="935.0" font-family="Liberation Sans, sans-serif" font-size="14.4" text-anchor="end" fill="#151515">Positive regulation of developmental process</text>
<rect x="1304.20" y="941.10" width="117.80" height="11.80" fill="#e99a7b"/>
<text x="1293.8" y="950.1" font-family="Liberation Sans, sans-serif" font-size="14.4" text-anchor="end" fill="#151515">Transmembrane transport</text>
<rect x="1304.20" y="956.10" width="108.30" height="11.80" fill="#e99a7b"/>
<text x="1293.8" y="965.1" font-family="Liberation Sans, sans-serif" font-size="14.4" text-anchor="end" fill="#151515">Embryonic morphogenesis</text>
<rect x="1304.20" y="971.10" width="107.50" height="11.80" fill="#e99a7b"/>
<text x="1293.8" y="980.1" font-family="Liberation Sans, sans-serif" font-size="14.4" text-anchor="end" fill="#151515">fibroblast growth factor receptor signaling pathway</text>
<rect x="1304.20" y="986.10" width="107.00" height="11.80" fill="#e99a7b"/>
<text x="1293.8" y="995.1" font-family="Liberation Sans, sans-serif" font-size="14.4" text-anchor="end" fill="#151515">Regulation of system process</text>
<rect x="1304.20" y="1001.10" width="104.40" height="11.80" fill="#e99a7b"/>
<text x="1293.8" y="1010.1" font-family="Liberation Sans, sans-serif" font-size="14.4" text-anchor="end" fill="#151515">Actin filament organization</text>
<rect x="1304.20" y="1016.10" width="102.70" height="11.80" fill="#e99a7b"/>
<text x="1293.8" y="1025.1" font-family="Liberation Sans, sans-serif" font-size="14.4" text-anchor="end" fill="#151515">Circulatory system process</text>
<rect x="1304.20" y="1031.10" width="102.70" height="11.80" fill="#e99a7b"/>
<text x="1293.8" y="1040.1" font-family="Liberation Sans, sans-serif" font-size="14.4" text-anchor="end" fill="#151515">Blood circulation</text>
<rect x="1304.20" y="1046.10" width="97.90" height="11.80" fill="#e99a7b"/>
<text x="1293.8" y="1055.2" font-family="Liberation Sans, sans-serif" font-size="14.4" text-anchor="end" fill="#151515">Neurological system process</text>
<path d="M1303.6 679.8V1058.8H1650.5" fill="none" stroke="#222" stroke-width="1.2"/>
<line x1="1303.0" y1="1058.8" x2="1303.0" y2="1063.0" stroke="#222" stroke-width="1.2"/>
<text x="1303.0" y="1075.5" font-family="Liberation Sans, sans-serif" font-size="10.5" font-weight="bold" text-anchor="middle" fill="#222">0</text>
<line x1="1372.7" y1="1058.8" x2="1372.7" y2="1063.0" stroke="#222" stroke-width="1.2"/>
<text x="1372.7" y="1075.5" font-family="Liberation Sans, sans-serif" font-size="10.5" font-weight="bold" text-anchor="middle" fill="#222">1</text>
<line x1="1441.9" y1="1058.8" x2="1441.9" y2="1063.0" stroke="#222" stroke-width="1.2"/>
<text x="1441.9" y="1075.5" font-family="Liberation Sans, sans-serif" font-size="10.5" font-weight="bold" text-anchor="middle" fill="#222">2</text>
<line x1="1511.2" y1="1058.8" x2="1511.2" y2="1063.0" stroke="#222" stroke-width="1.2"/>
<text x="1511.2" y="1075.5" font-family="Liberation Sans, sans-serif" font-size="10.5" font-weight="bold" text-anchor="middle" fill="#222">3</text>
<line x1="1580.8" y1="1058.8" x2="1580.8" y2="1063.0" stroke="#222" stroke-width="1.2"/>
<text x="1580.8" y="1075.5" font-family="Liberation Sans, sans-serif" font-size="10.5" font-weight="bold" text-anchor="middle" fill="#222">4</text>
<line x1="1650.0" y1="1058.8" x2="1650.0" y2="1063.0" stroke="#222" stroke-width="1.2"/>
<text x="1650.0" y="1075.5" font-family="Liberation Sans, sans-serif" font-size="10.5" font-weight="bold" text-anchor="middle" fill="#222">5</text>
<text x="1476.7" y="1092.5" font-family="Liberation Sans, sans-serif" font-size="12.2" font-weight="bold" text-anchor="middle" fill="#222">-log10(<tspan font-style="italic">P</tspan> value)</text>
</g>
<g id="panelE">
<text x="540.5" y="580.8" font-family="Liberation Serif, serif" font-size="46.5" fill="#111">E</text>
<line x1="653.0" y1="691.9" x2="653.0" y2="689.2" stroke="#231815" stroke-width="2.5"/><line x1="646.0" y1="689.2" x2="660.0" y2="689.2" stroke="#231815" stroke-width="2.5"/><rect x="642.0" y="691.9" width="22.0" height="127.7" fill="#685ba3" stroke="#231815" stroke-width="2.6"/>
<line x1="689.4" y1="802.8" x2="689.4" y2="798.2" stroke="#231815" stroke-width="2.5"/><line x1="682.4" y1="798.2" x2="696.4" y2="798.2" stroke="#231815" stroke-width="2.5"/><rect x="678.2" y="802.8" width="22.3" height="16.8" fill="#ea987a" stroke="#231815" stroke-width="2.6"/>
<line x1="749.4" y1="691.9" x2="749.4" y2="672.3" stroke="#231815" stroke-width="2.5"/><line x1="742.4" y1="672.3" x2="756.4" y2="672.3" stroke="#231815" stroke-width="2.5"/><rect x="738.3" y="691.9" width="22.2" height="127.7" fill="#685ba3" stroke="#231815" stroke-width="2.6"/>
<line x1="786.1" y1="764.5" x2="786.1" y2="762.0" stroke="#231815" stroke-width="2.5"/><line x1="779.1" y1="762.0" x2="793.1" y2="762.0" stroke="#231815" stroke-width="2.5"/><rect x="775.0" y="764.5" width="22.3" height="55.1" fill="#ea987a" stroke="#231815" stroke-width="2.6"/>
<line x1="846.2" y1="691.9" x2="846.2" y2="677.5" stroke="#231815" stroke-width="2.5"/><line x1="839.2" y1="677.5" x2="853.2" y2="677.5" stroke="#231815" stroke-width="2.5"/><rect x="835.1" y="691.9" width="22.2" height="127.7" fill="#685ba3" stroke="#231815" stroke-width="2.6"/>
<line x1="882.1" y1="675.6" x2="882.1" y2="662.2" stroke="#231815" stroke-width="2.5"/><line x1="875.1" y1="662.2" x2="889.1" y2="662.2" stroke="#231815" stroke-width="2.5"/><rect x="871.0" y="675.6" width="22.2" height="144.0" fill="#ea987a" stroke="#231815" stroke-width="2.6"/>
<path d="M622.4 626V819.6H913.4" fill="none" stroke="#231815" stroke-width="2.4"/>
<line x1="616.5" y1="627.2" x2="622.4" y2="627.2" stroke="#231815" stroke-width="2.2"/>
<text x="613.5" y="631.9" font-family="Liberation Sans, sans-serif" font-size="13" font-weight="bold" text-anchor="end" fill="#231815">1.5</text>
<line x1="616.5" y1="691.9" x2="622.4" y2="691.9" stroke="#231815" stroke-width="2.2"/>
<text x="613.5" y="696.6" font-family="Liberation Sans, sans-serif" font-size="13" font-weight="bold" text-anchor="end" fill="#231815">1.0</text>
<line x1="616.5" y1="755.8" x2="622.4" y2="755.8" stroke="#231815" stroke-width="2.2"/>
<text x="613.5" y="760.5" font-family="Liberation Sans, sans-serif" font-size="13" font-weight="bold" text-anchor="end" fill="#231815">0.5</text>
<line x1="616.5" y1="819.6" x2="622.4" y2="819.6" stroke="#231815" stroke-width="2.2"/>
<text x="613.5" y="824.3" font-family="Liberation Sans, sans-serif" font-size="13" font-weight="bold" text-anchor="end" fill="#231815">0.0</text>
<line x1="670.6" y1="819.6" x2="670.6" y2="825.5" stroke="#231815" stroke-width="2.2"/>
<line x1="767.1" y1="819.6" x2="767.1" y2="825.5" stroke="#231815" stroke-width="2.2"/>
<line x1="864.4" y1="819.6" x2="864.4" y2="825.5" stroke="#231815" stroke-width="2.2"/>
<line x1="648.8" y1="647.8" x2="689.0" y2="647.8" stroke="#231815" stroke-width="2.6"/>
<text x="669.2" y="647.5" font-family="Liberation Sans, sans-serif" font-size="15" text-anchor="middle" fill="#231815">***</text>
<line x1="745.6" y1="647.8" x2="786.0" y2="647.8" stroke="#231815" stroke-width="2.6"/>
<text x="766.0" y="647.5" font-family="Liberation Sans, sans-serif" font-size="15" text-anchor="middle" fill="#231815">*</text>
<line x1="842.7" y1="647.8" x2="883.5" y2="647.8" stroke="#231815" stroke-width="2.6"/>
<text x="863.9" y="643.3" font-family="Liberation Sans, sans-serif" font-size="17" text-anchor="middle" fill="#231815">NS</text>
<rect x="902.2" y="653.5" width="20.8" height="10.4" fill="#685ba3" stroke="#231815" stroke-width="2.6"/>
<rect x="902.2" y="677.3" width="20.8" height="10.4" fill="#ea987a" stroke="#231815" stroke-width="2.6"/>
<text x="932.0" y="665.6" font-family="Liberation Serif, serif" font-size="24" fill="#111">WT</text>
<text x="932.0" y="690.6" font-family="Liberation Serif, serif" font-size="25.8" fill="#111">KO</text>
<text transform="translate(577.3,721) rotate(-90)" font-family="Liberation Serif, serif" font-size="24.8" text-anchor="middle" fill="#111">Relative mRNA level</text>
<text x="665.0" y="857.0" font-family="Liberation Serif, serif" font-size="24.2" text-anchor="middle" fill="#111">CCND1</text>
<text x="763.0" y="857.0" font-family="Liberation Serif, serif" font-size="24.2" text-anchor="middle" fill="#111">CCND2</text>
<text x="860.5" y="857.0" font-family="Liberation Serif, serif" font-size="24.2" text-anchor="middle" fill="#111">CCND3</text>
</g>
<g id="panelF">
<text x="542.7" y="942.8" font-family="Liberation Serif, serif" font-size="46.5" fill="#111">F</text>
<text x="704.0" y="937.6" font-family="Liberation Serif, serif" font-size="31.5" text-anchor="middle" fill="#111">WT</text>
<text x="789.5" y="937.6" font-family="Liberation Serif, serif" font-size="32" text-anchor="middle" fill="#111">KO</text>
<clipPath id="cb1"><rect x="672" y="946.6" width="150.3" height="64.4"/></clipPath>
<g clip-path="url(#cb1)">
<rect x="672.00" y="946.60" width="150.30" height="64.40" fill="#e5e5e5"/>
<rect x="737" y="940" width="22" height="80" fill="#f5f5f5" filter="url(#bl6)"/>
<rect x="678" y="973.5" width="53" height="19.5" rx="8" fill="#303030" filter="url(#bl4)"/>
<rect x="682" y="978.5" width="46" height="9" rx="4" fill="#0a0a0a" filter="url(#bl4)"/>
<rect x="766" y="976" width="54" height="14" rx="6" fill="#a2a2a2" filter="url(#bl4)" opacity="0.8"/>
</g>
<rect x="672" y="946.6" width="150.3" height="64.4" fill="none" stroke="#1a1a1a" stroke-width="2.1"/>
<clipPath id="cb2"><rect x="672" y="1024.6" width="150.3" height="64"/></clipPath>
<g clip-path="url(#cb2)">
<rect x="672.00" y="1024.60" width="150.30" height="64.00" fill="#e3e3e3"/>
<rect x="740" y="1015" width="18" height="80" fill="#f3f3f3" filter="url(#bl6)"/>
<path d="M668 1059 C692 1060 716 1056 736 1048.5" fill="none" stroke="#1a1a1a" stroke-width="13" stroke-linecap="round" filter="url(#bl4)"/>
<path d="M670 1059 C692 1060 716 1056 734 1049" fill="none" stroke="#000" stroke-width="7" stroke-linecap="round" filter="url(#bl2)"/>
<path d="M763 1045 C776 1042.5 792 1043 804 1047.5" fill="none" stroke="#2a2a2a" stroke-width="10.5" stroke-linecap="round" filter="url(#bl3)"/>
<path d="M763 1045 C770 1043.5 778 1043 784 1043.5" fill="none" stroke="#1a1a1a" stroke-width="8" stroke-linecap="round" filter="url(#bl3)"/>
</g>
<rect x="672" y="1024.6" width="150.3" height="64" fill="none" stroke="#1a1a1a" stroke-width="2.1"/>
<text x="586.5" y="969.5" font-family="Liberation Serif, serif" font-size="24.3" fill="#111">35kDa</text>
<line x1="653.5" y1="961.0" x2="672.0" y2="961.0" stroke="#111" stroke-width="4.3"/>
<text x="586.5" y="998.0" font-family="Liberation Serif, serif" font-size="24.3" fill="#111">25kDa</text>
<line x1="653.5" y1="996.4" x2="672.0" y2="996.4" stroke="#111" stroke-width="4.3"/>
<text x="586.5" y="1040.9" font-family="Liberation Serif, serif" font-size="24.3" fill="#111">40kDa</text>
<line x1="653.5" y1="1029.0" x2="672.0" y2="1029.0" stroke="#111" stroke-width="4.3"/>
<text x="586.5" y="1068.1" font-family="Liberation Serif, serif" font-size="24.3" fill="#111">35kDa</text>
<line x1="653.5" y1="1066.2" x2="672.0" y2="1066.2" stroke="#111" stroke-width="4.3"/>
<text x="846.5" y="987.4" font-family="Liberation Serif, serif" font-size="31" fill="#111">CCND1</text>
<text x="848.5" y="1061.6" font-family="Liberation Serif, serif" font-size="31.8" fill="#111">GAPDH</text>
</g>
<g id="panelG">
<text x="8.8" y="1126.9" font-family="Liberation Serif, serif" font-size="46.5" fill="#111">G</text>
<rect x="31.2" y="1116.5" width="1613.8" height="808.5" rx="128" ry="128" fill="none" stroke="#2f5597" stroke-width="1.7" filter="url(#shbig)"/>
<rect x="570.1" y="1182.3" width="121.1" height="60.5" rx="8.5" fill="url(#ggrad)" filter="url(#sh)"/><text x="630.8" y="1223.5" font-family="Liberation Serif, serif" font-size="28" text-anchor="middle" fill="#111">FAM49B</text>
<path d="M566.7 1247.6L530.5 1300" stroke="#111" stroke-width="1.6" stroke-dasharray="7 4.5" fill="none"/>
<path d="M529.5 1289.5L528.6 1302.5L540.5 1296.5" stroke="#111" stroke-width="1.6" fill="none"/>
<ellipse cx="489.0" cy="1350.0" rx="60.0" ry="45.3" fill="url(#gell)" filter="url(#sh)"/><text x="494.5" y="1364.0" font-family="Liberation Serif, serif" font-size="28" text-anchor="middle" fill="#111">Cyclin D</text>
<ellipse cx="545.4" cy="1401.5" rx="53.4" ry="33.0" fill="url(#gell)" filter="url(#sh)"/><text x="545.5" y="1413.5" font-family="Liberation Serif, serif" font-size="28" text-anchor="middle" fill="#111">CDK4/6</text>
<ellipse cx="318.9" cy="1470.0" rx="81.0" ry="37.4" fill="url(#bgrad)" filter="url(#sh)"/>
<text x="321.0" y="1485.0" font-family="Liberation Serif, serif" font-size="27.5" text-anchor="middle" fill="#111">Rb</text>
<rect x="265.8" y="1403.6" width="106.8" height="51.4" rx="8.5" fill="url(#ggrad)" filter="url(#sh)"/><text x="325.0" y="1436.3" font-family="Liberation Serif, serif" font-size="28" text-anchor="middle" fill="#111">E2F</text>
<line x1="423.0" y1="1463.6" x2="651.3" y2="1463.6" stroke="#111" stroke-width="2.0"/><polygon points="662.3,1463.6 649.3,1468.8 649.3,1458.4" fill="#111"/>
<ellipse cx="758.8" cy="1474.0" rx="80.6" ry="37.6" fill="url(#bgrad)" filter="url(#sh)"/>
<text x="761.4" y="1490.5" font-family="Liberation Serif, serif" font-size="27.5" text-anchor="middle" fill="#111">Rb</text>
<rect x="705.5" y="1407.7" width="106.7" height="50.8" rx="8.5" fill="url(#ggrad)" filter="url(#sh)"/><text x="758.4" y="1440.2" font-family="Liberation Serif, serif" font-size="28" text-anchor="middle" fill="#111">E2F</text>
<circle cx="830.8" cy="1502.2" r="19.6" fill="#d9d9d9"/><text x="830.8" y="1510.5" font-family="Liberation Serif, serif" font-size="25" text-anchor="middle" fill="#111">P</text>
<ellipse cx="915.8" cy="1349.8" rx="59.4" ry="44.8" fill="url(#gell)" filter="url(#sh)"/><text x="921.0" y="1360.0" font-family="Liberation Serif, serif" font-size="28" text-anchor="middle" fill="#111">Cyclin E</text>
<ellipse cx="973.2" cy="1401.5" rx="53.0" ry="32.4" fill="url(#gell)" filter="url(#sh)"/><text x="985.0" y="1413.0" font-family="Liberation Serif, serif" font-size="28" text-anchor="middle" fill="#111">CDK2</text>
<line x1="882.0" y1="1463.4" x2="1081.4" y2="1466.6" stroke="#111" stroke-width="2.0"/><polygon points="1092.4,1466.8 1079.3,1471.8 1079.5,1461.4" fill="#111"/>
<path d="M990 1464.6 C1020 1464 1045 1453 1053.5 1428 C1058 1413 1059 1401 1063 1390 C1070 1372 1088 1361 1117 1357.5" fill="none" stroke="#111" stroke-width="2"/>
<polygon points="1128.0,1355.6 1116.1,1362.9 1114.3,1352.7" fill="#111"/>
<ellipse cx="1241.8" cy="1299.2" rx="82" ry="39.6" fill="#7f907c" opacity="0.6"/>
<ellipse cx="1241.8" cy="1300.2" rx="81.5" ry="38.9" fill="url(#bgrad)" filter="url(#sh)"/>
<text x="1245.0" y="1305.0" font-family="Liberation Serif, serif" font-size="27.5" text-anchor="middle" fill="#111">Rb</text>
<circle cx="1166.0" cy="1322.3" r="18.8" fill="#d9d9d9"/><text x="1166.0" y="1330.6" font-family="Liberation Serif, serif" font-size="25" text-anchor="middle" fill="#111">P</text>
<circle cx="1211.0" cy="1341.6" r="18.8" fill="#d9d9d9"/><text x="1211.0" y="1349.9" font-family="Liberation Serif, serif" font-size="25" text-anchor="middle" fill="#111">P</text>
<circle cx="1278.3" cy="1341.6" r="18.8" fill="#d9d9d9"/><text x="1278.3" y="1349.9" font-family="Liberation Serif, serif" font-size="25" text-anchor="middle" fill="#111">P</text>
<circle cx="1324.0" cy="1321.4" r="18.8" fill="#d9d9d9"/><text x="1324.0" y="1329.7" font-family="Liberation Serif, serif" font-size="25" text-anchor="middle" fill="#111">P</text>
<rect x="1139.0" y="1445.6" width="106.0" height="50.4" rx="8.5" fill="url(#ggrad)" filter="url(#sh)"/><text x="1193.0" y="1476.5" font-family="Liberation Serif, serif" font-size="28" text-anchor="middle" fill="#111">E2F</text>
<path d="M192 1541.7H1437V1591.5H192Q188 1591.5 188 1587.5V1545.7Q188 1541.7 192 1541.7Z" fill="url(#barg)"/>
<path d="M1436 1516.3L1487.2 1566.6L1436 1617.2Z" fill="url(#barg)"/>
<path d="M192 1541.7H1436V1516.3L1487.2 1566.6L1436 1617.2V1591.5H192Q188 1591.5 188 1587.5V1545.7Q188 1541.7 192 1541.7Z" fill="none" stroke="#7c9bc8" stroke-width="1.1"/>
<line x1="1164.7" y1="1541.2" x2="1164.7" y2="1592.2" stroke="#3f6fbe" stroke-width="4.8"/>
<text x="699.0" y="1578.6" font-family="Liberation Serif, serif" font-size="34" text-anchor="middle" fill="#111">G1</text>
<text x="1304.0" y="1580.6" font-family="Liberation Serif, serif" font-size="35" text-anchor="middle" fill="#111">S</text>
<ellipse cx="664.0" cy="1681.0" rx="81.0" ry="37.6" fill="url(#bgrad)" filter="url(#sh)"/>
<text x="667.4" y="1698.0" font-family="Liberation Serif, serif" font-size="27.5" text-anchor="middle" fill="#111">Rb</text>
<rect x="611.5" y="1615.9" width="106.7" height="49.3" rx="8.5" fill="url(#ggrad)" filter="url(#sh)"/><text x="672.5" y="1649.5" font-family="Liberation Serif, serif" font-size="28" text-anchor="middle" fill="#111">E2F</text>
<path d="M377 1721H445Q448.5 1721 447 1724.5Q422.5 1769.5 448 1814.5Q450 1818 446 1818H377Q374.5 1818 373.3 1815.5Q350.5 1769.5 373.3 1723.5Q374.5 1721 377 1721Z" fill="url(#bgrad2)" filter="url(#sh)"/>
<path d="M376 1721.2H446" stroke="#7d8d8a" stroke-width="1.3" opacity="0.8"/>
<text x="397.7" y="1787.7" font-family="Liberation Serif, serif" font-size="28" text-anchor="middle" fill="#111">E1A</text>
<line x1="490.5" y1="1768.4" x2="561.6" y2="1722.6" stroke="#111" stroke-width="2.0"/><polygon points="570.8,1716.6 562.7,1728.0 557.1,1719.3" fill="#111"/>
<line x1="803.0" y1="1665.0" x2="1093.0" y2="1665.0" stroke="#111" stroke-width="2.0"/><polygon points="1104.0,1665.0 1091.0,1670.2 1091.0,1659.8" fill="#111"/>
<path d="M900 1665 C945 1665 975 1681 980 1718 C984.5 1752 1010 1768 1041 1771.5" fill="none" stroke="#111" stroke-width="2"/>
<polygon points="1053.0,1773.2 1039.5,1776.8 1040.7,1766.5" fill="#111"/>
<rect x="1150.0" y="1631.4" width="106.0" height="49.5" rx="8.5" fill="url(#ggrad)" filter="url(#sh)"/><text x="1204.0" y="1668.0" font-family="Liberation Serif, serif" font-size="28" text-anchor="middle" fill="#111">E2F</text>
<path d="M1125 1775.8H1200V1873.6H1125Q1122.5 1873.6 1121.3 1871Q1096 1824.7 1121.3 1778.4Q1122.5 1775.8 1125 1775.8Z" fill="url(#bgrad2)" filter="url(#sh)"/>
<path d="M1124 1776H1196" stroke="#7d8d8a" stroke-width="1.3" opacity="0.8"/>
<ellipse cx="1222.7" cy="1823" rx="41.9" ry="71.2" fill="url(#bgradh)" filter="url(#sh)"/>
<text x="1147.0" y="1833.8" font-family="Liberation Serif, serif" font-size="28" text-anchor="middle" fill="#111">E1A</text>
<text x="1216.0" y="1833.8" font-family="Liberation Serif, serif" font-size="28" text-anchor="middle" fill="#111">Rb</text>
<text x="1338.5" y="1918.8" font-family="Liberation Serif, serif" font-size="35.4" fill="#111">HEK293T cell</text>
</g>
</svg></body></html>
